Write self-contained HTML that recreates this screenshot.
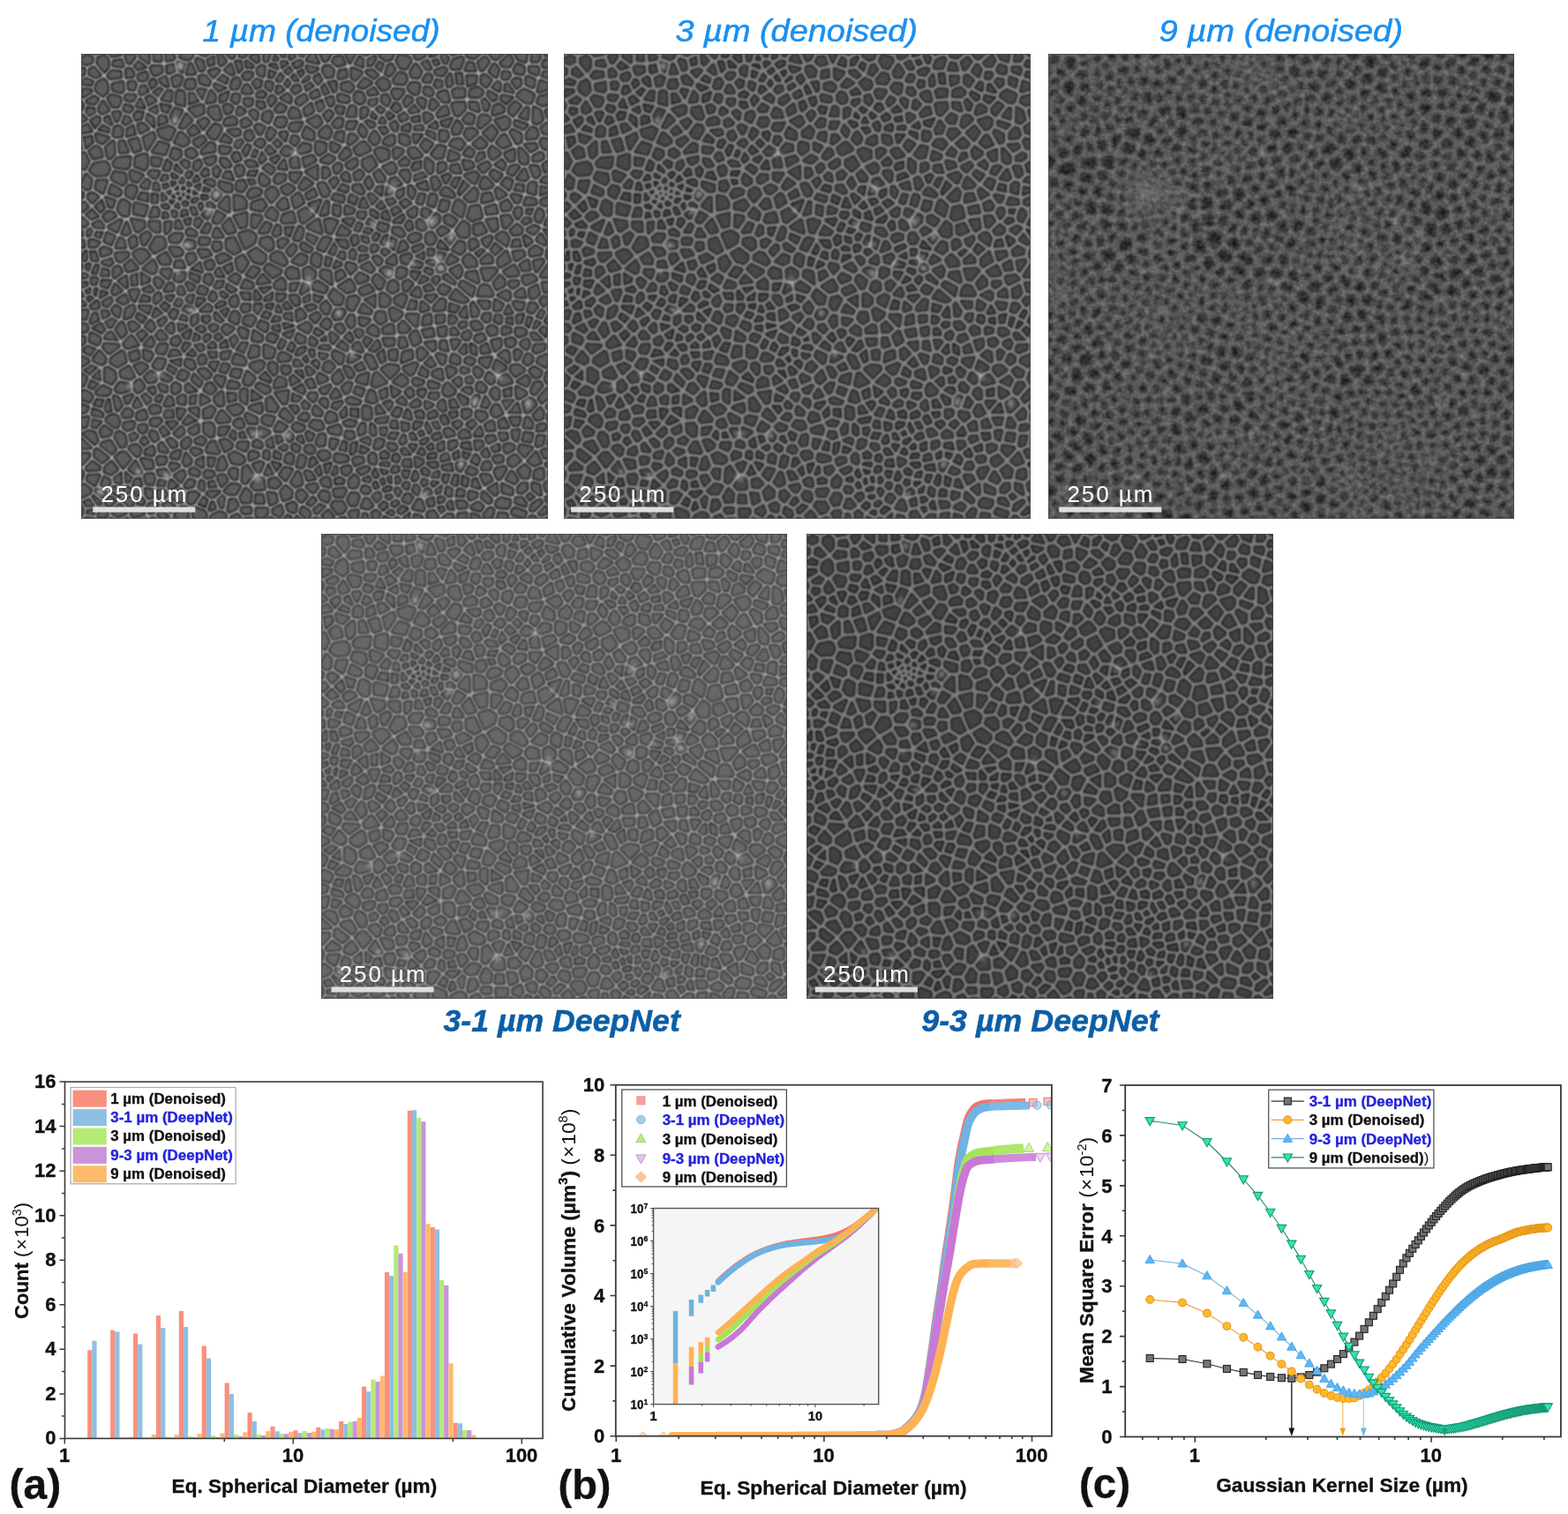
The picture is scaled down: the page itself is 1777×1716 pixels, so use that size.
<!DOCTYPE html>
<html lang="en"><head><meta charset="utf-8"><title>Figure</title>
<style>html,body{margin:0;padding:0;background:#fff}body{width:1777px;height:1716px;overflow:hidden}svg{display:block}text{white-space:pre}</style>
</head><body>
<svg width="1777" height="1716" viewBox="0 0 1777 1716" font-family="'Liberation Sans', Arial, sans-serif">
<rect width="1777" height="1716" fill="#fff"/>
<defs>
<path id="cL" d="M619 95l7-9 11 3 6 12-3 9-10 3-10-7zM1053 1006l22-10 25 17-38 5-6-3zM1023 0l9-6 1-1 7 15-6 9-13 0zM1002 791l15-10 8 4 6 10-17 17-7 0zM20 638l3-5 19 10 1 7-5 9-18-7zM576 760l2 0 10 16-19 5-3-5zM335 510l14-11 11 7-7 15zM851 929l11-4 8 3-10 18-7-3zM619 214l18-14 6 1 12 14-1 4-23 11-7-4zM215 497l20 0-1 11-6 7-10 1-7-5zM777 136l6-2 11 6 2 5-15 11-2-3zM294 84l9 10 0 13-17 4-2-2zM1035 866l15 0-4 19-12 5-3-5zM888 -14l19 10-16 14-14-3-3-5zM264 -8l12-8 23 5 2 3-1 1-20 11-14-6zM763 1011l4-1 4 2 6 19-3 5-21-5-1-1 0-2zM779 76l12 1 6 9-1 6-8 3-11-6zM114 1039l11-6 13 1 4 9-20 6-6-2-2-3zM56 1015l8-11 14 9-14 13-8-5zM582 95l3-3 21 6 1 9-5 3-18-3zM243 996l15-3 9 6-12 18-8 3-5-4zM1069 625l2-1 12 6-10 16-11 2zM349 681l19 7 5 9-3 8-24-3-3-5zM212 956l18-11 3 1 2 10-9 14zM394 166l3-4 6-2 12 6-7 15-5 1zM452 993l11-13 2 0 12 11-1 14-18 7zM29 250l24-5 7 4 4 12-6 13-25 2-13-11zM635 482l18-9 11 16-7 6-22-11zM1026 121l14 7 6 21-11 9-10-3zM757 24l3 1 11 16-7 13-14-1-4-11zM629 731l21-7 1 1-4 24-22-7-1-1zM659 1041l9-6 9 8-5 15-3 3-5 0zM203 611l5 1 2 17-7 4-10-11zM133 842l13-1 3 7-5 10-6 1-8-8zM228 1108l6-35 15-12 12 6-11 175zM307 460l16-7 16 10-24 11-2 0zM1014 297l8-6 8 2 1 3-2 22-16-5zM896 753l4-7 6-1 12 12-4 9-3 1-13-4zM296 1047l16-8 10 2 6 7-10 12-15 1-9-7zM993 215l3-1 16 18 0 13-4 4-5 0-9-6zM-7 346l1-3 13-6 8 9-11 11zM278 838l17-1 6 8-1 21-8 2-13-10zM-44 72l25-10 7 3 5 10-4 15zM721 2l22 6 4 8-11 18-13-3-8-15zM539 865l11-3 3 5-2 20-12 2-6-8zM990 944l15-12 12 11-4 18-13 0zM644 691l1-6 2-3 13 4 10 22-1 3-10 3-3-1zM605 154l19 0-7 16-13 0-2-2zM840 684l1-2 6 0 11 8-1 11-3 2-17-5zM209 214l16 6 1 11-11 9-2 0-11-8zM882 348l17-4 4 4 5 21-1 2-22 7-9-7zM924 1031l6-1 5 5-4 14-15 6-3-11zM177 659l16-1 2 6-7 16-14-2-3-7zM717 488l5-4 15 5-1 12-13 8-8-5zM313 343l15-18 6 0 1 33-21-11zM243 175l13-12 11 14-16 8zM344 59l10-4 7 10-7 14-12 0-2-2-1-3zM301 160l12 2 4 8 0 3-12 20-11-3-8-10zM570 732l15-15 9 20-13 11-5-2-5-6zM951 340l15-8 9 13-5 9-15 1zM1038 98l25-6 12 7-6 11-23 7-12-7zM381 803l4-4 23-7 2 18-6 4zM660 179l6-3 10 14-4 12-8 4-11-12zM938 559l1-1 17 10-7 13-12 0-1-1zM174 990l15 1 4 6-1 7-12 5-5-3zM285 749l9-3 11 14-11 11-15-9zM385 307l14-2 9 5-2 8-23 9-6-8zM400 961l6 0 7 4 2 21-2 1-19 1-8-9zM438 523l2-4 15-10 7 9 0 16-20-2-1-1zM371 102l16 0 1 2-2 11-8 4-9-8zM190 383l13-2-1 17-10 9-1-1zM144 733l14-13 11 7 0 12-3 4-13 2zM298 319l5-8 3-1 10 9-10 13-7-5zM335 910l13-7 19 10 3 10-10 7-18-3zM989 743l20-13 8 10-7 13zM144 959l3-5 15-2 4 10-4 14-14-2zM1016 534l17-9 5 18-9 10-11 0zM478 327l13-11 6 4 7 17-19 12-1-1zM682 97l1-2 10-2 7 13-7 11-11-8zM742 218l10-5 6 1 14 16-1 2-19 5-10-13zM158 1054l6-1 14 13-13 10-7-8zM504 490l11-6 15 10 0 11-12 8-12-4zM617 919l9-5 13 2 1 9-19 8-4-8zM3 765l5-1 14 7 3 7-6 11-20-8zM986 622l14 0 9 8-1 5-16 6-7-7zM337 560l6-8 8-4 5 13-5 11-8 0-4-4zM970 123l14-14 12 9-17 22-9-7zM280 948l4-3 14 2 3 4-2 6-14 4-6-4zM946 683l13-10 10 3 2 20-3 3zM351 468l1-3 15-8 11 18-13 19-10-6zM99 480l14-12 15 18-1 1-20 6-3-1zM-13 1031l8-11 8 13-1 10-2 3-10 2zM671 586l2-1 14 1 4 18-13 8-11-9-1-6zM777 596l14-5 1 1 1 19-19 3zM912 280l4 0 17 17-5 6-19 3-5-7zM324 -7l14-11 9 10-1 15-5 3zM590 390l19 13-6 8-23-1zM418 382l12 5-7 17-17 2-2-3zM781 240l3-3 13 10-1 21-6 3-9-11zM1057 444l4-2 11 2 10 15-12 11-10-4-5-8zM990 984l9-10 11 0 0 13-10 8-10-1zM572 990l3-3 22-2 3 5-7 14-18-1zM281 473l15-5 5 11-7 9-8 0zM174 173l26-8 11 6 1 2-11 22-22-8zM638 241l19-9 12 20-16 14-2 0-13-13zM959 887l13-3 9 4-1 9-16 8-4-4zM950 734l14-7 12 15 0 3-22 6-7-4zM910 994l2-1 18 18-2 6-6 1-14-11zM294 880l8-1 11 24-4 3-23-3-2-8zM507 948l3-2 10 2 10 15-17 3zM552 703l10-6 12 12-12 13-14-7zM405 847l21 9 1 2-14 11-9-4zM448 834l18 11-11 11-15-1-1-4zM628 851l8-13 7 2 0 19-12 5zM346 839l3-7 13-5 7 15-3 4-10 2-8-6zM479 845l8-8 18 7 1 3-6 7-12 2-9-9zM602 783l9-4 22 9-4 6-21-1-4-3zM851 1014l18 1 5 6-1 7-18 2zM1067 512l11-11 32 15-31 9zM224 1029l10-2 6 4 2 20-14 11-16-15zM90 609l5 2 7 21-11 11-12-18zM600 346l1-1 18 8-4 8-17 2zM676 383l20 6-3 11-9 2-12-6zM197 778l2-1 7 4 3 15-18 2-2-2zM989 95l2-5 13-9 19 9 3 4-5 15-3 2-11-1-18-13zM722 184l1-1 18 4 3 16-8 4-13-6zM595 836l12-6 16 4-6 10-17-1zM89 334l6-3 14 8-2 25-4 3-3 0-9-3-8-11zM364 151l10-5 11 11-3 4-14 5-4-4zM315 210l22 3 2 3-8 10-16-2zM413 259l10-8 13 8 1 5-7 8zM726 727l13 11 0 8-11 8-20-10zM1018 257l3-3 14 1 5 17-8 8-6-2zM1036 352l1-1 8 5 3 9-8 16-9-3-2-9zM937 948l4-8 18-4 4 5-12 21-4 2-3-1zM908 50l7-2 14 12-9 14-2 1-11-9zM238 220l11-6 11 9 2 6-11 7-12-6zM68 691l24-17 5 4 4 20-19 11-15-9zM549 31l1-2 11-2 11 10-2 14-14 2-8-15zM891 715l6-5 13 10-6 12-6 1-7-10zM-6 983l12-7 16 12-1 4-5 6-18 8-8-10zM11 274l12 11-3 19-8 3-12-9zM937 118l8-4 13 9-1 8-22 7-3-4zM101 7l2-4 17-2 1 7-10 13-4 0zM17 -17l13-20 11 31-9 5-13-8zM56 213l15-14 3 1 1 27-10 10-5-3zM896 811l3-1 18 4 3 9-13 10-12-12zM808 95l2-6 14-5 5 2 5 19-3 4-11-1zM13 107l16-10 9 6-7 10-16-2zM522 -1l5-1 11 23-26-6 0-2zM447 424l11-5 11 5-13 15-8-2zM964 448l8 22-22 13-5-6 0-12zM955 622l4-3 14 4 0 8-16 5-2-1zM57 830l4-7 13-5 7 3 6 11-4 13-6 2-20-15zM474 241l12-8 4 3 4 21-17 0zM884 569l4-5 13 20-4 10-11 1zM1010 681l5 0 8 7-1 10-11 7-9-8zM323 119l10-4 10 7-3 9-12 4zM-5 723l2 0 16 12-8 17-5 0-5-5zM121 707l16-6 13 7 0 2-17 16zM123 924l13 24-2 3-12 0-13-9zM280 238l24-5-1 11-11 7-8-3zM837 491l0-2 20-9 6 11-4 13-5 4zM810 533l9-10 17 9-10 13-9-2-6-6zM875 50l20 1-1 14-17 7zM479 471l17-17 15 6-2 13-12 6zM654 763l10 4 6 20-9 4-15-5zM387 339l23-9 9 13-10 13-23-5zM42 1033l7-2 9 6 1 8-5 5-14 0-1-2zM70 39l19 2 1 11-23 4-6-6zM584 527l24-15 2 0 10 17-2 7-16 5zM427 168l2 0 11 8-2 7-11 12-7-9zM711 554l15-9 10 4 1 3-8 22-17-9zM922 724l3-1 12 9-2 13-7 3-12-11zM155 803l9-6 14 4 2 4-3 8-17 2zM889 204l16-14 14 14-6 8-13 2zM387 662l15 2 0 20-19 5-3-6zM977 856l1-2 14-1 1 1-5 23-9-5zM607 1043l4-6 15-2 2 3-4 23-3 1zM73 247l11-11 27-2-2 20-6 6-27-4zM704 87l5-7 21 2 1 5-11 15-9-1zM450 819l8-13 5-1 17 21-8 8-21-14zM930 651l18-5 2 1 1 16-13 10zM1045 -12l23 7 1 7-4 3-13-2zM438 283l8-10 16 1 0 11-16 9-7-3zM562 549l9-14 1-1 22 17-4 16-14 1zM1010 180l12-13 9 3 4 14-5 7-20 2zM979 565l2-3 23 3-4 14-12 1zM19 221l14-11 10 5 4 18-19 4zM848 336l6-5 3 1 13 12-6 24-2 1-20-13zM239 462l3-8 13-1 5 12-15 12zM864 809l1-2 13-1 5 3-1 10-12 8-6-5zM552 377l13-3 16 6-14 27-10-3zM841 116l3-4 24-2 2 15-15 15-5-1-3-2zM922 621l8-5 12 6 0 12-15 4-7-11zM708 394l16 1 9 13-2 4-8 2-17-10zM919 377l22-3 3 21-10 7-3-1zM411 825l7-5 20 4-9 19-18-7zM266 719l2-3 13-2 13 13-3 6-9 4zM-39 365l23-9 10 9-10 14zM1059 816l10 2 6 13-4 5-7 1-6-8zM237 906l12 14-1 8-10 6-3-2-4-7zM922 -5l12-15 28 13-21 19-6-1zM612 996l12 0 6 8-7 19-12 1-7-14zM958 493l22-13 2 0 9 18-2 4-21 2zM333 174l22-3 5 5-1 7-11 3zM38 65l13-7 7 8 2 19-10 9-1 1-14-10-2-8zM240 59l15-1 4 13-5 7-13 1-6-5zM397 1031l23 0 2 2 0 9-8 9-15-1-2-4zM566 873l16 3-9 19-2 1-7-6zM762 672l10-6 13 14-15 14-6-4zM982 -5l5-2 23 7-3 18-17-6zM762 297l20-7 4 18-18-3zM423 640l7-6 15 6-8 14-15-6zM508 893l5-5 10 0 6 9-3 7-9 2-10-6zM609 593l9 1 1 21-8 6-2-1-8-14zM804 363l8 5-1 13-14 12-4-1-3-11zM514 777l4-7 13-1 3 6-5 12-3 1zM474 554l0-6 13 0 6 6 1 13-8 3zM741 76l7-10 16 1 3 4-3 18-7 3-13-9zM109 895l4-6 12-3 10 10-3 12-6 4-2-1zM579 179l14-2 2 2-2 20-18-8zM805 683l4-3 17 5-2 14-5 4-4-1zM518 841l8-10 17 2 6 11-1 5-13 4-17-9zM322 618l7-4 16 8-1 4-14 10-10-10zM864 381l3-1 11 8 1 23-7 5-15-3-7-12zM616 663l9-8 4 0 9 18-2 2-20-6zM121 340l2-1 27 7-7 21-23-5zM70 580l8-9 11 7-4 18-10-6zM5 861l1-1 12-5 13 4 6 17-5 7-1 1zM420 311l13-9 8 4 6 13-15 17-2 0-11-15zM839 649l15 0 4 4-12 16-2 0zM161 235l21 4-6 15-15-2zM843 442l13-17 12 4 1 16-10 9-17-9zM524 459l7-7 13 7-3 21-5 3-14-9zM423 995l17 2 4 17-15 8-1-1zM1023 973l15 4 4 22-4 0-15-12zM238 693l16 3 4 13-4 5-3 1-15-9zM590 68l16-4 10 8 1 5-7 9-20-6zM513 152l21-11 4 1 7 14-12 11zM682 713l14-8 20 2 2 2 1 7-19 19-19-20zM918 872l3-5 15-1 3 9-16 7zM72 -11l16 1 4 8-2 3-20 4-6-7zM503 203l16 4 0 12-22 6-5-3-1-4zM285 385l3 0 5 6-6 14-14-1zM770 208l10-14 16 10-14 18zM206 753l7-7 11 6 0 11-12 7-6-4zM421 63l11 3 2 2-4 15-2 0-10-8zM608 966l11-11 9 9 1 7-6 12-12 0-4-6zM613 33l22 8 0 4-14 15-8-6zM198 521l5-1 6 6-1 10-18 2-1-2zM947 833l12-6 9 19-1 1-18 1zM1036 690l18-8 6 7-4 19-4 2-18-11zM111 269l5-4 24 10-13 15-13-4zM740 359l15-11 6 3-2 14-6 5-9-3zM839 254l15-3 6 18-14 0-8-6zM59 406l16 8-7 18-14-6-1-2zM166 550l7-8 5 1 2 3 1 9-11 10-2 0-2-2zM590 278l9-9 7 4 3 16-15-4zM200 417l10-9 17 0 2 6-8 13-18-1zM494 392l7 3 2 6-4 17-8 5-9-3zM260 16l3-5 12 5 4 16-3 5-7 1zM172 918l4-5 16 2 1 6-4 8-14 2zM440 769l29-5-3 25-3 3-6 1zM411 501l16 16-26 4-1-5zM617 299l2-1 13-1 9 16-1 2-7 2-16-8zM245 125l28-9 4 4 0 14-17 8zM396 755l6-8 24 9 2 8-1 1-10 5zM96 1012l1-1 15-5 4 5 1 12-7 4zM347 368l28-7-1 29-14 4zM587 -45l11 30-7 9-14 0-5-10zM537 909l4-7 14-2 8 6-1 10-16 5zM1043 332l22-9 2 12-16 9-8-4zM866 634l11-6 6 7-4 11-4 2-6-1-5-6zM525 523l11-7 22 15-6 10-25-7zM45 887l3-5 18-5 12 20-8 9zM738 597l1-6 21 0 4 2-3 24-4 0zM305 396l5 0 11 18-2 1-18 0-2-4zM931 761l8-4 7 5 1 18-2 3-8 0-10-13zM784 1044l4-6 11-2 9 14-1 5-8 2-14-8zM-5 107l5 2 4 8-3 10-13 2-2-9zM664 273l11-9 13 17-2 8-14 0zM823 854l1-2 10-3 11 10 0 5-17 4zM435 1033l17-9 5 15-7 10-15-8zM109 197l19-5 7 25-15 5zM780 656l1-1 21-3 0 17-6 4zM-22 663l16 8 0 5-11 14-32-14zM49 753l17 8 0 5-3 5-8 3-19-2-2-5zM1021 1022l16-10 5 0 2 5-18 18-7 0-1-2zM341 975l14 2 5 4-10 17-16 0-9-7zM107 65l12-2 5 6-4 12-12-1zM885 1043l16 5 4 14-7 3-14-7zM670 66l13-11 13 7 3 10-6 8-11 2zM939 251l14-10 8 10-4 11zM36 288l21-1 1 2-9 26-16-10zM153 272l5-7 18 2 1 2-7 12-6 0zM55 937l14-12 13 17-14 11-15-6zM1056 722l5-2 11 7 2 18-9 4-8-2-6-10zM16 956l25-1-9 21-2 2-16-12zM477 123l3-1 12 6 5 16-22 1-4-8zM828 58l9-12 4 23-7 5-4-1zM287 568l7 5 1 6-2 4-21 0-1-1zM851 152l3 1 9 12-6 15-13 2-3-10zM451 679l8-1 16 9-4 8-20 2-5-5zM38 10l12-6 2 0 9 10 0 16-8 10-16-19zM414 0l2-3 7-2 4 5-4 15-4 2-4-2zM1043 900l8-4 16 5 1 7-17 8zM553 602l6-1 7 9-3 10-5 4-15-9zM639 803l3-5 14 5 2 19-3 5-5 2-11-3zM391 1075l8-12 12 1 3 10-15 26zM89 720l19-11 12 22-8 6-21-5zM121 747l9-8 3 0 10 14-2 6-12 9-2-1-5-4zM52 960l11 5 2 8-6 9-13-5zM570 679l4-6 21 10-3 16-6 4-16-16zM413 135l12-5 4 1 4 8-7 16-2 1-13-7zM601 1l7-8 12 3 1 2-12 22zM416 486l9-9 28 14-2 6-16 10-19-18zM745 412l12-5 12 4-1 9-19 7-7-9zM458 365l20-6 2 2 5 20-26 2-5-4zM-9 268l7 3-11 24-2 1-20-12zM245 965l12 4-3 11-15 4-4-5zM782 410l7-5 7 1 8 13-7 12-11 0-5-8zM729 678l18-6 2 1 2 16-25 10zM979 449l23-2 3 10-19 11-2 0zM119 451l15-8 11 2 10 13-20 17-15-18zM694 468l15-12 3 3 2 15-5 4-16-5zM985 1009l1-2 13 0 9 12-1 6-22-7zM954 185l7-1 12 22-17 7-14-11zM431 457l12-8 11 3 12 18 0 3-7 7-29-14zM158 34l0-2 4-4 20 1 1 12-13 7-7-2zM174 462l18-11 10 16-2 9-18 0zM342 233l7-9 7 1 6 14-13 5zM-15 -15l4-3 16 5 1 6-21 15zM723 272l3-7 14-1 5 9-2 15-5 2zM575 318l21 6-2 10-2 2-21-7-2-1zM510 267l25-13 0 29-3 1-21-15zM142 672l17 5 3 6-8 13-11-6zM537 297l1-1 5-3 9 1 11 18-5 10-7 1-5-3zM489 102l16-9 2 0 5 10-16 13-9-5zM976 1038l6-8 24 8 2 3-5 10-25-7zM-4 833l4-6 15-4 1 1-4 20-8 3zM889 305l4 0 6 9-4 18-16 3-10-9zM666 223l1-5 11-5 18 6 1 17-18 8zM358 410l2-3 20-6 12 7 4 6-4 15-21 12zM543 968l10-7 7 0 3 3 2 15-2 3-15-4zM532 204l5-5 17 5 0 15-15 10-7-8zM577 581l16-2 5 7-9 14-13 2-6-8zM988 387l11 9 0 7-6 6-14 1-6-9zM735 765l10-8 6 5 2 12-9 5-9-12zM102 38l3-4 6 0 8 10-2 7-14 2zM939 152l0-2 23-7 9 7-1 12-8 9-8 1zM281 504l3-3 9 0 5 9-6 13-13-7zM183 489l19 0 2 3-5 16-3 1-15-12zM865 244l2-2 18 4 4 7 0 3-18 6zM572 257l10-9 7 4 1 8-10 10-4-1zM341 1050l13-6 6 7 0 14-2 1zM661 515l2-9 7-5 17 14-6 16-7 2zM844 14l18-7 4 6-7 20-15 1-4-1-2-5zM1016 446l13-10 15 8-2 10-22 4-2-2zM685 256l19-9 5 3 5 9-3 9-13 4zM314 290l27 7 0 14-2 1-12 0-14-12zM591 938l16-4 5 8 0 2-11 11-9-5zM929 810l8-14 8 0 10 19-15 8-7-3zM824 751l5-4 2 0 17 17-4 7-14 5-7-3-3-10zM367 940l10-6 12 20-15 19-4 0-5-4zM321 390l15-16 13 27-2 3-15 3zM1041 198l4-6 21 5 1 5-15 14-6-4zM756 1045l15 4 1 3-9 10-9 0zM909 421l18-8 2 1 1 7-10 16-7-5zM491 635l16 8-1 11-12 1-8-8zM476 158l25-2-10 19-14-1-5-6zM269 528l3-1 14 7-5 11-17-4zM332 803l1-2 22-6 12 10-6 9-15 5zM1026 470l19-4 3 5-15 22-3-2zM177 200l21 7-8 21-28-6zM824 304l6 0 14 12 2 6-5 3-24-6-2-4zM445 145l15-1 5 8-5 12-12 2-9-7zM328 1067l6-6 15 14-9 23zM849 535l27 23-3 3-8 2-28-9-1-1zM217 86l9-3 7 5 1 29-19-5zM-80 877l70-7-8 27zM586 1055l11-4 13 18-4 7-18-10zM543 494l5-4 15 3 2 2 3 27-25-17zM941 695l21 14-1 6-16 7-11-9zM87 418l9 4 4 17-21 0zM539 1001l7-10 14 3 3 13-5 9-14-6zM981 36l7-12 15 6 0 12-3 4-16-3zM866 465l11-10 5 2 12 12 2 11-22 3-8-13zM390 931l16-6 7 3-9 20-4 0zM501 1028l2 0 13 8 3 10-6 7-2 0-14-13zM581 146l11 2 1 1-3 16-13 2-7-8zM731 711l26-10 5 3-9 20-7 4-14-12zM701 285l12-4 12 14-13 5-13-8zM124 234l19-6 6 1 0 27-5 7-22-9zM385 702l22-6 7 4-2 11-13 11-16-14zM43 445l7-6 17 6 1 1-2 6-19 6zM97 656l15-16 4 1 13 19-25 7-6-5zM789 743l2-1 20 8-3 7-18 0-3-6zM-14 240l6-11 15-4 10 19-9 17-13-6zM547 1047l13-12 12 15-17 7zM302 781l14-14 4 0 3 26-3 4-7 1-10-10zM155 381l22 0 1 22-10 0-12-10zM344 585l8 0 7 9-4 16-3 2-16-9zM102 805l6 0 8 7-2 10-17 2-4-8zM520 91l15-9 5 13-14 6-2-1zM742 302l6-2 9 12-6 15-9-8zM559 814l4-2 13 5 4 13-21 6-5-9zM167 510l6-3 13 10-8 13-4 0-8-12zM911 318l16-2 6 15-23 6-2-2zM28 691l13-17 14 16-1 9-8 5-17-8zM745 640l11-11 5 0 8 21-1 3-13 8-2 0zM599 214l8 3 4 11-17 12-7-4-1-4zM18 424l7-2 16 6-8 9-14 0zM-9 907l27-1 0 7-16 17-7-3zM490 993l11-4 11 12-11 14-3 0-9-8zM875 496l20-3 6 22-3 4-26-14zM61 101l7-7 20 5 1 9-5 11-12 1zM986 755l21 11 2 5-16 10-3 0-3-4zM1008 825l6 0 9 13-2 10-18-2zM642 56l16 10-17 11-12-3 0-3zM191 1068l13-11 17 15-4 23zM882 83l17-7 11 9-1 6-9 7-19-1zM906 957l2-3 17 1 6 11-16 10zM493 359l16-9 17 17-22 16-6-3zM904 530l7-6 12 2 10 18-1 3-2 2-31-1zM278 807l17-8 8 7-9 18-16 1zM892 878l15 0 4 9-13 10-3 0zM251 597l11-6 1 1 1 15-11 8-1-1-2-4zM461 938l17 4-14 25-14-13zM78 758l10-13 20 4 1 13-20 6-10-4zM971 516l18-1 2 7-13 9-7-5zM969 917l15-8 12 13-16 13-6-1-6-7zM809 208l15 3 1 1-6 23-14 2-11-9zM761 530l4 1 5 13-2 6-3 1-16-5-1-1zM34 182l28 8-14 13-11-5zM163 349l9 0 4 6-2 13-18 1zM406 606l16 6 1 2-1 10-5 5-17-11zM649 626l12-11 11 8 1 15-6 1-16-7zM745 -58l8 39-9 14-17-5zM606 553l16-4 8 8-13 24-8-1-7-9zM77 869l4-10 6-2 11 7 4 18-4 8-9 1zM675 -2l14-12 19 12-5 13-11 4-13-8zM484 73l10-1 1 2 2 8-13 8-7-8zM337 742l19 5 2 5-6 6-20-1zM1017 565l11 1 6 8-11 13-10-3-1-1zM394 204l8-9 8-1 6 8-8 10-13-7zM529 800l3-1 14 13-3 8-15-2-3-8zM763 -11l17 3-2 13-14 7-5-1-4-8zM371 513l17 7 2 6-5 5-22-1zM1010 326l20 5 1 9-2 1-23 1-2-2zM963 282l13 5 1 2-7 19-17-13zM131 47l16-5 4 9-6 9-11 1-5-6zM986 350l8-1 3 2 1 12-9 11-8-14zM685 646l24 0-1 13-16 3-2-1zM609 121l5-3 8 5 0 18-19 0zM994 888l1-1 26 5 1 2-17 19-13-14zM608 683l3-2 21 6-1 1-19 11-7-1zM347 322l1-1 18 4 8 12-1 12-25 5zM326 37l13-13 7 21-6 2zM141 190l22-11 4 12-17 26-2-1zM155 863l4-8 9 2 7 15-8 6-3 0zM399 37l3-6 7-4 6 2 1 2-3 20-12-5zM372 986l3 0 10 11-2 19-17 1-5-12zM423 1059l6-7 17 10 2 4-3 7-19-4zM560 853l1-4 23-7 5 9-3 12-22-4zM1025 233l15-9 7 4 1 7-10 7-13 0zM213 124l15 5-15 29-6-4-3-14zM871 692l8-4 12 5-1 6-6 6-14-6zM890 389l18-5 10 19-18 8-9-3zM547 419l6-3 13 4-15 27-15-6zM567 1024l6-9 20 1 7 14-5 8-13 5zM941 413l12-8 8 1 8 12-5 17-22-16zM492 619l20-10 10 9-6 12-2 2-21-11zM1004 262l2 0 7 19-7 6-18-4zM109 539l4-3 16-1 1 6-8 19-4-1zM904 142l6-3 11 2 6 7-1 3-21 17-6-6zM725 460l18-7 5 6 0 2-9 15-12-4zM954 975l23 11 0 12-2 1-20-5zM114 375l28 5 2 12-16 11-4-2zM-7 585l19-4 3 4-5 16-15-3-5-7zM318 678l20-3-6 16-13 0-1-2zM133 0l20-6 0 25-1 1-18-13zM-12 641l19 1 1 11-8 7-14-8zM391 880l7-4 10 5 2 9-3 3-17-4zM535 732l5-7 17 9 1 5-18 8zM1029 945l15-5 3 3 1 17-6 5-16-4zM63 391l25-14 3 1-10 25-18-9zM555 335l4 0 1 2-1 25-14 4-2-1zM545 782l10 1 4 6-2 11-2 2-14-12zM922 1067l13-6 7 8-3 20zM150 1028l5-8 13-3 5 3 0 5-10 15-8 1zM237 -8l12 0 3 1 1 9-5 8-8 3-16-6zM678 491l10-7 16 5-2 14-7 3zM136 299l12-14 7 5-4 15-13-2zM3 166l11-5 9 14-22 4-2-3zM228 880l12-10 7 4 0 10-10 10-3 0-5-4zM-8 29l15 6-1 11-14 7-4-2zM907 488l29-2 6 6-18 21-10-1zM102 578l13-7 4 1 2 8-8 15-13 5-2-1zM600 482l2-6 2-2 16 4 2 3 1 5-12 13zM146 618l10-13 5 3 6 12-8 9zM371 597l15-4 9 7-8 16-2 1-17-7zM697 883l14 2 4 7-1 4-10 3-9-8zM564 635l4-3 14 11-11 13-4-4zM453 222l11-12 2 0 13 9 0 3-13 9-7-2zM315 877l13-3 14 11-1 7-15 9zM373 245l1-1 6-2 13 3 6 9-19 1zM1056 759l4 2 1 17-17 13-7-10zM668 876l6-3 12 4-4 13-11 6-7-3zM895 639l15-4 6 11-16 8-8-6zM834 880l15-3 2 3-1 9-13 8-3-1zM813 178l3-4 13 3 3 11-7 10-12-2zM379 452l18-11 21 16-1 10-9 9-18-6zM943 1013l8-6 21 5 0 9-6 9-21-2-5-6zM885 608l14-1 10 11-1 5-16 3-7-9zM-31 951l21-12 9 4 5 8-3 13-11 7zM1016 30l18 0 3 6-3 11-18-7zM441 740l9-7 12 5 2 14-25 5-1-6zM715 802l11 4-7 16-12-3-2-2zM292 202l10 4 0 15-28 5-1-5zM507 282l17 12-22 14-7-4 0-4zM824 369l10-3 17 11-10 14-17-10zM349 261l2-5 12-3 6 9-3 12-11 3zM454 304l15-8 13 7 1 3-14 12-10-3zM-13 757l4 4-5 20-6 4-197 12zM169 416l14 0 4 3 4 13-2 6-23 13-10-12zM804 38l15-6 8 2 1 3-9 12-13-2-4-6zM975 322l1-2 1-1 20 4-5 13-7 1zM268 422l3-5 17 1 3 4-4 10-18 0zM1060 226l13-12 20 18-29 4-3-2zM420 785l1-2 9-5 16 23-6 10-18-3zM289 41l1-2 16-5 7 4-13 15zM206 646l12-6 7 10-7 11-11-2-3-7zM757 915l17 6 1 2-1 5-12 8-3-1zM924 220l7-10 18 13-1 6-15 10-6-5zM1012 397l14-7 11 4 0 2-12 13-13-8zM223 179l7 2 14 14-1 7-12 7-19-8zM652 913l8-8 6 3 3 14-3 8-4 0-9-5zM843 195l16-2 10 11-10 13-23-10 0-2zM947 1041l17 2 2 6-1 4-14 6-7-7zM181 728l7-3 17 11-7 6-16-5zM376 720l17 13 0 4-10 14-13-3-2-6zM639 980l12 2 4 8-5 6-9 0-6-7zM102 307l8-9 14 4 2 7-9 19-15-8zM195 876l8-4 12 9 1 8-10 3zM206 999l20-11 4 5-1 22-8 1-16-10zM901 255l19-10 6 6 1 3-12 13-4 1-10-10zM520 594l15-7 7 8-11 14-11-10zM78 915l11-11 10-1 13 15-16 19-1 1zM731 109l9-13 10 6 0 5-14 12zM874 170l15 0 9 9-19 16-10-11zM201 442l1-3 20 1 8 10-3 6-15 3zM815 556l9 2 1 2-2 20-23 2-1-1 1-8zM466 491l8-7 17 6 2 18-21 1-8-10zM315 811l6-1 16 18-2 5-24 3-5-7zM997 653l14-6 5 8-4 13-4 1-12-10zM1063 661l13-2 34 20-40 2-7-8zM372 820l4-5 22 11 0 11-1 1-17-1zM619 271l12-7 9 9-8 11-11 1zM576 908l3-1 22 5 4 5-1 5-19 4-8-3-3-4zM858 860l10-8 12 8 1 9-20 2-4-4zM128 814l15-6 6 14-3 6-16 1-4-4zM1058 355l16-9 5 2-4 17-15-5zM984 152l27 9-9 9-19-9zM71 1036l17-14 14 16-1 3-17 7-12-6zM635 125l9-3 6 5-4 13-11 6zM870 276l1-1 22-7 8 8-8 17-5-1zM391 628l19 12 0 9-4 3-18-3zM494 913l5-3 10 6-5 19-5 3-10-3zM465 910l7-4 9 6-3 17-15-4-1-1zM792 319l2-1 9 2 3 6-7 20-13-5zM74 778l1-2 9 4 8 17-9 11-3-1zM450 113l14 8-5 10-15 1-4-6zM1014 1057l5-9 7 0 7 8 2 13-8 6zM98 837l19-3 4 3-3 11-14 5-8-6zM809 622l17-3 1 2-1 17-14 1zM73 489l7-7 7 2 5 11-16 12-2-2zM166 -6l2-1 12 5 1 18-15-1zM314 848l21-2-9 16-13 2zM689 193l14-8 6 1 1 16-9 6-16-6zM538 -9l2-2 21 1 4 10-7 14-8 2zM240 422l16 3 1 12-2 3-14 2-8-9zM917 349l21-6 5 17-23 3zM404 283l5-11 16 12 1 8-11 7-9-5zM253 1032l6-2 21 8 3 6-1 8-13 5-14-7zM888 782l7-7 7 2-8 21-3 1-4-3zM1041 803l1 1 5 7-1 15-14 4-7-11zM366 50l8-8 13 1 1 6-9 9-8 0zM544 241l17-12 13 7 0 2-12 10-17-4-1-1zM308 358l17 9-14 16-8 0-4-5zM75 170l4-5 6-1 8 6-1 16-11 2-6-2-2-2zM372 71l6 0 9 15-1 3-17 0-4-4zM678 545l7-2 14 10 0 13-9 7-12-1zM503 815l10 1 3 7-7 9-16-6zM736 998l7 0 8 8-9 13-11-5-2-4zM1028 745l12-1 5 8-17 20-6-3-2-7zM373 178l11-4 7 14-7 8-7-1-6-9zM1000 508l2-4 20-3 7 5 3 6-23 11-5-3zM249 900l6-6 17 5 1 4-15 7zM290 123l18-4 2 1 7 22-4 7-12-1-12-13zM408 419l18-3 8 8 1 15-10 7-20-15zM797 721l14-6 5 1 4 21-2 2-21-9zM752 739l6-3 18 7-2 5-15 4-7-6zM720 615l10-8 15 16-9 8-14 0zM721 43l13 3 4 12-7 11-20-2-3-8zM355 885l3-4 20 0-1 11-6 8-17-8zM821 1052l10-8 11 1-1 15-11 4-10-7zM972 825l23 0-4 16-12 0zM957 41l12 1 3 6-6 9-8 0-4-3zM1040 560l7-9 16 3 1 1-15 16-3-2zM815 652l11-1 5 22-17-5zM173 691l15 2 2 2 0 3-7 15-8 3-12-8 0-2zM1041 61l15 7 1 12-21 6-1-2zM426 702l10-2 7 6 0 17-6 5-12-15zM361 767l6-7 9 2-1 29-2 2-11-8zM945 547l19-10 8 5 0 11-5 6zM900 19l15-12 9 11-12 17-6 2zM927 273l7-9 19 10-11 14zM54 714l6-3 16 10 2 15-9 12-15-7zM1050 975l6-5 12 4 1 11-15 6zM591 756l13-11 9 2-7 20-7 3zM311 0l1-2 16 18-10 10-5-3zM857 525l2-5 6-4 26 14-5 19zM239 403l1-3 9-3 11 8 1 4-2 4-18-3zM41 121l9-13 12 19-2 3-12 5-6-3zM1028 660l23-1-1 11-19 8-7-6zM353 293l2-3 13-3 6 14-8 11-13-3zM147 898l14-8 2 1 3 13-4 6-17-3zM329 424l3-4 15-3 13 29-13 7-17-11zM200 590l8-10 11 4-7 16-7-2zM14 3l11 6-1 10-11 5-18-8zM426 966l14-4 12 12-10 10-15-2zM195 85l8-1 2 1-2 22-20-4zM880 992l17 4-2 9-13 6-4-5zM904 692l1-1 25-3-8 22-3 1-16-12zM163 468l8 15-3 12-7 3-20-11zM77 523l14 14-16 9-4-4-1-4zM632 533l20-9 10 13-24 10-7-8zM316 245l1-8 13 2 9 13-2 3-12 2zM870 -67l10 43-15 17-11-18zM886 1024l14-7 11 9-7 10-19-6zM794 283l9-4 3 2 8 16-9 11-7-2zM1055 799l14-11 16 6-13 12-15-3zM157 835l3-7 18-2 4 6-1 2-11 10-10-2zM257 247l11-6 4 11-10 12-7-5zM820 121l9 0 4 15-23 7-3-7zM-8 699l10-12 14 7 1 4-20 12zM479 187l11 1 3 7-9 12-9-7zM100 96l4-3 17 1 2 2-7 11-15-3zM337 1011l12 0 6 12-5 8-14 7-3-4zM310 962l2-6 12-1 7 12-13 13zM25 925l17 12-1 5-27 2-2-5zM424 105l6-9 3-1 7 6 1 3-11 14zM502 182l8-16 17 12 1 12-4 5-19-5zM906 665l13-7 7 18-18 2zM69 281l6-13 24 4 3 17-8 8-24-12zM415 662l2-2 19 8 3 6-5 14-12 2-7-4zM328 148l16-5 8 7-1 9-24 3-3-6zM245 851l20-10 1 16-13 6-7-5zM631 598l22 4 1 2-13 12-9-3zM31 901l3-4 2-1 25 19-13 11-17-13zM1058 373l13 4 0 14-20-4zM749 792l11-8 8 5-1 8-15 4-5-4zM-441 825l99-6 327 20 9 17-105 12zM632 -8l10-10 16 14-13 6-12-7zM219 780l12-6 5 3-1 17-14-2zM1058 479l8 3 3 9-14 15-12 0-1-4zM855 1043l18-2-2 17-12 7-6-4zM50 369l11-11 11 2 6 8-20 11zM974 710l6-4 12 0 12 10 0 2-20 13-11-13zM913 590l14-1-2 16-7 3-9-9zM345 92l10 0 4 5-3 12-5 3-10-7zM357 629l1-6 3-2 17 7-3 16-10-1zM962 648l15-4 7 7-1 7-9 6-10-3zM315 917l7-4 8 20-6 9-13 1-3-3zM951 20l20-18 7 14-8 13-14-1zM227 718l2-1 14 8-5 11-7 4-13-6zM173 945l17-3 9 12-3 3-19-2zM136 920l3-2 21 4 3 15-2 2-14 2zM936 913l15-2 5 4-1 9-15 3-6-9zM544 571l11-10 10 14-6 14-6 0-9-11zM622 507l9-10 19 9-1 6-20 8zM635 161l12 14-5 13-4-1-9-12zM601 856l15 1 3 12-11 4-10-6zM912 179l19-16 12 15-13 19zM817 332l17 4-5 18-10 3-8-5zM69 298l20 11 0 10-6 3-20-7zM1050 280l16-1 3 1-7 13-20-4zM664 726l7-3 21 22-23 10-10-4zM78 457l1-5 27-1 1 6-17 14-7-2zM949 503l10 10 0 12-17 9-7-14zM17 319l8-3 13 8-13 13-9-10zM455 709l16-1 3 7 0 3-8 8-10-4zM266 692l4-7 8-2 5 11-3 7-11 2zM772 562l15 12 0 5-15 5-3-3zM489 948l6 2 6 22-2 4-13 5-10-9zM1060 947l17 0 6 7-10 8-12-4zM513 392l23-16 3 1 6 29-2 1-28-12zM466 1023l15-6 7 7-3 14-3 1-12-4zM108 611l9-4 14 11-13 10-4 0zM488 583l10-4 10 12-1 6-17 8zM907 468l15-13 10 10 0 8-24 2zM828 712l4-3 17 6 0 7-16 12zM696 27l8-3 7 12-12 14-9-5zM699 518l8-4 10 6 1 15-13 7-11-8zM642 1009l8 0 11 15-11 7-12-2-3-2zM43 855l9-11 17 12-4 8-17 4zM761 380l5-4 12 8 3 11-7 5-12-5zM109 421l10-8 4 2 3 18-12 7zM540 177l16-13 2 0 9 11-5 15-3 2-18-5zM419 364l11-15 2 0 13 13-4 15-2 0-18-8zM808 401l10-9 15 9-18 11zM1031 903l11 23-1 1-16 6-12-10zM953 368l17-1 7 12-14 15-6-1zM643 291l9-12 9 17-7 9-2 1zM662 463l0-2 10-2 9 8-1 7-7 5zM474 270l24 0 0 2-12 19-11-7zM71 69l23-5 1 19-4 4-19-5zM639 568l19 15-3 6-25-4zM397 1000l14 0 3 18-19 0zM842 84l8-5 18 1 1 2-1 15-22 2zM985 542l14-10 4 3 3 17-21-2zM973 178l5-6 19 10 0 16-3 3-7 2zM-5 611l16 3 4 6 0 3-5 7-22-1zM505 126l16-13 5 18-17 9zM53 658l31 2 1 3-22 16-13-14zM1005 859l18 2-4 18-18-3zM1043 167l12-9 10 1 7 23-2 2-23-5zM576 7l14-1 7 17-16 4-11-9zM1045 519l10 0 15 14-5 8-15-2zM510 318l17-11 6 14-19 8zM810 793l9-8 4 2 3 19-2 2-7 1-8-9zM266 447l1-3 20 1 7 10-20 7zM246 944l8-5 14 8-2 9-2 1-17-5zM226 846l6 5 1 8-12 10-10-8zM578 496l13-5 7 12-18 11zM550 138l10-9 6 1 4 8-11 14-1-1zM578 615l12-2 7 12-8 8-13-11zM457 328l8 2 5 18-16 5-10-10zM383 131l8-4 9 7-2 14-3 1-12-13zM901 561l24 1-1 14-12 1zM367 568l15 1-1 12-13 4-5-8zM708 218l9-5 12 5 0 5-16 14-3-1zM159 642l6 12-5 10-17-4zM207 905l15-5 3 2-5 16-15-2-1-5zM774 627l22-4 3 16-19 3zM82 557l17-10 7 14-10 6-14-8zM626 944l21-8 6 4-4 7-14 6zM698 674l14-3 4 4-2 19-14-2zM146 986l15 3 1 16-9 2-6-9zM939 310l5-6 19 15-18 10zM453 100l14-9 9 9-2 10-1 1-19-10zM1059 579l13-14 17 13-14 7-15-5zM763 108l0-5 7-3 10 5-3 17-2 1zM880 426l7-6 9 3 4 11-15 10-3-1zM647 39l13-2 12 11-8 7-16-11zM596 711l3-2 10 3 9 13-5 9-7-1zM977 63l6-7 13 2 0 12-9 7zM1009 55l2-3 17 7-4 17-15-7zM810 249l12-2 4 4 0 10-15 8-2-1zM256 196l19-9 7 8-17 16-9-8zM974 947l4 1 11 18-7 8-18-9zM880 936l16 8 1 3-2 4-11 3-11-5zM74 17l16-3 5 12-2 3-20-3zM877 20l11 2 5 16-22-1zM961 225l20-8 0 24-10 2-10-13zM995 478l17-10 1 1 4 20-16 2zM206 55l13-6 10 5-6 17-11 3-2-1zM443 389l3 0 5 4 0 15-10 5-6-5zM774 352l4-1 14 6-10 14-10-6zM303 737l3-6 2-1 18 5-7 20-3-1zM170 637l8-9 4 0 12 14-2 4-16 1zM1016 719l1-2 10-7 16 10-4 12-12 1zM302 427l14 1 1 14-13 5-6-9zM259 875l13-7 10 8-7 10-15-4zM730 519l11-6 10 9-12 15-8-3zM265 154l16-8 8 8-12 16zM542 760l21-9 2 2-10 17-9-1-5-8zM548 258l11 2 5 13-11 8-5 0zM388 483l15 5 1 2-13 17-16-6zM768 318l11 2-6 19-5 1-7-4zM726 426l6-1 8 12-1 4-20 8-1-1zM176 888l7-6 13 18-2 3-16-3zM87 200l9-2 10 24-18 1zM479 432l7 3 1 9-13 14-8-11zM245 24l4-1 9 21-1 1-17 1zM129 161l11-3 12 12-18 9zM366 1029l18 0 0 12-15 1-6-7zM793 106l6-2 10 11-11 12-8-4zM601 250l19-12 5 3 0 11-14 9-8-4zM973 256l13-3 6 4-14 18-11-5zM914 926l10-1 5 10-4 7-16 0-1-2zM573 343l14 4-2 20-13-4zM923 986l18-11 2 22-5 3zM722 644l11 0 6 17-14 5-4-4zM1053 129l16-5 5 17-6 6-10-2zM267 53l2-2 10-2 13 14-3 8-18-4zM624 755l17 6-6 14-16-7zM866 148l12-13 13 6-4 17-14-1zM837 456l16 10 0 2-20 9-4-6zM135 413l15-9 7 7-12 21-6-1zM-10 794l2-2 23 9-3 9-13 4zM881 110l16 1 5 18-4 1-16-7zM335 949l6-9 13 2-2 22-9-2zM608 183l10 0 8 9-16 13-5-2zM238 137l13 14-19 17-9-2zM783 47l8 0 4 6-5 11-12-1-3-3zM916 842l13-9 5 1 3 19-16 1zM110 679l19-6 2 17-17 6zM103 383l8 21-10 6-8-3zM214 471l14-2 6 15-20 0-2-3zM699 582l7-6 21 11-2 8-13 10-8-3zM251 739l5-12 17 18-5 9zM982 674l7-4 9 7-8 16-6 0zM585 39l15-3 1 16-16 4-2-2zM498 433l6-4 19 13-6 7-17-7zM186 1021l11-5 14 9-8 13-17-14zM1035 842l14-3 5 5-4 9-17 1zM1033 420l9-11 12 18-1 5-2 1-17-9zM193 -2l6-2 12 11 0 2-2 3-15 3zM503 237l21-6 7 9 0 2-24 13zM566 202l2-1 18 9-9 13-10-5zM805 594l17-1 0 14-16 3zM272 773l17 10 1 4-18 8-1-2zM1006 206l24-2 3 9-14 8zM388 365l19 3 2 5-14 21-8-3zM640 1043l7 1 4 20-5 3-9-4zM935 24l4 1 7 10-5 17-2 0-14-12zM684 623l15-9 8 2 2 17-24 0zM-11 308l2 0 13 9-1 8-12 5-7-10zM511 981l1-2 20-4 4 8-8 11-5 0zM380 909l6-8 15 4 0 8-19 8zM345 715l18 2-6 17-18-5zM836 220l20 9 0 4-2 5-19 4-3-4zM510 743l3-2 10-3 7 17-12 2zM1008 123l5 0-1 25-18-6zM879 212l11 10-5 11-16-4-1-3zM20 35l8-4 15 17-10 5-14-7z"/>
<path id="cR" d="M44 510l23 0 5 4-10 21-19-6-2-3zM502 571l21-7 13 6 0 8-21 9zM1045 399l0-5 29 6 1 3-15 19zM198 701l22 13-9 16-20-13zM211 377l10-4 4 2 9 19-3 6-21-1zM662 939l7-2 9 20-6 7-8 0-8-12zM701 411l18 10-9 27-2 0-12-11zM469 734l11-10 21 18-27 14zM244 349l5-5 10 1 8 17 0 3-12 4-5-3zM729 917l20-2 3 24-1 1-23-2-4-8zM27 346l21-19 9 24-13 13zM192 236l2 0 15 11-5 17-5 5-14-2-3-6zM286 989l26-2 5 3 1 4-15 14-10 1-14-12zM958 66l11-1 15 21-3 6-26-6zM739 888l5-7 18 2 2 5-10 18-1 1zM227 588l16 7-1 14-23-5zM714 1034l13-13 16 7 1 5-18 14-10-4zM201 272l5-5 18 10-7 9-13-3zM256 298l16-7 2 6-5 16-14-10zM756 457l23-12 2 18-4 6-20-8zM700 942l6-11 15 1 4 8-4 10-13 4-7-3zM226 337l8-7 10 5 2 7-5 5-11 0zM-5 559l12-2 7 12-1 4-24 4-1-7zM176 111l1-1 31 6-11 21-16-5zM271 362l11-9 19 2-11 22-8 0-12-11zM767 874l17-7 4 1 3 8-13 13-11-2-2-6zM24 586l14-2 6 21-22 11-6-8zM664 799l13-7 17 24-28 5zM738 128l18-16 15 19-2 2-23 5zM554 1067l23-11 4 13-17 31zM644 391l19 5 1 4-10 11-18-5zM783 813l19-9 10 12-5 10-19 5-5-2zM434 900l7-4 16 11-3 16-21-5zM243 492l30 10-3 16-6 4-21-12zM431 615l21-4 2 18-3 5-21-8zM686 328l22-4 8 11-1 4-18 9zM254 661l0-3 19-4 7 6 2 11-1 2-14 5zM788 765l24 0 3 12-12 11-20-7zM786 904l17-3 6 6-2 12-24 2-2-5zM243 811l-2-9 1-1 22-3 6 5-1 26zM59 1057l7-8 16 7 1 16-8 4-15-6zM24 800l23 8 7 10-4 9-26-5-4-6zM779 471l5-6 17-1 5 8-7 11-18-6zM67 135l3-6 18-2 6 8-9 21-8 1zM229 375l19-6 4 3-3 17-12 3zM753 162l19-4 7 7 0 3-3 8-24-1zM831 589l19 4 6 9-9 12-13 2-4-4zM857 763l12-10 18 0 4 14-10 9zM449 42l3-2 11 12-9 14-12-1-4-5zM255 623l16-11 12 6 2 10-11 8-18-11zM752 975l11-1 8 12-4 16-8 1-12-12zM753 809l19-5 8 9-1 16-1 1-21-3zM22 389l1-6 20-9 12 14-1 9-1 1-22-1zM275 289l1-4 19-5 11 7-1 14-6 4-22-10zM674 904l14-8 13 10-3 14-21 1zM345 17l8-5 12 3 4 20-12 12-2 0zM384 65l12-12 17 6-3 18-15 6zM954 760l24-7 0 25-22 2zM672 763l23-10 3 26-20 8zM753 943l1-1 8 2 7 14-7 12-11 2-6-7zM607 418l10-11 13 3 2 19-11 9-8-1zM1015 639l3-10 13 0 21 22-28 1zM115 139l9-12 21 3-5 20-18 5zM723 830l23 6 0 16-8 6-12-1-2-3zM86 1056l21-8 3 5-4 18-12 6-8-5zM422 25l7-5 16 1 4 16-2 1-23-9zM505 712l4-6 7-1 18 15-8 9-15 4zM71 961l21-16 1 1 2 29-5 4-16-6zM-13 391l19 9 1 15-21 1-7-8zM727 860l10 2 4 17-5 7-13 3-6-11zM831 784l16-5 13 22-4 4-22 1zM456 592l5-6 19-2 2 25-23-6zM961 597l19-3 1 21-1 2-20-6zM233 749l10-6 24 21-2 2-22 6-10-7zM716 140l17-11 11 12-1 9-19 8-8-13zM220 288l8-10 2-1 7 10-4 9-9 0-3-2zM6 1052l3-4 22 3 3 6-7 14-10-2zM860 879l23-2 5 25-27-6-3-3zM448 175l16-3 8 8-6 21-4 1-16-16zM987 788l6 2 7 27-36-1zM813 908l15-6 7 4 4 16-24 6-4-8zM511 403l29 12-11 21-22-15zM516 666l15 3 1 3 0 15-11 4-8-14zM857 711l7-5 19 7-1 10-16 6-9-5zM-5 524l2-8 18-2 3 11-15 8-2-1zM609 881l17-5 3 6-5 24-12 7-6-7zM816 -11l3-2 18 23-7 16-10-2-8-17zM18 153l1-5 17-10 10 5 0 12-15 18zM127 568l32 0 4 4-9 22-25-15zM674 845l20-2 3 10-7 17-14-5zM142 99l15-9 16 14 1 4-1 1-22 12zM-21 442l2-2 20 6-9 20-7 3-7-11zM203 667l18 2 10 15-34 6-3-4zM213 802l3-2 22 3 1 9-15 22-8-7zM768 1069l12-14 16 10-13 50zM-22 527l14-1 5 8-8 10-9-1zM638 556l32-14-1 35-3 2-27-21zM468 798l5-4 19 1 6 13-12 13zM133 775l13-9 15 14 0 9-14 10zM239 319l9 3 1 1-4 9-9-5zM212 248l5 0 16 18-4 7-2 1-19-10zM18 445l16 0 8 21-3 6-11 1-8-4zM771 704l19 14-2 15-5 4-22-9zM1057 588l17 6-4 22-7 3-14-8-2-5zM390 564l20-1 2 2 1 12-12 17-12-9zM819 950l20 2-8 23-7 1-6-4-3-6zM710 981l11 0 9 11-9 15-7-2-7-12zM805 1003l13-3 11 9-7 10-15 3zM247 621l5 3 1 3-6 22-14-1-9-13zM745 489l26 3 1 4-13 22-15-14zM681 329l12 20-15 7-14-10zM237 267l11-4 9 7-10 15-7 0-7-10zM485 -12l1-2 15-5 14 13-11 16-11-3zM653 436l6-7 13 1 6 8-6 12-15 4-2-3zM163 289l10 0 5 5 3 16-3 3-19-3zM295 259l14-9 11 14-8 18-4 2-11-7zM696 161l2-5 15-8 9 13-3 15-4 3-11-3zM281 337l12-4 12 9 1 8-3 2-20-3zM685 1044l19 9 0 13-24-6zM661 311l9-13 18-1-5 28-2 1zM442 567l9 1 7 16-4 6-17-3zM724 952l4-11 21 2-7 21-11 1zM457 237l8 2 5 24-3 3-22-2-2-8zM110 501l20-6 0 31-18 2zM425 204l2 0 17 16 1 3-20 10-11-15zM333 645l16-12 10 16-14 21-4-3zM605 448l8-8 8 1 6 11-5 18-17-5zM217 551l13 4 3 10-9 12-17-6 0-3zM902 904l17-14 2 1 9 17-4 9-15 0zM1048 10l18 3 3 20-24 1-5-10zM878 656l6-3 14 9 2 22-3 3-17-7zM269 322l2-5 19 2 1 10-12 5-8-3zM226 580l10-13 18 5 7 9-16 11-17-8zM890 905l8 1 10 13-8 18-21-11zM173 56l17-9 7 5 5 24-11 2-13-9zM144 150l5-18 19 11 1 24-3 3-2 0zM320 44l17 11-6 16-26-11zM664 993l13-3 6 9 0 9-14 13-14-18zM774 491l6-10 18 5 3 11-9 8-17-10zM46 483l19 5 1 18-22 1-3-4zM233 521l8-8 21 11-6 15-13 1zM512 338l29-11 7 3-13 34-24-23zM802 485l8-12 11 0 8 12-1 7-13 7-10-3zM624 440l10-8 16 5 1 13-21-1zM256 372l12-4 11 11-13 20-13-10zM861 954l3-1 18 9-5 21-3 2-15-6zM542 658l19-1 8 9-6 9-28-5-1-2zM457 631l28-9 1 4-9 21-6 1-17-10 0-2zM189 837l1-5 24-2 9 7-18 19zM639 153l12-6 17 8 2 7-3 5-12 5zM284 675l1-2 25 0 0 17-19 3zM459 863l13-11 12 12-1 12-11 8-8-6zM180 315l4-3 2 1 12 14-4 6-14 4zM766 943l13-9 15 12-6 14-16-4zM220 246l13-10 16 8-2 16-11 3zM775 987l13-6 8 7 2 11-21 7-6-4zM558 288l14-11 9 1 6 12-14 19-1 1zM17 570l17-14 2 0 6 4 3 15-6 6-16 1-6-8zM220 297l2 2 0 10-11 1-2-3zM3 367l16 15-1 6-10 9-20-9zM781 931l2-7 25-2 4 8-1 9-15 4zM750 836l6-6 21 3-4 13-16 9-8-3zM280 255l11 5 2 17-18 5-8-11zM244 775l20-5-2 25-19 2zM736 803l4-1 9 7 4 19-5 5-22-7zM157 314l20 2-1 23-1 1-16 1-2-1zM791 867l10-10 14-2 6 17-19 8-8-5zM306 512l21 0 0 2-6 17-12 5-12-6zM184 356l13 2 5 14-18 4-3-3zM166 573l5 0 17 16-22 12-9-5zM574 420l0-2 30 1 6 19-8 7-15-5zM252 325l14-1 2 7-9 10-10-1-2-6zM767 20l17-9 4 2 10 20-4 6-14 0zM241 306l8 0-2 12-7-2-2-4zM476 759l26-14 10 19-7 11-28-14zM475 23l1-3 16-9 11 3 3 7-3 8-18 8zM125 775l4 1 13 23-19 8-10-9zM101 168l19-10 7 26-26 7-1-1zM634 325l9-3 12 25-6 6-22-3-1-2zM652 355l6-6 2 0 16 10-1 16-4 2-18-10zM284 660l14-11 10 8 1 12-24 1zM45 560l20-12 8 6 1 8-12 15-14-3zM825 979l7-1 13 8-3 20-10 1-11-9zM487 40l16-8 6 12-12 13zM258 919l21-10 1 1 1 28-6 4-19-11zM301 569l14-12 14 3 2 10-24 10-3-1zM182 294l16-3 3 12-14 6-2 0zM449 20l4-6 13 0 6 6 0 3-19 14zM444 -51l11 38-10 11-10-2-8-9zM647 11l20-11 5 11-11 18-15 2zM550 99l19-6 4 1 4 18-8 10-10-1zM756 465l20 7 1 6-6 11-26-3-1-2zM-14 1058l17-5 11 17-14 11zM414 550l21-13 2 2-2 21-21 3-2-2zM382 2l7-5 16 3 2 19-10 5-18-15zM626 378l13 5 2 5-9 18-14-3-2-4zM576 465l18 8-2 9-20 8-4-4zM516 641l5-4 15 9 3 10-8 10-15-4-3-3zM845 278l17 0 1 2-14 29-15-12zM218 335l5 3 3 11-4 5-14-7zM501 517l16 5 2 15-20 12-7-7zM286 617l13-9 15 7-2 12-13 7-10-7zM837 741l19-13 8 5 2 17-11 10zM810 827l5-10 12-2 10 17-2 8-15 4zM651 102l23-4 0 14-14 11-13-8zM633 409l20 5 3 13-5 6-16-5zM396 104l20 2 6 16-15 7-13-10zM1 496l5-2 12 5 1 2-4 9-18 3-2-7zM606 628l6 1 9 19-11 10-18-15zM133 493l1-1 25 15-2 12-23 8zM262 343l8-9 7 3 2 13-9 9zM63 990l10-13 16 5 2 23-3 5-24-16zM6 536l14-8 4 2-2 14-11 2zM291 696l20-2 4 4-9 24-4 2-16-17zM227 319l1-4 7-1 1 3-3 9zM318 699l17 1 5 8-10 20-20-6zM224 357l5-6 12 0 5 15-19 6-4-2zM201 357l6-6 13 6 0 13-11 4-3-2zM678 142l7-2 9 15-2 5-19 0-1-6zM572 124l7-10 22 5-6 21-16-2zM134 311l20 3 0 24-30-7zM213 314l10-2 2 2-1 4-6 4zM483 689l11 2 12 14-4 5-20 2-5-11zM18 512l4-9 16 2 3 4-4 16-10 2-6-3zM815 931l26-6 1 1 4 21-5 2-22-3-5-7zM812 420l4 0 19 20-1 7-2 1-25-5-4-5zM8 476l10-4 7 4-7 19-10-5zM807 446l23 5-9 19-11 0-6-8zM178 342l1-1 15-4 10 10-6 8-14-3zM374 202l11 3 3 5-10 23-8 3-8-17zM190 25l21-5 5 21-17 8-8-5zM772 527l18-9 12 14 1 6-25 4zM699 351l18-9 13 15-24 14zM349 195l15-5 7 10-12 17-12-2-3-7zM210 315l5 10 0 4-13-3zM253 306l14 11-1 3-14 1-1-1zM628 874l21-9 11 8-4 18-24-11zM670 1025l15-14 11 6 2 11-14 11zM-14 420l22-1 1 1 2 20-7 3-21-6zM492 664l18-3 3 3-3 12-15 11-12-2-1-3zM547 929l20-6 4 6-10 24-9 0zM525 50l15-9 10 19-12 13-3 0-11-14zM171 750l6-6 21 7 0 17-6 3-15-5zM704 907l14-4 8 12-6 14-14-2-5-6zM357 540l1-2 28 1 1 22-22-2zM201 289l2-3 13 3 2 5-12 10-2-1zM218 525l12-2 10 19-9 9-13-4-3-5zM175 572l13-13 15 10 1 3-12 16zM442 69l12 1 11 12-19 13-9-7zM242 815l25 17-29 13-12-8zM668 647l8-1 7 19-18 14-17-6zM804 883l19-8 2 1 1 23-15 6-6-6zM586 444l15 4 0 18-5 4-19-9zM408 220l3 0 11 16-1 6-14 11-8-13zM219 325l6-3 6 6-7 6-5-2-1-2zM114 1055l6 2 12 19-8 12-14-16zM240 288l7 1 6 8-2 5-10 1-4-6zM-5 61l17-9 19 9-6 14-24-3zM691 959l9-5 6 3 0 19-11-2zM92 982l5-4 13 1 7 8-5 10-18 6zM260 272l4 1 8 11-1 4-16 7-5-8zM448 0l9-10 9 4-1 16-12 0zM5 446l8-3 2 2 1 24-9 4-11-6zM866 571l9-2 4 32-1 1-18-2-7-9zM226 300l8-1 4 6-3 5-8 1-1-1zM903 841l4 1 8 19-5 9-21 0-1-12zM713 309l21-9 0 22-16 10-7-11zM741 861l7-6 8 3 8 14-2 7-17-2zM664 125l12-10 16 11-7 10-8 2zM295 534l12 5 5 15-13 12-11-7-2-7zM936 589l16 0 5 7-1 15-8 5-16-8zM797 947l14-5 5 6-4 16-21-2zM1077 407l15 15-17 15-13-3 0-8zM389 538l7-7 15 18-2 11-19 1zM780 833l1-1 6 2 11 21-9 10-3-2-9-16zM627 354l21 2 1 11-9 12-14-5-5-7zM201 329l14 3-9 12-9-9zM24 348l18 19 0 4-20 8-15-14zM652 837l7-3 11 10 2 21-10 5-11-8zM1029 601l15 7 1 3-14 14-11 0zM708 108l14 2 8 16-15 11-17-13zM759 760l20-5 6 8-6 17-4 3-14-7zM185 271l13 2 2 11-2 3-17 4-5-4zM-13 472l7-2 11 6 0 14-6 2-12-9zM703 827l16 3 2 23-21-2-3-10zM133 70l14-2 9 19-17 9-7-1-5-7zM416 877l18-13 6 26 0 3-8 4-13-5zM789 -13l23 2-4 17-19 4-3-2zM-23 203l20-16 8 30-16 4zM233 651l14 2 4 4-1 4-17 19-9-12zM396 86l15-6 13 10-8 13-20-2-3-6zM362 651l18 2 1 2-10 26-23-9zM456 39l17-13 9 13-13 11-2 0zM256 629l16 10-1 11-18 4-3-4zM615 628l11-8 15 5 2 11-11 11-8-1zM51 607l19-10 13 7-12 19-10 1zM121 960l15-1 5 20-3 3-19 3-6-8zM983 593l3-4 18-3 3 4-6 23-16 1zM517 914l12-3 11 16-17 13-11-2zM767 890l10 2 6 11-5 11-20-7zM472 652l6-2 11 12-9 18-17-9zM772 960l16 4-1 14-13 6-8-12zM440 540l27 2-2 13-13 10-10-2-3-2zM79 514l21-14 6 1 3 28-8 6zM266 966l6-4 10 7 1 18-7 8-14-10zM372 852l5-7 20 1-1 22-11 6-2-1zM298 590l5-8 4 1 20 22-11 7-16-8zM840 833l17-6 10 9-1 7-14 12-14-14zM189 806l21-2 3 23-24 2-5-10zM794 682l14 25-16 8-18-13zM731 968l11 0 6 6-4 16-11 0-9-11zM473 887l11-8 16 11-2 12-10 5-14-9zM243 544l13-1 3 4-5 22-17-5-3-10zM277 299l19 8-5 8-18-1zM666 825l31-6 3 6-6 14-22 2-10-9zM571 962l15-6 14 8-2 13-25 2zM721 901l3-9 12-2 15 19-2 2-20 2zM839 905l17-9 2 2 2 19-16 6-1-1zM23 619l23-12 1 1 11 18-11 11-24-13zM352 120l9-4 15 11-2 9-16 8-10-8zM401 731l17-14 16 20-4 12-28-11zM966 567l4-1 12 21-2 4-20 3-5-7zM748 182l3-3 24 1 2 5-16 21-9-2zM505 860l8-9 19 10-7 19-13 0zM431 202l13-13 15 15-13 13zM673 938l24 5 1 8-9 5-8-1zM813 276l19-8 10 8-11 20-9 0zM1010 592l14 4 2 3-10 26-12-10zM484 1047l6-3 16 16-17 19-12-12zM415 580l19 7 0 2-9 15-21-7zM700 1031l11 3 1 10-6 6-19-9zM172 142l8-6 16 4 3 17-27 9zM501 552l19-11 1 20-19 6zM1052 1021l6 5 2 17-20 8-8-9zM150 66l9-13 11 3 5 14-17 14zM632 884l24 11 0 2-12 12-17-3zM169 1046l11-16 23 18-18 13zM1034 627l13-13 14 8-7 25zM748 436l25-9 7 10-1 4-25 13-7-9zM10 400l10-8 8 8-4 14-12 3-1-1zM312 657l16-12 2 0 7 22-24 3zM583 813l16-17 5 4 1 22-16 8zM871 836l17-11 12 14-15 16-15-12zM862 899l24 6-10 17-13-5zM833 562l29 9-12 19-20-4zM745 554l19 5-3 23-26 0zM791 834l17-4 9 17-2 5-14 1zM368 15l9-3 18 15-4 8-19-1zM57 782l9-3 6 32-15 5-7-10zM753 273l21-8 13 14-1 1-34 12zM899 222l16-2 4 16-23 13-5-9zM506 30l3-7 32 7-2 8-16 9-11-4zM521 1002l9 0 7 12-16 15-14-8zM592 873l14 7-3 24-22-5zM659 127l15 14-5 11-16-8zM711 786l17-14 13 16-2 11-4 1-21-7zM482 721l1-5 19-2 6 20-5 5zM356 -10l9-2 14 13-3 7-10 4-11-3zM268 469l4 1 7 24-5 5-30-10zM687 999l17-3 6 10-12 8-11-6zM28 530l10-1 2 2-5 22-9-8zM751 245l22-5 0 21-21 8-7-11zM835 620l13-3 11 13-3 11-22-1zM174 851l13-11 16 19-1 4-17 9zM817 502l12-7 23 22-4 9-2 1-27-14zM998 415l8-8 18 12 2 9-17 13-4-2zM590 292l19 6-1 14-6 6-25-8zM428 925l4-4 22 6 3 4-15 20zM444 892l18-10 8 5 0 11-11 6-16-11zM657 413l10-11 14 7-9 17-12 0zM324 265l16-2 9 21-3 6-30-8zM318 482l25-12 4 21-16 12zM800 988l17-13 4 3-4 19-14 3-1-1zM716 245l19-16 13 15-6 12-20 1zM657 976l7-9 8 1 6 16-1 2-13 3zM793 879l7 4 2 15-16 3-6-10zM681 440l12-1 11 10-16 13-12-11zM22 1004l5-7 21 17 0 9-11 3zM700 855l22 2 1 2-10 18-19-3-2-2zM730 389l10-15 12 4 3 21-14 6zM50 640l11-12 10-1 16 25-36-3zM311 92l23-10 4 4-6 21-16 7-5-3zM124 1009l16-6 8 12-6 11-17-2zM589 376l3-4 26-3 5 7-10 20-24-16zM1046 37l24 0 6 6-14 18-22-9zM454 567l13-9 15 19-2 3-19 3zM925 891l21-10 5 3 1 18-19 4zM845 42l18-2 3 4 3 28-20-1zM33 780l21 2-7 22-23-7zM374 282l21 1 3 13-16 4zM120 989l17-3 1 14-15 6-7-8zM137 867l10-2 10 17-15 10-12-13zM252 665l12 15-6 9-24-5zM793 508l11-8 10 3 2 11-12 14-12-12zM820 419l22-14 9 13-15 18zM32 401l20 1-7 19-17-7zM136 531l22-9 10 14-9 9-20-5zM912 775l6-2 13 17-10 17-19-5zM725 162l19-8 6 7-2 15-3 4-22-5zM1005 1002l12-10 15 13-16 11zM467 54l2 0 9 13-10 13-11-12zM540 1017l18 8-20 20-10 0-5-13zM779 178l3-8 23 8 0 21-25-15zM459 391l27-2-12 29-14-7zM1058 867l14 6 5 16-5 5-19-6zM675 966l6-7 7 1 4 15-11 6zM198 697l0-3 32-6-2 21-6 2zM124 1057l26-8-1 20-14 5zM710 957l11-3 7 13-7 10-11 0zM700 1016l13-7 7 2 5 8-13 12-11-4zM42 583l5-5 15 2 6 14-20 10zM48 158l19 10-2 14-30-8zM1063 845l10-1 11 15-11 10-15-6-2-4zM465 1042l15 5-6 19-18-1-3-7zM174 963l22 2-6 18-21-1zM985 291l21 4-1 21-27-5zM293 1013l9-1 7 20-18 8-5-7zM453 642l15 9-9 19-12 2-5-9zM498 690l13-10 7 14-3 7-6 2zM282 12l21-11 2 25-18 5zM540 646l16-10 3 17-17 1zM728 1050l18-14 2 1-3 27-15-3zM29 477l11-2 3 6-6 21-14-2-2-3zM138 543l20 6 0 15-29 1zM24 703l16 8-21 19-17-13zM629 1l14 10-1 22-2 1-24-9zM391 213l13 6-8 19-14-4zM324 532l6-15 24 15 1 4-2 3-14 6zM285 969l17-5 8 20-23 2zM684 410l14-3-6 29-11 0-6-8zM680 790l20-8 7 5 3 7-12 20zM356 857l13-4 9 20-21 0zM277 1000l13 11-7 20-21-9zM262 549l21 4 1 7-21 18-6-8zM-1 866l28 26-3 5-34 2zM977 419l18-2 6 22-30 2zM189 546l23-2 2 4-10 17-15-9zM275 639l12-8 10 6-1 9-14 11-7-6zM122 635l17-13 15 14-18 20zM97 111l21 5 3 9-9 12-15-4-6-8zM241 87l15-1 14 23-28 9zM904 105l11-8 15 17-7 19-12-2zM201 923l22 4 4 10-21 13-10-15zM636 961l17-7 8 11-6 9-18-3zM688 138l8-11 17 13-1 4-15 9zM646 320l4-5 8-2 19 15-17 17-2 0zM674 14l15 8-8 22-17-14zM477 766l27 12-11 13-19-1zM299 495l10-13 6 0 13 24-1 3-21-1zM679 359l16-8 8 22-2 9-23-7zM605 321l5-6 21 10-8 21-21-9zM259 84l7-9 21 4-12 29zM590 646l18 15-1 12-6 4-26-13zM97 137l14 4 7 14-18 10-11-8zM-9 546l9-10 2 1 6 11-1 5-12 2zM774 499l16 9-1 7-20 9-8-3zM512 47l9 3-1 9-18 10-4-4 1-4zM44 712l2 32-24-10-1-1zM311 539l11-4 15 12-8 10-13-4zM843 952l5-2 10 4-2 25-9 4-12-8zM190 312l13-5 2 1 2 4-7 11zM555 62l21-4 6 6 0 20-8 6-4 0zM300 637l13-7 12 13-15 11-10-8zM677 924l22-1 4 6-5 10-25-5zM850 777l6-10 24 13-1 17-16 2zM706 375l25-15 6 12-10 15-23-2zM943 859l1-3 24 0 3 19-18 6-5-4zM368 1050l21-1 4 7-10 16-15-4zM306 1011l14-14 9 8-5 28-11-2zM939 61l7-2 8 6-2 22-4 2-21-11zM455 610l3-3 25 6 1 2 0 4-26 8zM384 759l2-1 28 20-2 4-29 9zM541 75l11-11 14 26-17 6zM526 943l16-14 1 1 6 24-11 7zM972 1057l2-6 27 8-20 26zM437 591l16 3 2 10-3 4-22 3-2-4zM410 901l8-6 12 5 0 19-5 4-3 0-13-6zM343 849l10 7 0 18-5 6-16-13zM399 529l32-4 2 8-20 13zM760 857l14-7 8 14-15 6zM426 236l20-10 8 9-13 18-16-11zM518 702l3-7 12-5 11 9-5 18-2 1zM908 439l11 7-19 18-11-13zM324 177l21 17-5 12-30-6zM518 1060l9-11 11 0 13 16-22 10zM885 962l13-3 11 25-5 5-23-6zM1050 926l24-12 6 4-2 21-24 0-6-7zM177 73l11 7-14 20-15-13zM423 927l2-1 14 28-20 5-8-5zM823 -14l23-8 13 21-19 8zM867 655l8 1 2 24-12 5-13-10zM698 751l2-2 27 14-1 6-17 14-7-4zM51 324l4-3 26 9-7 22-14-2zM553 456l19 7-7 22-16-3zM951 789l4-6 25-1 4 4-21 25zM528 109l19-8 8 21-13 12-7-2zM470 -6l12-4 7 18-15 9-6-6zM776 786l5-2 20 8 0 8-19 10-7-9zM11 1033l23-4-3 18-21-3zM917 94l2-11 5-2 22 11-2 14-12 5zM1041 1054l20-7 8 10-16 14-9-1zM488 865l14-3 7 19-7 6-16-11zM608 801l23 1 0 26-23-6zM165 780l11-11 13 5-8 20-16-5zM437 863l19 1 4 15-17 9zM865 283l18 16-24 25-4-1-4-10zM792 966l20 2 2 4-16 13-8-7zM804 149l3 2 5 15-6 8-23-7 0-2zM1042 250l13-10 6 4 5 26-18 2zM574 931l9 3 1 19-14 6-6-5zM747 142l22-5 2 18-19 3-6-7zM2 668l12-9 22 8-15 21-19-11zM868 733l15-6 10 13-5 10-18-1zM496 793l10-11 16 13-5 13-16-1zM692 297l17 11-2 12-21 4zM644 85l20-13 13 17-2 5-24 4zM849 987l8-5 15 6-2 19-24-1zM12 118l21 3 1 14-16 9-10-12zM97 946l3-1 18 14-8 16-11-1zM1005 368l16 2 3 12-19 9-11-10zM169 604l22-12 7 11-14 17-8 0zM210 -37l21 23-14 16-15-14zM803 55l17 3 2 18-17 6-9-11zM416 566l20-3 3 3-5 17-18-6zM630 453l22 0 2 4-1 7-24 12-3-4zM950 92l4-2 27 6 1 4-18 18-17-12zM2 187l24-4 4 19-19 16-2-1zM368 -15l6-7 10 4 3 13-6 4zM635 650l10-12 19 9-18 23zM214 19l4-5 20 7-6 26-12-6zM116 28l13-15 22 16-1 4-23 7zM1006 350l22-1-7 18-15-3zM643 382l9-12 16 10-4 13-20-6zM779 1009l21-7 1 1 3 20-2 4-17 3zM859 604l18 1 0 14-16 8-10-12zM24 825l25 6 0 4-14 17-15-5zM471 518l27-2-10 24-18 0zM667 681l18-14 4 3 4 27-15 8zM524 542l29 8-15 17-13-6zM30 986l7-3 22 8 1 4-11 15-20-16zM1 76l24 2 3 10-23 14-9-4zM132 98l6 2 10 23-2 4-22-3-3-9zM811 151l30-9 4 4-12 24-18-5zM719 335l17-10 16 13 1 1-21 15-13-15zM128 583l24 14-13 17-19-15zM568 789l26-6 2 10-16 17-16-7zM681 985l13-8 13 3-3 12-18 4-6-8zM424 33l21 8-10 17-14-3zM937 425l22 17-21 18-14-15zM45 468l25-8 6 14-10 11-20-6-3-6zM503 72l18-10 10 12-20 13-4-3zM536 674l26 5-1 9-14 9-11-10zM531 618l2 0 22 14-17 11-15-9zM778 545l26-3 7 7-18 19-18-14zM671 168l2-4 19-1 8 14-16 10zM782 443l2-4 16 0 4 6-3 15-17 1zM311 582l21-9 6 6-10 22zM805 1029l2-4 15-2 5 13-12 9zM472 52l12-10 11 18 0 4-13 1zM378 263l26-1-8 18-23-2zM92 776l24-8 6 6-13 22-9 1zM284 911l24 3-8 25-15-2zM12 549l11-2 8 7-15 12-6-12zM328 765l25 2 1 20-23 6zM50 143l14-6 10 22-5 6-19-11zM271 592l23-1 2 14-12 10-12-7zM-22 495l8-9 11 9-5 9-12-3zM708 1053l6-6 10 4 3 11-12 11-6-2-2-3zM573 424l10 17-9 19-17-7zM436 0l8 1 6 11-4 6-15-1zM792 13l17-4 7 15-15 6zM199 964l6-3 20 19-24 13-7-9zM615 707l22-12 11 21-22 7zM216 608l26 5 3 6-23 13-3-1zM151 754l17-3 5 16-10 10-15-14zM43 533l18 5 2 7-20 12-4-3zM830 814l3-5 22-1 1 15-17 7zM21 737l22 10-16 17-15-7zM106 862l16-7 11 11-7 11-16 4zM1 1014l18-8 13 20-22 3zM-18 141l2-4 21-2 11 12-1 5-17 7zM151 125l22-12 4 20-7 6-20-11zM301 63l30 12 1 4-22 10-13-14zM825 1021l8-10 9-1 6 27-18-2zM1042 576l8 4 4 6-10 18-15-7-1-2zM1039 297l25 5 4 12-31 11z"/>
<path id="cC" d="M47 514l19-1 2 2-8 16-15-5-1-1zM507 573l16-5 10 4 0 4-17 7zM1048 398l23 5-10 14zM199 706l17 9-6 11-15-10zM214 380l7-4 2 1 8 17-2 3-16-1zM665 942l2-1 7 15-3 5-5 0-6-9zM704 416l12 7-8 20-9-8zM473 735l7-7 15 13-19 11zM248 350l2-3 7 1 7 14-9 3-3-1zM731 920l15-2 2 18-18-1-3-5zM32 346l14-13 7 17-9 9zM194 240l11 9-4 13-3 4-10-2-2-3zM288 992l24-2 2 2-13 13-7 1-10-9zM961 69l6-1 13 18-1 3-20-5zM743 888l3-4 13 2 1 2-7 13zM229 592l11 5-1 8-16-3zM718 1035l10-10 12 6-15 13-6-3zM205 273l2-2 12 7-3 4-9-2zM259 301l11-5 1 1-4 11-9-6zM759 459l17-9 2 12-2 3zM704 942l4-8 11 1 2 5-3 8-10 3-4-2zM230 338l4-4 7 4 1 3-2 3-8 0zM-3 562l9-2 4 10-18 3-1-2zM180 114l23 5-8 14-11-3zM274 364l9-8 13 2-8 16-4 0zM770 876l14-6 1 1 2 4-10 10-8-1-1-3zM26 589l10-1 4 15-17 9-3-4zM667 801l9-5 13 18-20 3zM742 128l14-11 11 13-19 5zM558 1068l17-7 2 8-12 23zM645 394l16 5-8 8-12-3zM786 815l15-7 7 9-3 6-17 4-2 0zM437 902l4-2 13 9-2 10-15-4zM246 497l23 7-2 12-3 2-18-10zM434 617l15-2 2 13-1 2-16-6zM691 330l16-3 5 8 0 2-14 7zM257 660l15-3 5 5 2 9-11 3zM791 768l18 0 3 8-10 9-15-6zM789 907l13-2 4 3-2 8-19 1zM246 809l-1-5 18-3 3 4 0 18zM62 1058l5-5 12 5 0 12-4 3-12-5zM26 805l19 6 5 8-2 5-23-5-2-4zM783 472l3-4 14-1 3 5-5 7-15-4zM70 135l2-3 14-2 4 6-7 17-4 0zM234 377l14-4-2 13-7 3zM756 164l15-3 5 5-3 7-18-1zM834 593l14 3 4 6-6 9-11 2-2-3zM862 763l8-7 15 1 2 9-6 7zM451 44l8 8-6 11-9-1-2-2zM260 624l11-9 9 5 1 6-8 6zM754 978l7-1 7 10-3 12-5 1-9-10zM757 812l14-4 5 6 0 12-17-2zM25 387l1-2 16-7 10 11-1 6-18-1zM278 289l16-6 9 6-1 10-3 2-19-8zM677 906l10-6 10 8-2 9-15 0zM349 19l4-3 9 2 4 16-9 8zM388 65l9-9 12 5-2 13-11 5zM958 762l17-4 0 17-16 1zM675 765l17-7 3 19-15 6zM755 946l5 1 6 11-6 9-8 1-3-3zM611 419l7-9 9 2 2 15-9 7-4 0zM1018 638l2-6 9 0 16 16-19 1zM119 140l6-9 16 2-4 14-14 4zM726 834l17 5 0 12-6 4-9-1-1-1zM89 1058l17-6 1 2-3 15-10 5-5-4zM426 26l4-2 13 0 2 10zM509 713l2-4 4-1 14 12-5 7-11 2zM74 962l16-11 2 23-2 1-14-4zM-12 395l15 7 1 10-17 1-4-6zM728 864l6 0 4 14-4 5-9 2-5-7zM835 786l11-3 10 18-1 1-18 0zM460 593l3-4 14-2 2 18-18-5zM964 600l13-2 1 15-15-5zM236 751l7-4 18 17-18 4-7-4zM719 142l14-9 8 9-1 6-14 6-7-10zM223 289l6-8 5 6-3 6-6 0-1-1zM10 1052l19 2 2 3-6 11-6-2zM863 882l17-1 4 16-21-4-1-1zM451 178l12-3 5 6-5 18-13-14zM988 792l2 0 6 22-26-1zM816 910l12-5 5 3 2 12-19 4-2-4zM513 407l23 9-8 16-18-13zM518 670l11 2 0 13-7 2-5-10zM860 713l4-4 16 6-1 6-13 5-6-3zM-2 523l2-4 12-1 2 5-11 7zM612 883l12-3 1 2-4 22-9 5-2-4zM819 -9l14 19-5 13-6-2-7-15zM22 152l0-2 14-8 7 3 0 9-11 13zM131 571l26 0 2 2-7 16-20-12zM677 848l14-2 3 7-6 13-9-3zM146 101l11-7 13 12 1 1-19 9zM-18 444l15 4-7 16-4 1-5-8zM205 670l14 2 7 10-28 5zM217 804l18 1 1 6-13 18-4-3zM772 1070l9-10 11 6-9 37zM-18 530l8-1 3 4-6 8-4-1zM643 557l24-10-1 28zM473 798l1-1 16 1 4 9-8 9zM137 776l9-6 12 11 0 6-10 8zM241 323l4 1-2 3-3-1zM215 251l14 15-2 5-15-9zM22 449l10 0 6 17-1 3-8 1-6-3zM772 709l14 10-1 12-3 3-17-8zM1058 592l12 4-3 18-3 1-13-7zM393 567l16 0 1 9-10 14-8-6zM822 953l13 2-6 17-4 0-5-2-1-4zM713 984l7 0 6 8-7 12-3-1-6-10zM808 1006l10-2 7 6-5 6-10 2zM247 625l2 1-5 20-9-1-6-9zM748 493l20 2-10 18-11-10zM681 334l7 13-10 5-9-6zM239 270l8-3 5 4-7 11-3 0-6-8zM488 -12l13-4 10 10-9 13-7-2zM656 437l4-5 11 1 3 5-4 9-12 3zM166 292l6 0 3 3 3 13-1 1-15-1zM298 261l10-7 8 10-7 15-1 1-8-5zM699 161l1-2 12-7 6 9-2 13-2 2-8-3zM284 339l8-3 10 8 0 4-17-2zM687 1049l14 6 0 7-17-4zM665 310l6-9 13-1-4 21zM444 571l5 0 5 13-2 3-12-3zM727 951l3-6 15 1-5 15-7 0zM458 241l5 1 3 20-18-1-1-5zM113 503l14-4 0 24-12 1zM426 207l15 14-15 8-8-11zM337 646l11-9 8 12-12 17-1-1zM608 449l6-5 5 0 5 8-4 14-12-3zM219 554l9 3 2 7-7 9-13-4zM906 905l13-11 7 14-2 6-12 0zM1050 14l13 2 2 14-18 0-4-6zM882 657l13 7 2 19-14-5zM273 322l14 0 1 5-9 3-5-2zM230 580l7-9 16 4 3 5-11 8-15-6zM892 908l4 1 8 11-5 12-16-8zM177 57l12-7 5 4 4 19-6 1-11-7zM147 149l4-12 14 8 0 21zM320 48l13 8-4 11-19-8zM665 995l11-1 4 6 0 7-11 9-10-13zM777 491l4-6 15 4 2 7-7 5-13-8zM48 487l14 4 0 12-17 1-1-2zM237 522l5-5 16 9-4 10-9 1zM516 341l25-11 3 2-11 26zM805 486l6-9 8 0 7 9-1 4-10 6-8-2zM629 441l6-6 12 4 1 8-16-1zM259 374l8-2 8 7-10 15-9-6zM864 957l14 7-4 17-11-4zM543 661l16-1 6 6-4 6-22-5zM459 634l24-8-8 18-3 1-14-9zM193 836l20-3 5 5-13 13zM644 154l7-3 15 7 1 3-2 3-9 4zM288 676l19 0 0 11-14 2zM463 864l9-8 9 9-1 9-8 6-6-4zM183 317l2-1 9 11-2 4-9 2zM770 944l9-6 11 9-4 9-11-3zM225 247l8-7 13 6-2 11-7 3zM777 989l11-4 5 4 2 8-18 6-3-2zM562 289l11-9 6 1 4 9-11 15zM20 572l15-12 4 2 2 12-3 4-13 1zM219 302l0 4-5 1zM4 371l12 12-1 4-8 6-15-7zM785 930l1-3 20-1 2 5 0 5-11 3zM753 837l4-3 16 2-2 8-14 7-4-1zM281 259l7 3 2 12-14 4-5-7zM247 778l14-4-2 18-13 1zM739 806l7 5 4 16-3 2-17-5zM161 318l12 1 0 18-13 1zM795 868l8-8 10-1 4 11-15 6-5-3zM308 515l15 0-5 14-9 4-8-4zM187 359l8 2 3 9-13 2zM168 577l2 0 13 12-17 9-5-3zM579 422l23 0 4 15-4 4-13-4zM254 328l10-1 0 4-6 7-6-1-1-2zM771 21l13-7 1 1 9 17-2 4-11 0zM243 310l2 0 0 4-3-1-1-1zM482 760l19-10 7 13-4 8zM479 22l13-8 9 3 1 4-2 5-14 7zM127 779l11 19-14 6-7-7zM104 170l14-7 5 19-20 5zM637 328l5-2 9 20-3 4-18-3zM655 357l4-5 13 9 0 12-16-8zM287 661l11-8 7 6 0 7-17 0zM49 561l15-9 6 4 1 5-10 12-10-1zM828 982l4-1 10 7-3 15-6 1-8-7zM492 42l10-5 3 7-7 8zM261 921l16-7 1 22-3 2-16-9zM305 570l11-10 10 3 1 5-20 8zM186 297l9-2 2 7-10 3zM452 21l3-4 9 0 5 4-14 10zM443 -42l8 28-7 8-7-1-6-6zM650 13l15-9 3 7-9 15-10 1zM554 101l15-4 2 0 2 14-5 7-7 0zM757 469l16 6 1 3-5 7-20-2zM-9 1059l10-2 9 13-9 6zM417 552l16-11-1 16-16 2zM385 4l5-3 12 1 1 15-5 3-15-12zM627 382l10 3 0 3-7 15-10-2-1-2zM578 469l12 6-1 5-16 6-1-1zM519 642l2-1 12 7 2 7-5 7-13-3-1-1zM847 281l12 0-11 23-10-8zM218 339l2 1 3 8-2 2-8-4zM503 521l11 3 1 12-15 9-4-4zM290 619l9-8 12 6-2 8-10 5-8-5zM842 742l14-11 5 4 2 14-8 6zM814 827l4-7 7-1 8 14-1 4-10 4zM654 104l17-3 0 10-12 9-8-6zM637 413l14 4 2 9-3 4-12-4zM399 108l14 1 5 11-10 5-11-8zM3 498l3-1 10 4-3 6-13 2-1-2zM607 632l2 0 8 15-7 6-14-11zM137 497l18 11-1 8-17 7zM266 344l5-6 3 1 2 10-5 4zM66 991l8-10 12 4 2 19-1 1-20-13zM10 537l10-6 1 1-2 9-6 1zM293 699l17-2 1 1-7 22-14-14zM231 318l2-1-1 3zM320 702l13 1 3 5-7 16-15-4zM227 358l4-4 7 0 4 10-15 4zM204 358l3-3 10 4 0 9-8 3-1-1zM680 145l4-2 7 13-1 1-14 0-1-2zM576 124l5-6 16 3-5 15-11-1zM136 315l15 2-1 17-21-5zM218 316l3 0-2 1zM485 692l8 2 9 11-2 2-16 2-3-8zM21 513l3-6 12 1 2 2-4 12-7 2-3-2zM818 934l21-5 3 16-1 1-20-3-4-4zM814 423l17 18 0 3-22-4-2-3zM12 478l6-2 3 1-5 14-5-3zM810 450l15 3-6 14-8 0-3-6zM183 343l10-2 7 7-3 3-11-2zM375 206l8 2 1 2-9 21-3 1-6-13zM194 27l14-3 5 16-14 5-4-3zM776 529l13-7 10 11 0 3-19 2zM703 352l13-6 9 10-17 10zM351 197l12-4 4 7-9 14-9-2-2-5zM210 321l2 4-4-1zM255 312l8 5-9 1zM633 875l15-6 9 5-3 13-20-9zM674 1026l12-11 7 4 1 7-10 8zM-11 423l17-1 1 16-3 1-17-4zM494 667l15-2-2 9-13 10-8-2zM551 932l15-5 1 2-8 21-4 0zM528 52l11-6 7 13-9 11-10-12zM175 751l3-4 17 6 0 13-3 2-13-5zM707 910l10-3 5 9-4 9-10-1-3-4zM361 541l22 1 0 15-16-1zM204 290l10 2-7 8zM220 527l8-1 8 15-6 7-10-4-2-2zM179 572l9-8 12 7-8 12zM445 72l8 1 7 8-14 10-5-4zM242 819l18 12-22 10-7-5zM669 650l5-1 5 15-15 11-11-3zM807 885l15-6 1 17-11 5-4-4zM588 447l10 4 0 13-2 2-15-6zM410 224l9 12-1 4-10 8-6-9zM222 327l2-1 2 2-3 3-2-1zM116 1059l2 1 10 16-4 7-11-12zM243 292l2 0 4 6 0 2-7 0-2-3zM-1 62l13-7 15 7-4 9-20-2zM695 960l5-3 3 2 0 13-5-1zM96 983l2-2 10 1 5 6-3 7-13 4zM261 276l8 9-13 6-2-4zM452 0l6-7 5 3-1 11-7 0zM8 449l4-2 1 20-6 2-7-3zM868 574l5-1 2 25-14-1-4-6zM229 303l3-1 2 3-1 2-4 1zM904 844l8 17-4 5-16 0-1-7zM716 311l15-6 0 15-12 7-5-6zM744 862l4-3 6 2 6 12-1 3-12-2zM669 125l7-6 12 7-5 7-5 2zM297 538l8 4 4 11-10 9-8-5-1-5zM939 592l11 0 4 5-1 12-5 3-12-6zM799 949l11-3 2 3-3 12-14-2zM1077 411l10 10-13 12-9-2 0-4zM392 540l4-4 11 14-1 7-13 0zM783 836l2 1 9 17-6 7-8-14zM629 357l16 2 1 7-7 9-11-3-3-6zM202 333l8 1-4 5-5-5zM24 353l15 15-17 8-10-11zM655 839l3-1 9 8 2 17-6 3-9-5zM1031 605l10 5-12 12-5 0zM710 112l10 1 6 12-11 8-12-9zM763 763l15-4 3 5-4 14-2 1-11-5zM187 274l8 2 2 7-1 2-14 3-2-2zM-10 474l3-1 9 5-1 10-1 1-10-8zM705 830l11 3 1 16-14-1-3-7zM135 73l10-2 6 15-12 7-5-1-4-5zM419 878l13-9 5 21-6 3-9-4zM791 -10l17 2-2 11-16 3zM-19 204l15-12 5 23-11 3zM235 655l10 1 2 2 0 2-14 15-5-8zM398 89l12-5 9 7-5 8-16-1-2-3zM364 654l13 2-7 21-17-6zM461 39l11-8 6 8-10 8zM258 634l10 7 0 7-14 3-1-1zM619 629l7-6 12 4 2 8-9 9-5-1zM55 608l15-8 9 5-10 15-6 1zM123 963l10 0 4 15-1 1-15 3-4-6zM986 594l2-2 15-2-5 20-10 1zM520 917l8-2 7 11-13 11-6-2zM769 894l6 1 4 8-3 7-13-5zM474 654l3 0 8 9-7 12-11-6zM774 964l11 2-1 9-9 5-6-8zM443 544l20 1-1 8-11 8-8-1-1-1zM84 515l17-12 2 1 2 23-3 4zM269 968l3-2 7 5 1 15-5 5-10-7zM376 852l2-4 16 1-1 17-8 5zM301 591l4-5 17 18-6 5-13-7zM843 836l13-6 8 7-1 5-11 8-10-10zM191 809l16-2 2 17-18 2-4-7zM794 687l10 19-12 5-13-10zM733 971l8 0 4 4-4 12-7 0-6-8zM477 888l7-5 13 9-2 8-7 3-11-7zM244 547l10-1 1 2-3 17-13-4-2-6zM279 304l12 5-2 3-12-1zM668 828l27-6 2 3-6 11-18 2-7-7zM575 964l11-4 10 5-1 9-19 1zM725 900l1-5 9-2 11 15-16 2zM843 907l12-7 1 15-10 4zM26 621l19-10 9 15-7 7zM355 122l6-2 11 9-1 5-12 7-8-6zM404 732l13-10 13 15-2 7-23-9zM968 570l11 17-1 1-17 2-3-3zM751 183l1-1 21 1-14 20-4-1zM509 861l5-6 14 8-5 14-8 0zM435 202l9-9 10 11-8 9zM679 942l15 3 0 4-6 4-4-1zM818 278l13-6 7 5-9 16-5 0zM1012 596l10 3-7 20-7-6zM486 1050l3-2 13 12-13 14-8-8zM417 584l13 5-6 11-15-5zM701 1034l7 3 1 6-4 3-12-6zM175 144l5-5 13 4 2 12-20 6zM504 554l13-8 1 13-13 4zM1052 1025l3 3 1 13-15 6-5-5zM154 66l7-9 6 2 4 10-12 10zM634 889l18 8-9 8-12-2zM173 1045l7-11 18 14-12 9zM1039 627l9-9 9 5-5 18zM751 439l21-8 5 7-1 1-21 11-5-6zM13 401l7-5 5 5-3 10-8 2zM315 659l13-9 4 14-16 3zM587 813l12-13 2 2 0 18-10 6zM874 838l14-9 8 10-11 11-12-8zM865 904l16 3-6 11-8-3zM836 566l21 6-8 14-15-3zM747 557l13 5-2 17-19 0zM795 836l11-3 8 14-1 2-10 1zM372 17l4-2 15 13-2 3-14 0zM60 784l3-1 5 25-10 4-5-6zM756 275l17-7 9 10-27 10zM901 225l12-1 2 11-18 10-3-5zM510 30l1-4 26 6-1 4-13 7-8-2zM522 1005l6 1 5 8-12 11-9-5zM593 878l9 4-2 18-15-3zM661 132l9 10-2 5-11-5zM715 787l12-11 11 13-2 7-1 1-19-7zM485 719l14-2 5 16-1 1zM359 -7l5-2 11 11-2 4-7 3-8-2zM269 472l7 21-3 2-22-8zM690 1002l13-3 3 6-8 5-8-4zM31 533l5-1-3 15-4-4zM754 248l15-4 1 15-17 6-4-7zM838 622l9-1 8 9-2 8-16-1zM178 852l9-8 12 16-13 8zM821 504l8-5 19 18-2 7-24-13zM1002 416l4-4 16 9 1 5-14 11zM591 296l15 4-1 11-3 3-20-6zM432 926l1-1 19 5-9 15zM448 893l14-8 5 3 0 8-7 4zM660 414l8-8 8 5-6 12-8 0zM326 268l12-1 7 17-1 2-24-6zM323 483l18-8 2 14-11 9zM803 989l14-10 1 1-3 14-10 2zM720 246l15-12 9 10-4 9-16 1zM661 977l4-6 4 0 5 13-8 1zM794 883l3 2 1 10-10 2-4-5zM683 443l9-1 7 7-11 9-8-8zM26 1004l2-2 17 13 0 6-7 2zM702 858l17 2-7 13-16-2zM734 389l7-11 8 2 2 17-9 4zM53 641l9-10 7-1 12 19-27-3zM315 94l18-8 1 1-4 18-14 5-2-1zM128 1011l11-4 5 8-4 7-12-1zM592 377l1-2 24-3 2 4-7 15zM1048 40l21 0 3 3-11 14-17-6zM458 568l8-6 12 15-15 2zM929 892l17-8 1 2 1 14-14 2zM849 45l12-1 2 1 2 24-13-1zM35 784l14 1-4 15-16-5zM379 285l14 1 1 8-10 2zM122 991l12-2 1 8-11 5-5-4zM139 870l7-1 7 12-10 7-9-10zM252 670l8 10-3 5-16-3zM796 510l8-7 7 2 1 8-8 11-8-9zM825 420l16-11 6 9-11 14zM34 404l13 1-4 12-11-5zM140 533l17-7 7 9-6 7-17-5zM914 778l3-1 11 13-9 13-13-3zM728 164l15-6 3 4-1 13-1 1-17-3zM1009 1002l8-6 10 9-11 6zM468 58l6 9-6 8-7-8zM540 1021l13 5-16 16-7 0-3-9zM782 179l2-5 18 6 0 14-19-12zM463 394l18-1-9 20-9-4zM1060 872l10 3 3 13-2 2-14-4zM679 967l3-5 3 1 3 10-6 4zM203 696l23-4-1 15-2 1zM129 1059l18-6-1 14-10 3zM713 960l7-2 4 8-4 8-7 0zM703 1018l10-6 5 2 3 4-10 9-7-2zM45 584l3-3 11 2 5 9-14 8zM49 162l15 8-1 8-22-6zM1065 848l7-1 8 11-8 7-12-4 0-2zM466 1046l10 3-4 13-14 0-1-3zM177 966l14 2-3 12-15-1zM987 294l15 4 0 15-20-5zM296 1016l4-1 5 15-13 6-2-3zM455 646l9 6-7 15-8 1-3-6zM503 690l7-5 4 9-2 4-2 1zM286 13l14-7 2 17-13 4zM544 647l10-6 1 9-10 1zM732 1051l12-10-1 19-10-2zM31 480l7-1 1 2-4 17-10-1zM140 547l14 4 0 10-20 0zM24 706l10 5-15 15-11-9zM630 6l10 6-1 18-19-6zM392 217l8 4-6 13-8-2zM328 531l4-10 19 13 0 2-11 5zM289 971l12-3 5 13-16 1zM686 413l8-2-4 21-7 1-4-5zM685 792l15-6 5 3 2 5-10 15zM360 859l7-2 6 13-13 0zM277 1005l9 7-5 14-14-6zM264 553l16 3 1 2-18 15-2-3zM1 872l22 20-1 2-28 2zM980 422l13-2 4 16-22 2zM192 549l18-1-7 13-11-7zM278 641l9-6 6 3 0 6-11 9-4-3zM126 636l13-10 10 10-13 14zM99 115l16 4 2 6-6 9-12-4-5-6zM244 90l11-1 10 18-20 6zM907 107l7-6 12 13-5 15-8-1zM203 927l18 3 2 6-16 10-8-11zM640 963l12-5 5 7-4 6-13-3zM692 138l4-7 13 10-11 7zM650 321l2-3 5-2 16 12-14 13zM676 18l9 6-5 15-12-10zM480 770l19 10-7 8-14-1zM303 495l7-10 3 0 11 20-16 0zM682 361l11-5 7 18-1 4-17-6zM608 322l3-3 16 7-6 15-15-6zM263 84l5-6 15 4-9 20zM590 651l15 11-1 9-3 3-21-11zM99 141l10 2 5 11-14 7-7-5zM-5 547l5-6 5 7-1 2-7 2zM775 503l11 7 0 3-17 8-3-2zM513 50l5 2-1 5-15 8 0-3zM42 718l1 21-17-7zM315 541l6-3 11 9-4 6-10-3zM846 954l2-1 6 3-2 21-5 3-8-6zM195 313l8-3 1 2-5 6zM560 64l14-2 4 3 1 18-6 4zM303 639l9-5 8 8-10 8-7-6zM679 927l18-1 2 4-3 6-19-5zM854 777l3-5 19 10-1 13-11 1zM709 377l21-12 3 7-8 11-17-1zM946 859l19 0 2 14-14 4-3-2zM371 1053l17 0 1 3-8 13-10-3zM309 1011l11-10 6 5-4 24-7-2zM941 63l4-1 6 4-2 19-17-8zM459 611l22 4-21 8zM387 763l23 16-24 7zM545 76l6-7 11 20-11 3zM530 943l11-9 4 18-6 5zM975 1057l1-2 20 6-14 18zM439 594l11 2 2 7-1 2-19 2zM413 903l5-4 9 3 0 15-4 3-11-5zM344 853l6 5 0 15-2 2-12-9zM405 532l23-3 1 3-15 10zM764 859l9-5 4 8-9 4zM429 239l16-9 5 5-10 13-12-7zM522 701l2-3 9-4 8 6-5 13zM908 442l6 4-14 13-6-7zM325 182l16 13-3 7-23-4zM522 1060l7-8 8 0 9 12-16 7zM888 965l8-2 9 20-2 2-19-4zM1053 928l21-10 2 1-1 17-19 0-4-5zM177 77l7 4-10 15-10-8zM424 932l11 20-15 4-5-3zM828 -13l17-5 9 15-13 6zM868 659l4 0 1 19-8 4-9-7zM702 753l21 12 0 2-15 12-3-2zM54 326l1-1 22 7-5 16-9-1zM556 460l12 5-5 16-10-1zM954 790l3-4 21-1 2 2-17 19zM532 111l13-5 7 15-11 10-4-1zM473 -4l7-2 5 13-10 6-3-3zM779 788l2-1 17 7 0 4-15 8-5-6zM14 1036l16-3-2 11-14-2zM920 93l1-7 3-1 19 9-2 9-8 4zM1045 1056l15-6 4 7-12 11-6-1zM491 867l9-1 5 14-3 3-12-8zM611 805l16 0 0 19-16-5zM168 781l9-8 8 3-6 14-11-4zM441 866l12 1 3 10-11 6zM867 288l12 11-21 21-3-7zM794 969l16 2-12 9-4-3zM804 153l4 13-3 5-17-6zM1046 251l10-7 2 2 4 21-11 1zM575 935l5 2 1 14-11 4-2-2zM750 145l16-4 1 11-14 3-3-5zM5 670l10-8 16 7-11 15-14-9zM871 735l11-5 8 10-4 7-14-1zM499 794l8-8 11 10-3 9-12-1zM694 303l12 7-1 8-14 2zM648 86l15-10 10 13 0 2-20 3zM852 989l6-3 11 4-2 13-17 0zM15 122l15 2 1 10-12 6-8-8zM100 949l14 10-6 13-6-1zM1006 371l12 2 2 7-14 7-8-6zM173 606l17-10 4 7-11 14-5 0zM211 -31l16 17-10 11-11-10zM805 59l12 1 2 14-13 5-6-9zM419 569l16-2-3 12-12-5zM633 456l18 1-1 5-20 10-1-1zM953 94l1-1 24 6-14 14-13-8zM6 190l17-3 3 14-15 12zM372 -15l3-3 6 2 2 9-2 2zM639 650l7-8 13 6-13 16zM218 19l1-2 15 6-4 19-7-3zM120 28l9-11 18 13-19 6zM1009 353l15 0-5 10-10-2zM646 382l7-8 12 7-3 8-15-5zM783 1011l15-5 3 17-1 1-12 2zM861 607l13 1 0 9-12 6-7-8zM26 829l20 4-12 15-11-3zM474 521l19-2-7 18-13 0zM671 682l14-11 1 1 3 24-9 5zM527 546l20 6-10 11-9-4zM33 989l4-2 20 7-8 12-17-14zM4 79l18 2 2 6-19 11-5-2zM133 102l3 1 8 20-18-2-2-6zM815 153l25-7 1 1-10 19-13-4zM722 337l13-8 13 10-15 10zM130 588l17 10-9 11-14-11zM570 792l22-5 1 5-13 14-12-5zM684 987l11-6 8 1-2 7-14 3zM427 37l13 6-6 11-9-2zM938 430l16 12-16 14-10-11zM47 470l21-6 4 9-7 8-17-5-2-3zM507 73l13-7 6 7-15 10-2-1zM539 678l20 3-1 5-11 7-8-7zM533 622l16 10-11 7-11-6zM781 548l22-3 3 4-13 15-14-11zM674 168l1-1 16 0 5 9-11 6zM785 443l1-1 12 1 2 2-2 12-11 1zM316 583l16-6 2 2-7 16zM809 1029l11-3 3 9-7 6zM477 53l7-6 8 14-9 1zM380 266l19 0-5 10-16-1zM96 778l19-6 3 2-11 19-5 0zM287 915l17 2-6 19-10-2zM14 552l8-1 4 3-9 7-3-7zM332 769l18 1 1 14-17 5zM53 146l9-4 8 16-2 3-15-8zM275 595l16-1 2 9-9 8-8-5zM-18 496l4-5 7 5-2 4-8-2zM711 1054l4-3 7 2 1 8-9 8-3-1-1-1zM573 430l7 12-8 14-10-5zM438 3l4 1 4 8-2 3-9-1zM797 15l10-2 5 9-10 4zM202 966l2-1 15 14-18 10-4-5zM620 708l15-9 9 15-17 5zM219 611l21 5 1 1-19 11zM154 757l12-2 4 11-7 6-11-10zM46 537l13 4 0 2-16 10-1-1zM834 814l1-2 17 0 0 9-11 5zM23 742l15 6-12 12-10-5zM109 863l13-4 7 7-5 9-12 2zM6 1015l12-5 9 14-15 2zM-14 140l18-2 8 10 0 2-13 5zM154 127l17-9 3 14-5 4zM303 67l25 10-17 8-11-11zM829 1021l5-7 5-1 5 20-11-1zM1043 580l5 2 2 4-7 14-11-5zM1042 301l19 4 3 7-24 8z"/>
<filter id="bla" x="-2%" y="-2%" width="104%" height="104%" color-interpolation-filters="sRGB"><feGaussianBlur in="SourceGraphic" stdDeviation="1.7" result="b"/><feTurbulence type="fractalNoise" baseFrequency="0.32" numOctaves="2" seed="3" result="n"/><feColorMatrix in="n" type="matrix" values="1 0 0 0 0 1 0 0 0 0 1 0 0 0 0 0 0 0 0 1" result="g"/><feComposite in="b" in2="g" operator="arithmetic" k1="0" k2="1" k3="0.1" k4="-0.05"/></filter>
<filter id="bld" x="-2%" y="-2%" width="104%" height="104%" color-interpolation-filters="sRGB"><feGaussianBlur in="SourceGraphic" stdDeviation="1.9" result="b"/><feTurbulence type="fractalNoise" baseFrequency="0.32" numOctaves="2" seed="5" result="n"/><feColorMatrix in="n" type="matrix" values="1 0 0 0 0 1 0 0 0 0 1 0 0 0 0 0 0 0 0 1" result="g"/><feComposite in="b" in2="g" operator="arithmetic" k1="0" k2="1" k3="0.08" k4="-0.04"/></filter>
<filter id="blb" x="-2%" y="-2%" width="104%" height="104%" color-interpolation-filters="sRGB"><feGaussianBlur in="SourceGraphic" stdDeviation="2.3" result="b"/><feTurbulence type="fractalNoise" baseFrequency="0.25" numOctaves="2" seed="7" result="n"/><feColorMatrix in="n" type="matrix" values="1 0 0 0 0 1 0 0 0 0 1 0 0 0 0 0 0 0 0 1" result="g"/><feComposite in="b" in2="g" operator="arithmetic" k1="0" k2="1" k3="0.08" k4="-0.04"/></filter>
<filter id="ble" x="-2%" y="-2%" width="104%" height="104%" color-interpolation-filters="sRGB"><feGaussianBlur in="SourceGraphic" stdDeviation="2.4" result="b"/><feTurbulence type="fractalNoise" baseFrequency="0.25" numOctaves="2" seed="9" result="n"/><feColorMatrix in="n" type="matrix" values="1 0 0 0 0 1 0 0 0 0 1 0 0 0 0 0 0 0 0 1" result="g"/><feComposite in="b" in2="g" operator="arithmetic" k1="0" k2="1" k3="0.07" k4="-0.035"/></filter>
<filter id="blc" x="-2%" y="-2%" width="104%" height="104%" color-interpolation-filters="sRGB"><feGaussianBlur in="SourceGraphic" stdDeviation="5.2" result="b"/><feTurbulence type="fractalNoise" baseFrequency="0.11" numOctaves="2" seed="11" result="n"/><feColorMatrix in="n" type="matrix" values="1 0 0 0 0 1 0 0 0 0 1 0 0 0 0 0 0 0 0 1" result="g"/><feComposite in="b" in2="g" operator="arithmetic" k1="0" k2="1" k3="0.24" k4="-0.12"/></filter>
<radialGradient id="gs"><stop offset="0" stop-color="#fff" stop-opacity="0.55"/><stop offset="0.5" stop-color="#fff" stop-opacity="0.25"/><stop offset="1" stop-color="#fff" stop-opacity="0"/></radialGradient>
<g id="spots" fill="url(#gs)"><ellipse cx="807.9" cy="465" rx="16.7" ry="15.3" transform="rotate(16 807.9 465)"/><ellipse cx="1013.2" cy="791.8" rx="16.1" ry="10.2" transform="rotate(81 1013.2 791.8)"/><ellipse cx="397.5" cy="959.7" rx="14.8" ry="16.4" transform="rotate(79 397.5 959.7)"/><ellipse cx="251.3" cy="582.3" rx="9.6" ry="16.4" transform="rotate(113 251.3 582.3)"/><ellipse cx="791.7" cy="379.5" rx="17.7" ry="17" transform="rotate(140 791.7 379.5)"/><ellipse cx="218.1" cy="493.3" rx="9.4" ry="10.4" transform="rotate(122 218.1 493.3)"/><ellipse cx="778.2" cy="1001.1" rx="11.9" ry="12.3" transform="rotate(84 778.2 1001.1)"/><ellipse cx="212.9" cy="151.7" rx="13.3" ry="11" transform="rotate(120 212.9 151.7)"/><ellipse cx="465" cy="864.3" rx="15.3" ry="11.8" transform="rotate(149 465 864.3)"/><ellipse cx="839.3" cy="412.9" rx="11.6" ry="15.1" transform="rotate(25 839.3 412.9)"/><ellipse cx="223.5" cy="27.5" rx="16.1" ry="15" transform="rotate(126 223.5 27.5)"/><ellipse cx="814.8" cy="485.3" rx="14.1" ry="10.3" transform="rotate(20 814.8 485.3)"/><ellipse cx="700.4" cy="497.7" rx="14.1" ry="15.9" transform="rotate(114 700.4 497.7)"/><ellipse cx="583.5" cy="587" rx="11.7" ry="9.3" transform="rotate(78 583.5 587)"/><ellipse cx="238.4" cy="434.2" rx="16.7" ry="11.1" transform="rotate(10 238.4 434.2)"/><ellipse cx="306.4" cy="317.7" rx="15" ry="14" transform="rotate(141 306.4 317.7)"/><ellipse cx="696.3" cy="432.1" rx="16.3" ry="10.5" transform="rotate(4 696.3 432.1)"/><ellipse cx="111.7" cy="752.5" rx="13.2" ry="10.5" transform="rotate(90 111.7 752.5)"/><ellipse cx="175.1" cy="726.1" rx="13" ry="12.4" transform="rotate(54 175.1 726.1)"/><ellipse cx="661.6" cy="386.9" rx="9.8" ry="10.1" transform="rotate(173 661.6 386.9)"/><ellipse cx="944.9" cy="729.5" rx="11.4" ry="17.7" transform="rotate(140 944.9 729.5)"/><ellipse cx="749.8" cy="475.7" rx="11.5" ry="9.9" transform="rotate(162 749.8 475.7)"/><ellipse cx="484" cy="225.2" rx="11.8" ry="14.2" transform="rotate(31 484 225.2)"/><ellipse cx="892" cy="789.1" rx="15.5" ry="12.9" transform="rotate(112 892 789.1)"/><ellipse cx="614.6" cy="678.9" rx="9.8" ry="12.7" transform="rotate(7 614.6 678.9)"/><ellipse cx="522.9" cy="354.5" rx="10.3" ry="9.9" transform="rotate(105 522.9 354.5)"/><ellipse cx="193.7" cy="958.1" rx="14.2" ry="12.1" transform="rotate(106 193.7 958.1)"/><ellipse cx="43.2" cy="992" rx="13.3" ry="16" transform="rotate(14 43.2 992)"/><ellipse cx="515.4" cy="517.6" rx="17.4" ry="14.1" transform="rotate(85 515.4 517.6)"/><ellipse cx="291.8" cy="356.2" rx="13.7" ry="13" transform="rotate(3 291.8 356.2)"/><ellipse cx="861.2" cy="928.7" rx="10.3" ry="14" transform="rotate(19 861.2 928.7)"/><ellipse cx="704.3" cy="305.2" rx="14.9" ry="15.5" transform="rotate(138 704.3 305.2)"/><ellipse cx="129.7" cy="948.8" rx="11.1" ry="9.3" transform="rotate(99 129.7 948.8)"/><ellipse cx="397.6" cy="861.4" rx="16.3" ry="11.9" transform="rotate(171 397.6 861.4)"/></g>
</defs>
<svg x="92" y="61" width="529" height="527" viewBox="0 0 529 527" overflow="hidden">
<rect x="-10" y="-10" width="549" height="547" fill="#b2b2b2"/>
<g filter="url(#bla)" stroke-linejoin="round" transform="scale(0.5)">
<rect x="-40" y="-40" width="1138" height="1134" fill="#b2b2b2" stroke="none"/>
<use href="#cL" fill="#141414" stroke="#141414" stroke-width="9.2"/>
<use href="#cR" fill="#141414"/>
<use href="#cL" fill="#5c5c5c" stroke="#5c5c5c" stroke-width="2.4"/>
<use href="#cC" fill="#5c5c5c" stroke="#141414" stroke-width="0.4"/>
<use href="#spots" opacity="0.9"/>
</g>
<rect x="0.5" y="0.5" width="528" height="526" fill="none" stroke="#54483c" stroke-width="1" opacity="0.85"/>
<rect x="13.2" y="513.6" width="116.1" height="6" fill="#e6e6e6" opacity="0.95"/>
<text x="22.4" y="508.3" font-size="26" fill="#fff" textLength="97" lengthAdjust="spacing">250 µm</text>
</svg>
<svg x="639" y="61" width="529" height="527" viewBox="0 0 529 527" overflow="hidden">
<rect x="-10" y="-10" width="549" height="547" fill="#848484"/>
<g filter="url(#blb)" stroke-linejoin="round" transform="scale(0.5)">
<rect x="-40" y="-40" width="1138" height="1134" fill="#848484" stroke="none"/>
<use href="#cL" fill="#1a1a1a" stroke="#1a1a1a" stroke-width="6"/>
<use href="#cR" fill="#1a1a1a" stroke="#848484" stroke-width="3.2"/>
<use href="#cL" fill="#484848" stroke="#484848" stroke-width="0.2"/>
<use href="#cC" fill="#484848" stroke="#1a1a1a" stroke-width="2.8"/>
<use href="#spots" opacity="0.7"/>
</g>
<rect x="0.5" y="0.5" width="528" height="526" fill="none" stroke="#54483c" stroke-width="1" opacity="0.85"/>
<rect x="8.1" y="513.6" width="116.1" height="6" fill="#e6e6e6" opacity="0.95"/>
<text x="17.3" y="508.3" font-size="26" fill="#fff" textLength="97" lengthAdjust="spacing">250 µm</text>
</svg>
<svg x="1188" y="61" width="528" height="527" viewBox="0 0 528 527" overflow="hidden">
<rect x="-10" y="-10" width="548" height="547" fill="#6f6f6f"/>
<g filter="url(#blc)" stroke-linejoin="round" transform="scale(0.5)">
<rect x="-40" y="-40" width="1136" height="1134" fill="#6f6f6f" stroke="none"/>
<use href="#cL" fill="#282828" stroke="#282828" stroke-width="2.4"/>
<use href="#cC" fill="#282828" stroke="#282828" stroke-width="1.2"/>
<use href="#spots" opacity="0.5"/>
</g>
<rect x="0.5" y="0.5" width="527" height="526" fill="none" stroke="#54483c" stroke-width="1" opacity="0.85"/>
<rect x="12.2" y="513.6" width="116.1" height="6" fill="#e6e6e6" opacity="0.95"/>
<text x="21.4" y="508.3" font-size="26" fill="#fff" textLength="97" lengthAdjust="spacing">250 µm</text>
</svg>
<svg x="364" y="605" width="528" height="527" viewBox="0 0 528 527" overflow="hidden">
<rect x="-10" y="-10" width="548" height="547" fill="#a8a8a8"/>
<g filter="url(#bld)" stroke-linejoin="round" transform="scale(0.5)">
<rect x="-40" y="-40" width="1136" height="1134" fill="#a8a8a8" stroke="none"/>
<use href="#cL" fill="#2a2a2a" stroke="#2a2a2a" stroke-width="9.2"/>
<use href="#cR" fill="#2a2a2a"/>
<use href="#cL" fill="#676767" stroke="#676767" stroke-width="2.8"/>
<use href="#cC" fill="#676767"/>
<use href="#spots" opacity="0.7"/>
</g>
<rect x="0.5" y="0.5" width="527" height="526" fill="none" stroke="#54483c" stroke-width="1" opacity="0.85"/>
<rect x="11.5" y="513.6" width="116.1" height="6" fill="#e6e6e6" opacity="0.95"/>
<text x="20.7" y="508.3" font-size="26" fill="#fff" textLength="97" lengthAdjust="spacing">250 µm</text>
</svg>
<svg x="914" y="605" width="529" height="527" viewBox="0 0 529 527" overflow="hidden">
<rect x="-10" y="-10" width="549" height="547" fill="#7e7e7e"/>
<g filter="url(#ble)" stroke-linejoin="round" transform="scale(0.5)">
<rect x="-40" y="-40" width="1138" height="1134" fill="#7e7e7e" stroke="none"/>
<use href="#cL" fill="#181818" stroke="#181818" stroke-width="6"/>
<use href="#cR" fill="#181818" stroke="#7e7e7e" stroke-width="3.2"/>
<use href="#cL" fill="#424242" stroke="#424242" stroke-width="0.2"/>
<use href="#cC" fill="#424242" stroke="#181818" stroke-width="2.8"/>
<use href="#spots" opacity="0.5"/>
</g>
<rect x="0.5" y="0.5" width="528" height="526" fill="none" stroke="#54483c" stroke-width="1" opacity="0.85"/>
<rect x="9.8" y="513.6" width="116.1" height="6" fill="#e6e6e6" opacity="0.95"/>
<text x="19" y="508.3" font-size="26" fill="#fff" textLength="97" lengthAdjust="spacing">250 µm</text>
</svg>
<text x="229.5" y="47.4" font-style="italic" font-size="35" fill="#1a90f0" stroke="#1a90f0" stroke-width="0.5" textLength="269.2" lengthAdjust="spacingAndGlyphs">1 µm (denoised)</text>
<text x="765.5" y="47.4" font-style="italic" font-size="35" fill="#1a90f0" stroke="#1a90f0" stroke-width="0.5" textLength="274.5" lengthAdjust="spacingAndGlyphs">3 µm (denoised)</text>
<text x="1313.5" y="47.4" font-style="italic" font-size="35" fill="#1a90f0" stroke="#1a90f0" stroke-width="0.5" textLength="276.5" lengthAdjust="spacingAndGlyphs">9 µm (denoised)</text>
<text x="502.5" y="1169.2" font-style="italic" font-weight="bold" font-size="35" fill="#0d5ea6" stroke="#0d5ea6" stroke-width="0.5" textLength="268.3" lengthAdjust="spacingAndGlyphs">3-1 µm DeepNet</text>
<text x="1044.3" y="1169.2" font-style="italic" font-weight="bold" font-size="35" fill="#0d5ea6" stroke="#0d5ea6" stroke-width="0.5" textLength="269.2" lengthAdjust="spacingAndGlyphs">9-3 µm DeepNet</text>
<path d="M99.2 1630.4v-100.1h5.18v100.1zM125.1 1630.4v-122.6h5.18v122.6zM151 1630.4v-119h5.18v119zM176.9 1630.4v-139.5h5.18v139.5zM202.8 1630.4v-144.5h5.18v144.5zM228.7 1630.4v-104.9h5.18v104.9zM254.6 1630.4v-62.9h5.18v62.9zM280.5 1630.4v-29.3h5.18v29.3zM306.4 1630.4v-13.6h5.18v13.6zM332.3 1630.4v-9.1h5.18v9.1zM358.2 1630.4v-12.6h5.18v12.6zM384.1 1630.4v-19.5h5.18v19.5zM410 1630.4v-58.9h5.18v58.9zM435.9 1630.4v-188.3h5.18v188.3zM461.8 1630.4v-371.7h5.18v371.7zM487.7 1630.4v-239.3h5.18v239.3zM513.6 1630.4v-17.7h5.18v17.7zM539.5 1630.4v-0.5h5.18v0.5z" fill="#f9907d"/>
<path d="M104.4 1630.4v-110.7h5.18v110.7zM130.3 1630.4v-121h5.18v121zM156.2 1630.4v-106.9h5.18v106.9zM182.1 1630.4v-125.3h5.18v125.3zM208 1630.4v-126.3h5.18v126.3zM233.9 1630.4v-91h5.18v91zM259.8 1630.4v-50.3h5.18v50.3zM285.7 1630.4v-19.5h5.18v19.5zM311.6 1630.4v-8.1h5.18v8.1zM337.5 1630.4v-6.3h5.18v6.3zM363.4 1630.4v-10.1h5.18v10.1zM389.3 1630.4v-16.4h5.18v16.4zM415.2 1630.4v-53.1h5.18v53.1zM441.1 1630.4v-184.5h5.18v184.5zM467 1630.4v-372.2h5.18v372.2zM492.9 1630.4v-236.8h5.18v236.8zM518.8 1630.4v-17.2h5.18v17.2zM544.7 1630.4v-0.5h5.18v0.5z" fill="#8ebfe2"/>
<path d="M109.6 1630.4v-0.8h5.18v0.8zM135.5 1630.4v-1.3h5.18v1.3zM161.4 1630.4v-1.5h5.18v1.5zM187.3 1630.4v-1.8h5.18v1.8zM213.2 1630.4v-2.3h5.18v2.3zM239.1 1630.4v-3.3h5.18v3.3zM265 1630.4v-4.3h5.18v4.3zM290.9 1630.4v-4.5h5.18v4.5zM316.8 1630.4v-5.6h5.18v5.6zM342.7 1630.4v-8.3h5.18v8.3zM368.6 1630.4v-11.4h5.18v11.4zM394.5 1630.4v-19h5.18v19zM420.4 1630.4v-67h5.18v67zM446.3 1630.4v-218.8h5.18v218.8zM472.2 1630.4v-363.4h5.18v363.4zM498.1 1630.4v-179.4h5.18v179.4zM524 1630.4v-9.3h5.18v9.3zM549.9 1630.4v-0.3h5.18v0.3z" fill="#b5ea75"/>
<path d="M114.7 1630.4v-0.5h5.18v0.5zM140.6 1630.4v-0.8h5.18v0.8zM166.5 1630.4v-1h5.18v1zM192.4 1630.4v-1h5.18v1zM218.3 1630.4v-1.3h5.18v1.3zM244.2 1630.4v-1.5h5.18v1.5zM270.1 1630.4v-2.5h5.18v2.5zM296 1630.4v-3.3h5.18v3.3zM321.9 1630.4v-5.1h5.18v5.1zM347.8 1630.4v-6.3h5.18v6.3zM373.7 1630.4v-10.6h5.18v10.6zM399.6 1630.4v-19.5h5.18v19.5zM425.5 1630.4v-64.4h5.18v64.4zM451.4 1630.4v-209.7h5.18v209.7zM477.3 1630.4v-359.1h5.18v359.1zM503.2 1630.4v-173.6h5.18v173.6zM529.1 1630.4v-9.3h5.18v9.3zM555 1630.4v-0.3h5.18v0.3z" fill="#c994d8"/>
<path d="M145.8 1630.4v-2h5.18v2zM171.7 1630.4v-4.3h5.18v4.3zM197.6 1630.4v-4.3h5.18v4.3zM223.5 1630.4v-5.1h5.18v5.1zM249.4 1630.4v-5.8h5.18v5.8zM275.3 1630.4v-7.1h5.18v7.1zM301.2 1630.4v-8.3h5.18v8.3zM327.1 1630.4v-7.6h5.18v7.6zM353 1630.4v-7.6h5.18v7.6zM378.9 1630.4v-10.1h5.18v10.1zM404.8 1630.4v-23.5h5.18v23.5zM430.7 1630.4v-70.8h5.18v70.8zM456.6 1630.4v-188.3h5.18v188.3zM482.5 1630.4v-243.1h5.18v243.1zM508.4 1630.4v-85.2h5.18v85.2zM534.3 1630.4v-3.8h5.18v3.8z" fill="#fdb96c"/>
<rect x="73.5" y="1226.1" width="541.6" height="404.3" fill="none" stroke="#3a3a3a" stroke-width="1.6"/>
<path d="M73.5 1630.4L67.5 1630.4M73.5 1605.1L70 1605.1M73.5 1579.9L67.5 1579.9M73.5 1554.6L70 1554.6M73.5 1529.3L67.5 1529.3M73.5 1504.1L70 1504.1M73.5 1478.8L67.5 1478.8M73.5 1453.5L70 1453.5M73.5 1428.2L67.5 1428.2M73.5 1403L70 1403M73.5 1377.7L67.5 1377.7M73.5 1352.4L70 1352.4M73.5 1327.2L67.5 1327.2M73.5 1301.9L70 1301.9M73.5 1276.6L67.5 1276.6M73.5 1251.4L70 1251.4M73.5 1226.1L67.5 1226.1M73.3 1630.4L73.3 1636.4M254.3 1630.4L254.3 1633.9M332.3 1630.4L332.3 1636.4M513.3 1630.4L513.3 1633.9M591.3 1630.4L591.3 1636.4" stroke="#3a3a3a" stroke-width="1.5" fill="none"/>
<text x="63.4" y="1637.4" font-size="22" font-weight="bold" text-anchor="end" fill="#111" stroke="#111" stroke-width="0.35">0</text>
<text x="63.4" y="1586.9" font-size="22" font-weight="bold" text-anchor="end" fill="#111" stroke="#111" stroke-width="0.35">2</text>
<text x="63.4" y="1536.3" font-size="22" font-weight="bold" text-anchor="end" fill="#111" stroke="#111" stroke-width="0.35">4</text>
<text x="63.4" y="1485.8" font-size="22" font-weight="bold" text-anchor="end" fill="#111" stroke="#111" stroke-width="0.35">6</text>
<text x="63.4" y="1435.2" font-size="22" font-weight="bold" text-anchor="end" fill="#111" stroke="#111" stroke-width="0.35">8</text>
<text x="63.4" y="1384.7" font-size="22" font-weight="bold" text-anchor="end" fill="#111" stroke="#111" stroke-width="0.35">10</text>
<text x="63.4" y="1334.2" font-size="22" font-weight="bold" text-anchor="end" fill="#111" stroke="#111" stroke-width="0.35">12</text>
<text x="63.4" y="1283.6" font-size="22" font-weight="bold" text-anchor="end" fill="#111" stroke="#111" stroke-width="0.35">14</text>
<text x="63.4" y="1233.1" font-size="22" font-weight="bold" text-anchor="end" fill="#111" stroke="#111" stroke-width="0.35">16</text>
<text x="73" y="1657.2" font-size="22" font-weight="bold" text-anchor="middle" fill="#111" stroke="#111" stroke-width="0.35">1</text>
<text x="332" y="1657.2" font-size="22" font-weight="bold" text-anchor="middle" fill="#111" stroke="#111" stroke-width="0.35">10</text>
<text x="591" y="1657.2" font-size="22" font-weight="bold" text-anchor="middle" fill="#111" stroke="#111" stroke-width="0.35">100</text>
<text x="194.6" y="1692" font-size="22.4" font-weight="bold" text-anchor="start" fill="#111" stroke="#111" stroke-width="0.35" textLength="300.6" lengthAdjust="spacingAndGlyphs">Eq. Spherical Diameter (µm)</text>
<text transform="translate(32.4 1429) rotate(-90)" text-anchor="middle" font-size="22.1" fill="#111"><tspan font-weight="bold" stroke="#111" stroke-width="0.35">Count</tspan><tspan font-weight="normal"> (</tspan><tspan font-weight="normal" dx="1">×</tspan><tspan font-weight="normal" dx="1">10</tspan><tspan font-weight="normal" dy="-8.6" font-size="14.2">3</tspan><tspan font-weight="normal" dy="8.6">)</tspan></text>
<text x="10.6" y="1698.6" font-size="48" font-weight="bold" text-anchor="start" fill="#111" stroke="#111" stroke-width="0.35">(a)</text>
<rect x="80.1" y="1232.5" width="187" height="109.3" fill="#fff" stroke="#a9a9a9" stroke-width="1.2"/>
<rect x="82.6" y="1235.7" width="38.2" height="19" fill="#f9907d"/>
<text x="125.3" y="1250.5" font-size="16.4" font-weight="bold" text-anchor="start" fill="#111" stroke="#111" stroke-width="0.35" textLength="130.7" lengthAdjust="spacingAndGlyphs">1 µm (Denoised)</text>
<rect x="82.6" y="1257.1" width="38.2" height="19" fill="#8ebfe2"/>
<text x="125.3" y="1271.9" font-size="16.4" font-weight="bold" text-anchor="start" fill="#2323dc" stroke="#2323dc" stroke-width="0.35" textLength="138.6" lengthAdjust="spacingAndGlyphs">3-1 µm (DeepNet)</text>
<rect x="82.6" y="1278.5" width="38.2" height="19" fill="#b5ea75"/>
<text x="125.3" y="1293.3" font-size="16.4" font-weight="bold" text-anchor="start" fill="#111" stroke="#111" stroke-width="0.35" textLength="130.7" lengthAdjust="spacingAndGlyphs">3 µm (Denoised)</text>
<rect x="82.6" y="1299.9" width="38.2" height="19" fill="#c994d8"/>
<text x="125.3" y="1314.7" font-size="16.4" font-weight="bold" text-anchor="start" fill="#2323dc" stroke="#2323dc" stroke-width="0.35" textLength="138.6" lengthAdjust="spacingAndGlyphs">9-3 µm (DeepNet)</text>
<rect x="82.6" y="1321.3" width="38.2" height="19" fill="#fdb96c"/>
<text x="125.3" y="1336.1" font-size="16.4" font-weight="bold" text-anchor="start" fill="#111" stroke="#111" stroke-width="0.35" textLength="130.7" lengthAdjust="spacingAndGlyphs">9 µm (Denoised)</text>
<clipPath id="cb"><rect x="697.8" y="1229.7" width="494.1" height="398"/></clipPath>
<clipPath id="cb2"><rect x="697.8" y="1229.7" width="494.1" height="406"/></clipPath>
<g clip-path="url(#cb)" fill="none" stroke-linecap="round" stroke-linejoin="round">
<path d="M992.8 1626.6L993.5 1626.6L994.1 1626.6L994.8 1626.6L995.4 1626.6L996.1 1626.6L996.7 1626.6L997.4 1626.6L998 1626.6L998.7 1626.6L999.3 1626.6L1000 1626.6L1000.6 1626.6L1001.3 1626.5L1001.9 1626.5L1002.6 1626.5L1003.2 1626.5L1003.9 1626.5L1004.5 1626.5L1005.2 1626.5L1005.8 1626.5L1006.5 1626.4L1007.1 1626.4L1007.8 1626.3L1008.4 1626.2L1009.1 1626.1L1009.7 1626L1010.4 1625.9L1011 1625.8L1011.7 1625.6L1012.3 1625.5L1013 1625.3L1013.6 1625.2L1014.3 1625L1014.9 1624.8L1015.6 1624.6L1016.2 1624.4L1016.9 1624.2L1017.5 1624L1018.2 1623.8L1018.8 1623.5L1019.5 1623.3L1020.1 1623.1L1020.8 1622.8L1021.5 1622.6L1022.1 1622.2L1022.8 1621.9L1023.4 1621.5L1024.1 1621L1024.7 1620.5L1025.4 1620L1026 1619.4L1026.7 1618.9L1027.3 1618.3L1028 1617.7L1028.6 1617.1L1029.3 1616.5L1029.9 1615.9L1030.6 1615.2L1031.2 1614.6L1031.9 1614L1032.5 1613.3L1033.2 1612.6L1033.8 1611.9L1034.5 1611.2L1035.1 1610.5L1035.8 1609.7L1036.4 1608.9L1037.1 1608.1L1037.7 1607.2L1038.4 1606.3L1039 1605.3L1039.7 1604.3L1040.3 1603.2L1041 1602.1L1041.6 1600.9L1042.3 1599.7L1042.9 1598.3L1043.6 1596.8L1044.2 1595.1L1044.9 1593.2L1045.5 1591.2L1046.2 1589.1L1046.8 1586.9L1047.5 1584.5L1048.1 1581.8L1048.8 1578.7L1049.5 1575.2L1050.1 1571.4L1050.8 1567.4L1051.4 1563.3L1052.1 1559.1L1052.7 1555L1053.4 1550.9L1054 1546.6L1054.7 1542.3L1055.3 1537.8L1056 1533.3L1056.6 1528.7L1057.3 1524.1L1057.9 1519.4L1058.6 1514.7L1059.2 1509.8L1059.9 1505L1060.5 1500.2L1061.2 1495.5L1061.8 1491L1062.5 1486.7L1063.1 1482.5L1063.8 1478.4L1064.4 1474.3L1065.1 1470.2L1065.7 1466L1066.4 1461.6L1067 1457.1L1067.7 1452.4L1068.3 1447.6L1069 1442.8L1069.6 1438L1070.3 1433.3L1070.9 1428.8L1071.6 1424.3L1072.2 1420L1072.9 1415.8L1073.5 1411.6L1074.2 1407.3L1074.8 1403.1L1075.5 1398.7L1076.1 1394.3L1076.8 1389.9L1077.5 1385.4L1078.1 1381L1078.8 1376.4L1079.4 1371.9L1080.1 1367.2L1080.7 1362.5L1081.4 1357.7L1082 1352.5L1082.7 1347.2L1083.3 1341.7L1084 1336.3L1084.6 1331L1085.3 1325.9L1085.9 1321.1L1086.6 1316.7L1087.2 1312.8L1087.9 1309.1L1088.5 1305.6L1089.2 1302.3L1089.8 1299.1L1090.5 1296.1L1091.1 1293.2L1091.8 1290.3L1092.4 1287.5L1093.1 1284.6L1093.7 1281.7L1094.4 1278.9L1095 1276.1L1095.7 1273.5L1096.3 1271.1L1097 1269L1097.6 1267.1L1098.3 1265.6L1098.9 1264.4L1099.6 1263.2L1100.2 1262.1L1100.9 1261L1101.5 1260L1102.2 1259L1102.8 1258.2L1103.5 1257.3L1104.1 1256.6L1104.8 1255.9L1105.4 1255.3L1106.1 1254.7L1106.8 1254.3L1107.4 1253.9L1108.1 1253.6L1108.7 1253.3L1109.4 1253.1L1110 1252.8L1110.7 1252.6L1111.3 1252.4L1112 1252.2L1112.6 1252.1L1113.3 1251.9L1113.9 1251.8L1114.6 1251.6L1115.2 1251.5L1115.9 1251.4L1116.5 1251.3L1117.2 1251.2L1117.8 1251.2L1118.5 1251.1L1119.1 1251L1119.8 1251L1120.4 1250.9L1121.1 1250.9L1121.7 1250.8L1122.4 1250.8" stroke="#f4736b" stroke-width="9.5"/>
<path d="M1121.2 1250.9L1122.3 1250.8L1123.3 1250.7L1124.4 1250.6L1125.4 1250.5L1126.5 1250.5L1127.5 1250.4L1128.6 1250.3L1129.7 1250.3L1130.7 1250.2L1131.8 1250.2L1132.8 1250.1L1133.9 1250.1L1134.9 1250L1136 1250L1137.1 1249.9L1138.1 1249.9L1139.2 1249.9L1140.2 1249.8L1141.3 1249.8L1142.3 1249.7L1143.4 1249.7L1144.5 1249.7L1145.5 1249.6L1146.6 1249.6L1147.6 1249.5L1148.7 1249.5L1149.7 1249.5L1150.8 1249.4L1151.9 1249.4L1152.9 1249.3L1154 1249.3L1155 1249.3L1156.1 1249.2L1157.1 1249.2L1158.2 1249.1L1159.3 1249.1L1160.3 1249.1L1161.4 1249L1162.4 1249" stroke="#f6807a" stroke-width="8.5" stroke-linecap="butt"/>
<path d="M992.8 1626.6L993.5 1626.6L994.1 1626.6L994.8 1626.6L995.4 1626.6L996.1 1626.6L996.7 1626.6L997.4 1626.6L998 1626.6L998.7 1626.6L999.3 1626.6L1000 1626.6L1000.6 1626.6L1001.3 1626.5L1001.9 1626.5L1002.6 1626.5L1003.2 1626.5L1003.9 1626.5L1004.5 1626.5L1005.2 1626.5L1005.8 1626.5L1006.5 1626.4L1007.1 1626.4L1007.8 1626.3L1008.4 1626.2L1009.1 1626.1L1009.7 1626L1010.4 1625.9L1011 1625.8L1011.7 1625.6L1012.3 1625.5L1013 1625.3L1013.6 1625.2L1014.3 1625L1014.9 1624.8L1015.6 1624.6L1016.2 1624.4L1016.9 1624.2L1017.5 1624L1018.2 1623.8L1018.8 1623.5L1019.5 1623.3L1020.1 1623.1L1020.8 1622.8L1021.5 1622.6L1022.1 1622.2L1022.8 1621.9L1023.4 1621.5L1024.1 1621L1024.7 1620.5L1025.4 1620L1026 1619.4L1026.7 1618.9L1027.3 1618.3L1028 1617.7L1028.6 1617.1L1029.3 1616.5L1029.9 1615.9L1030.6 1615.2L1031.2 1614.6L1031.9 1614L1032.5 1613.3L1033.2 1612.6L1033.8 1611.9L1034.5 1611.2L1035.1 1610.4L1035.8 1609.7L1036.4 1608.8L1037.1 1608L1037.7 1607.1L1038.4 1606.2L1039 1605.2L1039.7 1604.2L1040.3 1603.2L1041 1602.1L1041.6 1600.9L1042.3 1599.7L1042.9 1598.4L1043.6 1596.9L1044.2 1595.3L1044.9 1593.6L1045.5 1591.7L1046.2 1589.7L1046.8 1587.5L1047.5 1585.3L1048.1 1582.7L1048.8 1579.8L1049.5 1576.5L1050.1 1572.9L1050.8 1569.1L1051.4 1565.1L1052.1 1561.1L1052.7 1557.1L1053.4 1553.2L1054 1549.1L1054.7 1544.8L1055.3 1540.4L1056 1536L1056.6 1531.6L1057.3 1527.1L1057.9 1522.7L1058.6 1518.1L1059.2 1513.5L1059.9 1508.9L1060.5 1504.3L1061.2 1499.8L1061.8 1495.4L1062.5 1491.1L1063.1 1486.9L1063.8 1482.8L1064.4 1478.7L1065.1 1474.5L1065.7 1470.3L1066.4 1466L1067 1461.6L1067.7 1457.1L1068.3 1452.5L1069 1447.9L1069.6 1443.4L1070.3 1438.9L1070.9 1434.5L1071.6 1430.2L1072.2 1426L1072.9 1421.8L1073.5 1417.7L1074.2 1413.5L1074.8 1409.4L1075.5 1405.2L1076.1 1401L1076.8 1396.8L1077.5 1392.6L1078.1 1388.4L1078.8 1384.1L1079.4 1379.8L1080.1 1375.4L1080.7 1370.8L1081.4 1366.1L1082 1360.9L1082.7 1355.5L1083.3 1349.9L1084 1344.2L1084.6 1338.7L1085.3 1333.4L1085.9 1328.4L1086.6 1323.9L1087.2 1320L1087.9 1316.4L1088.5 1313L1089.2 1309.7L1089.8 1306.7L1090.5 1303.7L1091.1 1300.8L1091.8 1297.9L1092.4 1295L1093.1 1291.9L1093.7 1288.8L1094.4 1285.7L1095 1282.7L1095.7 1279.9L1096.3 1277.2L1097 1274.9L1097.6 1272.8L1098.3 1271.2L1098.9 1269.9L1099.6 1268.7L1100.2 1267.5L1100.9 1266.3L1101.5 1265.3L1102.2 1264.3L1102.8 1263.4L1103.5 1262.5L1104.1 1261.7L1104.8 1261L1105.4 1260.3L1106.1 1259.7L1106.8 1259.2L1107.4 1258.7L1108.1 1258.3L1108.7 1258L1109.4 1257.6L1110 1257.3L1110.7 1256.9L1111.3 1256.6L1112 1256.3L1112.6 1256.1L1113.3 1255.8L1113.9 1255.6L1114.6 1255.4L1115.2 1255.2L1115.9 1255L1116.5 1254.9L1117.2 1254.8L1117.8 1254.8L1118.5 1254.7L1119.1 1254.7L1119.8 1254.6L1120.4 1254.6L1121.1 1254.5L1121.7 1254.5L1122.4 1254.4" stroke="#6fb3e3" stroke-width="9.5"/>
<path d="M1121.2 1254.5L1122.4 1254.4L1123.6 1254.3L1124.7 1254.3L1125.9 1254.2L1127.1 1254.2L1128.3 1254.1L1129.4 1254.1L1130.6 1254L1131.8 1254L1133 1253.9L1134.2 1253.9L1135.3 1253.9L1136.5 1253.8L1137.7 1253.8L1138.9 1253.8L1140 1253.7L1141.2 1253.7L1142.4 1253.7L1143.6 1253.6L1144.8 1253.6L1145.9 1253.6L1147.1 1253.5L1148.3 1253.5L1149.5 1253.5L1150.7 1253.5L1151.8 1253.4L1153 1253.4L1154.2 1253.4L1155.4 1253.3L1156.5 1253.3L1157.7 1253.3L1158.9 1253.2L1160.1 1253.2L1161.3 1253.2L1162.4 1253.2L1163.6 1253.1L1164.8 1253.1L1166 1253.1L1167.1 1253.1" stroke="#7bbbe8" stroke-width="9" stroke-linecap="butt"/>
<path d="M992.8 1627L993.5 1627L994.1 1627L994.8 1627L995.5 1627L996.2 1627L996.8 1627L997.5 1627L998.2 1627L998.9 1626.9L999.5 1626.9L1000.2 1626.9L1000.9 1626.9L1001.6 1626.9L1002.2 1626.9L1002.9 1626.9L1003.6 1626.9L1004.3 1626.9L1004.9 1626.9L1005.6 1626.9L1006.3 1626.8L1007 1626.8L1007.6 1626.7L1008.3 1626.7L1009 1626.6L1009.7 1626.5L1010.3 1626.4L1011 1626.3L1011.7 1626.1L1012.4 1626L1013 1625.9L1013.7 1625.7L1014.4 1625.5L1015.1 1625.4L1015.7 1625.2L1016.4 1625L1017.1 1624.8L1017.8 1624.6L1018.4 1624.4L1019.1 1624.2L1019.8 1624L1020.5 1623.8L1021.1 1623.5L1021.8 1623.2L1022.5 1622.9L1023.2 1622.5L1023.8 1622.1L1024.5 1621.6L1025.2 1621.1L1025.9 1620.6L1026.5 1620L1027.2 1619.4L1027.9 1618.8L1028.6 1618.3L1029.2 1617.7L1029.9 1617.1L1030.6 1616.5L1031.3 1615.8L1031.9 1615.2L1032.6 1614.6L1033.3 1613.9L1034 1613.3L1034.6 1612.6L1035.3 1611.8L1036 1611.1L1036.7 1610.3L1037.3 1609.5L1038 1608.6L1038.7 1607.7L1039.4 1606.8L1040 1605.8L1040.7 1604.8L1041.4 1603.7L1042.1 1602.6L1042.7 1601.3L1043.4 1599.9L1044.1 1598.4L1044.8 1596.7L1045.4 1594.9L1046.1 1593L1046.8 1590.9L1047.5 1588.7L1048.1 1586.3L1048.8 1583.4L1049.5 1580.2L1050.2 1576.7L1050.8 1573L1051.5 1569.1L1052.2 1565.2L1052.9 1561.4L1053.5 1557.5L1054.2 1553.4L1054.9 1549.2L1055.6 1545L1056.2 1540.6L1056.9 1536.3L1057.6 1532L1058.3 1527.6L1058.9 1523.3L1059.6 1518.8L1060.3 1514.4L1061 1510L1061.6 1505.7L1062.3 1501.5L1063 1497.4L1063.7 1493.3L1064.3 1489.2L1065 1485.2L1065.7 1481.1L1066.4 1477L1067 1472.9L1067.7 1468.7L1068.4 1464.5L1069.1 1460.3L1069.7 1456.1L1070.4 1452L1071.1 1447.9L1071.8 1443.9L1072.4 1440L1073.1 1436.2L1073.8 1432.3L1074.5 1428.5L1075.1 1424.5L1075.8 1420.5L1076.5 1416.3L1077.2 1412L1077.8 1407.6L1078.5 1403.1L1079.2 1398.6L1079.9 1394.1L1080.5 1389.6L1081.2 1385.3L1081.9 1380.9L1082.6 1376.5L1083.2 1372L1083.9 1367.6L1084.6 1363.3L1085.3 1359.1L1085.9 1355.1L1086.6 1351.4L1087.3 1347.8L1088 1344.2L1088.6 1340.7L1089.3 1337.4L1090 1334.2L1090.7 1331.2L1091.3 1328.4L1092 1326L1092.7 1323.8L1093.4 1321.6L1094 1319.5L1094.7 1317.6L1095.4 1316L1096 1314.6L1096.7 1313.5L1097.4 1312.8L1098.1 1312.1L1098.7 1311.5L1099.4 1310.9L1100.1 1310.4L1100.8 1309.9L1101.4 1309.4L1102.1 1309L1102.8 1308.6L1103.5 1308.3L1104.1 1307.9L1104.8 1307.6L1105.5 1307.4L1106.2 1307.1L1106.8 1306.9L1107.5 1306.7L1108.2 1306.5L1108.9 1306.4L1109.5 1306.2L1110.2 1306.1L1110.9 1306L1111.6 1305.8L1112.2 1305.7L1112.9 1305.6L1113.6 1305.5L1114.3 1305.4L1114.9 1305.3L1115.6 1305.2L1116.3 1305.2L1117 1305.1L1117.6 1305L1118.3 1304.9L1119 1304.9L1119.7 1304.8L1120.3 1304.7L1121 1304.7L1121.7 1304.6L1122.4 1304.5L1123 1304.5L1123.7 1304.4L1124.4 1304.3L1125.1 1304.3L1125.7 1304.2L1126.4 1304.1L1127.1 1304.1" stroke="#a6e35a" stroke-width="9.5"/>
<path d="M1125.9 1304.2L1126.8 1304.1L1127.7 1304L1128.5 1303.9L1129.4 1303.9L1130.3 1303.8L1131.2 1303.7L1132 1303.6L1132.9 1303.5L1133.8 1303.5L1134.7 1303.4L1135.5 1303.3L1136.4 1303.2L1137.3 1303.1L1138.2 1303.1L1139.1 1303L1139.9 1302.9L1140.8 1302.8L1141.7 1302.8L1142.6 1302.7L1143.4 1302.6L1144.3 1302.5L1145.2 1302.5L1146.1 1302.4L1146.9 1302.3L1147.8 1302.3L1148.7 1302.2L1149.6 1302.1L1150.4 1302.1L1151.3 1302L1152.2 1301.9L1153.1 1301.9L1153.9 1301.8L1154.8 1301.7L1155.7 1301.7L1156.6 1301.6L1157.4 1301.6L1158.3 1301.5L1159.2 1301.5L1160.1 1301.4" stroke="#afe76a" stroke-width="10.5" stroke-linecap="butt"/>
<path d="M992.8 1627L993.5 1627L994.1 1627L994.8 1627L995.5 1627L996.2 1627L996.8 1627L997.5 1627L998.2 1627L998.9 1626.9L999.5 1626.9L1000.2 1626.9L1000.9 1626.9L1001.6 1626.9L1002.2 1626.9L1002.9 1626.9L1003.6 1626.9L1004.3 1626.9L1004.9 1626.9L1005.6 1626.9L1006.3 1626.8L1007 1626.8L1007.6 1626.7L1008.3 1626.7L1009 1626.6L1009.7 1626.5L1010.3 1626.4L1011 1626.3L1011.7 1626.1L1012.4 1626L1013 1625.9L1013.7 1625.7L1014.4 1625.5L1015.1 1625.4L1015.7 1625.2L1016.4 1625L1017.1 1624.8L1017.8 1624.6L1018.4 1624.4L1019.1 1624.2L1019.8 1624L1020.5 1623.8L1021.1 1623.5L1021.8 1623.2L1022.5 1622.9L1023.2 1622.5L1023.8 1622.1L1024.5 1621.6L1025.2 1621.1L1025.9 1620.6L1026.5 1620L1027.2 1619.4L1027.9 1618.8L1028.6 1618.3L1029.2 1617.7L1029.9 1617.1L1030.6 1616.5L1031.3 1615.8L1031.9 1615.2L1032.6 1614.6L1033.3 1613.9L1034 1613.3L1034.6 1612.6L1035.3 1611.8L1036 1611.1L1036.7 1610.3L1037.3 1609.5L1038 1608.6L1038.7 1607.7L1039.4 1606.8L1040 1605.8L1040.7 1604.8L1041.4 1603.7L1042.1 1602.6L1042.7 1601.3L1043.4 1599.9L1044.1 1598.4L1044.8 1596.7L1045.4 1594.9L1046.1 1593L1046.8 1590.9L1047.5 1588.7L1048.1 1586.3L1048.8 1583.4L1049.5 1580.2L1050.2 1576.7L1050.8 1573L1051.5 1569.1L1052.2 1565.2L1052.9 1561.4L1053.5 1557.5L1054.2 1553.4L1054.9 1549.2L1055.6 1545L1056.2 1540.6L1056.9 1536.3L1057.6 1532L1058.3 1527.6L1058.9 1523.3L1059.6 1518.8L1060.3 1514.4L1061 1510L1061.6 1505.7L1062.3 1501.5L1063 1497.4L1063.7 1493.3L1064.3 1489.2L1065 1485.1L1065.7 1481.1L1066.4 1477L1067 1472.9L1067.7 1468.9L1068.4 1464.8L1069.1 1460.7L1069.7 1456.7L1070.4 1452.7L1071.1 1448.8L1071.8 1444.9L1072.4 1441.2L1073.1 1437.5L1073.8 1433.8L1074.5 1430.1L1075.1 1426.4L1075.8 1422.6L1076.5 1418.6L1077.2 1414.6L1077.8 1410.5L1078.5 1406.3L1079.2 1402L1079.9 1397.8L1080.5 1393.7L1081.2 1389.6L1081.9 1385.5L1082.6 1381.3L1083.2 1377.2L1083.9 1373L1084.6 1369L1085.3 1365L1085.9 1361.3L1086.6 1357.7L1087.3 1354.4L1088 1351.1L1088.6 1347.9L1089.3 1344.7L1090 1341.8L1090.7 1339L1091.3 1336.4L1092 1334.1L1092.7 1332L1093.4 1329.9L1094 1328L1094.7 1326.2L1095.4 1324.6L1096 1323.3L1096.7 1322.3L1097.4 1321.6L1098.1 1321L1098.7 1320.4L1099.4 1319.8L1100.1 1319.3L1100.8 1318.8L1101.4 1318.4L1102.1 1318L1102.8 1317.6L1103.5 1317.3L1104.1 1316.9L1104.8 1316.7L1105.5 1316.4L1106.2 1316.2L1106.8 1316L1107.5 1315.8L1108.2 1315.7L1108.9 1315.6L1109.5 1315.4L1110.2 1315.3L1110.9 1315.2L1111.6 1315.1L1112.2 1315L1112.9 1314.9L1113.6 1314.8L1114.3 1314.8L1114.9 1314.7L1115.6 1314.6L1116.3 1314.6L1117 1314.5L1117.6 1314.4L1118.3 1314.4L1119 1314.3L1119.7 1314.3L1120.3 1314.2L1121 1314.2L1121.7 1314.1L1122.4 1314.1L1123 1314L1123.7 1314L1124.4 1313.9L1125.1 1313.9L1125.7 1313.8L1126.4 1313.8L1127.1 1313.8" stroke="#c878d6" stroke-width="9.5"/>
<path d="M1125.9 1313.8L1127.2 1313.7L1128.4 1313.7L1129.6 1313.6L1130.9 1313.5L1132.1 1313.4L1133.3 1313.3L1134.6 1313.3L1135.8 1313.2L1137.1 1313.1L1138.3 1313L1139.5 1312.9L1140.8 1312.9L1142 1312.8L1143.3 1312.7L1144.5 1312.6L1145.7 1312.6L1147 1312.5L1148.2 1312.4L1149.4 1312.4L1150.7 1312.3L1151.9 1312.2L1153.2 1312.2L1154.4 1312.1L1155.6 1312.1L1156.9 1312L1158.1 1311.9L1159.4 1311.9L1160.6 1311.8L1161.8 1311.8L1163.1 1311.7L1164.3 1311.7L1165.5 1311.7L1166.8 1311.6L1168 1311.6L1169.3 1311.5L1170.5 1311.5L1171.7 1311.5L1173 1311.4L1174.2 1311.4" stroke="#d08bdc" stroke-width="9" stroke-linecap="butt"/>
<path d="M761.9 1627.7L763.7 1627.7L765.5 1627.7L767.3 1627.7L769.2 1627.7L771 1627.7L772.8 1627.7L774.6 1627.7L776.4 1627.7L778.2 1627.7L780 1627.7L781.8 1627.7L783.6 1627.7L785.5 1627.7L787.3 1627.7L789.1 1627.7L790.9 1627.7L792.7 1627.7L794.5 1627.7L796.3 1627.7L798.1 1627.7L800 1627.7L801.8 1627.7L803.6 1627.7L805.4 1627.7L807.2 1627.7L809 1627.7L810.8 1627.7L812.6 1627.6L814.4 1627.6L816.3 1627.6L818.1 1627.6L819.9 1627.6L821.7 1627.6L823.5 1627.6L825.3 1627.6L827.1 1627.6L828.9 1627.6L830.7 1627.6L832.6 1627.6L834.4 1627.6L836.2 1627.6L838 1627.6L839.8 1627.6L841.6 1627.6L843.4 1627.6L845.2 1627.6L847 1627.6L848.9 1627.6L850.7 1627.6L852.5 1627.6L854.3 1627.6L856.1 1627.5L857.9 1627.5L859.7 1627.5L861.5 1627.5L863.4 1627.5L865.2 1627.5L867 1627.5L868.8 1627.5L870.6 1627.5L872.4 1627.5L874.2 1627.5L876 1627.5L877.8 1627.5L879.7 1627.5L881.5 1627.5L883.3 1627.4L885.1 1627.4L886.9 1627.4L888.7 1627.4L890.5 1627.4L892.3 1627.4L894.1 1627.4L896 1627.4L897.8 1627.4L899.6 1627.4L901.4 1627.4L903.2 1627.4L905 1627.3L906.8 1627.3L908.6 1627.3L910.4 1627.3L912.3 1627.3L914.1 1627.3L915.9 1627.3L917.7 1627.3L919.5 1627.3L921.3 1627.2L923.1 1627.2L924.9 1627.2L926.7 1627.2L928.6 1627.2L930.4 1627.2L932.2 1627.2L934 1627.2L935.8 1627.2L937.6 1627.1L939.4 1627.1L941.2 1627.1L943.1 1627.1L944.9 1627.1L946.7 1627.1L948.5 1627.1L950.3 1627L952.1 1627L953.9 1627L955.7 1627L957.5 1627L959.4 1627L961.2 1627L963 1626.9L964.8 1626.9L966.6 1626.9L968.4 1626.9L970.2 1626.9L972 1626.9L973.8 1626.8L975.7 1626.8L977.5 1626.8L979.3 1626.8L981.1 1626.8L982.9 1626.7L984.7 1626.7L986.5 1626.7L988.3 1626.7L990.1 1626.7L992 1626.7L993.8 1626.6L995.6 1626.6L997.4 1626.6L999.2 1626.6L1001 1626.5L1002.8 1626.5L1004.6 1626.5L1006.5 1626.4L1008.3 1626.2L1010.1 1625.9L1011.9 1625.6L1013.7 1625.1L1015.5 1624.6L1017.3 1624.1L1019.1 1623.6L1020.9 1622.9L1022.8 1622.1L1024.6 1621.1L1026.4 1620L1028.2 1618.7L1030 1617.4L1031.8 1615.9L1033.6 1614.2L1035.4 1612.3L1037.2 1610.1L1039.1 1607.7L1040.9 1605.2L1042.7 1602.4L1044.5 1599.3L1046.3 1595.8L1048.1 1591.8L1049.9 1587.5L1051.7 1582.7L1053.5 1577.3L1055.4 1571.5L1057.2 1565.4L1059 1559L1060.8 1552.2L1062.6 1545L1064.4 1537.4L1066.2 1529.6L1068 1521.3L1069.8 1512.6L1071.7 1504L1073.5 1495.2L1075.3 1486.4L1077.1 1478L1078.9 1470.3L1080.7 1463.3L1082.5 1457.3L1084.3 1451.9L1086.2 1447.9L1088 1444.9L1089.8 1442.4L1091.6 1440.4L1093.4 1438.7L1095.2 1437.2L1097 1435.8L1098.8 1434.5L1100.6 1433.5L1102.5 1432.9L1104.3 1432.6L1106.1 1432.5L1107.9 1432.3L1109.7 1432.2L1111.5 1432.1L1113.3 1432.1L1115.1 1432L1116.9 1431.9L1118.8 1431.9L1120.6 1431.9L1122.4 1431.9" stroke="#fdb353" stroke-width="9.5"/>
<path d="M1121.2 1431.9L1121.8 1431.9L1122.5 1431.9L1123.1 1431.9L1123.7 1431.9L1124.4 1431.9L1125 1431.9L1125.6 1431.9L1126.3 1431.9L1126.9 1431.9L1127.5 1431.9L1128.2 1431.9L1128.8 1431.9L1129.4 1431.9L1130.1 1431.9L1130.7 1431.9L1131.4 1431.9L1132 1431.9L1132.6 1431.9L1133.3 1431.9L1133.9 1431.9L1134.5 1431.9L1135.2 1431.9L1135.8 1431.9L1136.4 1431.9L1137.1 1431.9L1137.7 1431.9L1138.3 1431.9L1139 1431.9L1139.6 1431.9L1140.2 1431.9L1140.9 1431.9L1141.5 1431.9L1142.1 1431.9L1142.8 1431.9L1143.4 1431.9L1144 1431.9L1144.7 1431.9L1145.3 1431.9L1145.9 1431.9" stroke="#fdbb68" stroke-width="9.5" stroke-linecap="butt"/>
</g>
<g stroke-width="1" fill-opacity="0.6" clip-path="url(#cb2)">
<rect x="1166.4" y="1245.3" width="8.6" height="8.6" fill="#f58f8a" stroke="#f07a74"/>
<rect x="1182.9" y="1244.1" width="8.6" height="8.6" fill="#f58f8a" stroke="#f07a74"/>
<circle cx="1175.4" cy="1252.8" r="4.6" fill="#8cc4ea" stroke="#6fb3e3"/>
<circle cx="1190.7" cy="1252.4" r="4.6" fill="#8cc4ea" stroke="#6fb3e3"/>
<path d="M1166 1295.3l5.5 10h-11z" fill="#b5ea75" stroke="#a0dc5c"/>
<path d="M1187.2 1294.5l5.5 10h-11z" fill="#b5ea75" stroke="#a0dc5c"/>
<path d="M1178.9 1317.3l5.5 -10h-11z" fill="#e0b5ea" stroke="#c98bd8"/>
<path d="M1190.7 1316.9l5.5 -10h-11z" fill="#e0b5ea" stroke="#c98bd8"/>
<path d="M1148.3 1426.4l5.5 5.5l-5.5 5.5l-5.5 -5.5z" fill="#fdc892" stroke="#fbb06a"/>
<path d="M1150.7 1426.4l5.5 5.5l-5.5 5.5l-5.5 -5.5z" fill="#fdc892" stroke="#fbb06a"/>
<path d="M1153 1426.4l5.5 5.5l-5.5 5.5l-5.5 -5.5z" fill="#fdc892" stroke="#fbb06a"/>
</g>
<g stroke-width="1" fill-opacity="0.6" clip-path="url(#cb)">
<path d="M728.6 1622.7l5 5l-5 5l-5 -5z" fill="#fdc892" stroke="#f3b47a"/>
<path d="M751.9 1622.7l5 5l-5 5l-5 -5z" fill="#fdc892" stroke="#f3b47a"/>
</g>
<rect x="697.8" y="1229.7" width="494.1" height="398" fill="none" stroke="#3a3a3a" stroke-width="1.8"/>
<path d="M697.8 1627.7L691.5 1627.7M697.8 1587.9L694.4 1587.9M697.8 1548.1L691.5 1548.1M697.8 1508.3L694.4 1508.3M697.8 1468.5L691.5 1468.5M697.8 1428.7L694.4 1428.7M697.8 1388.9L691.5 1388.9M697.8 1349.1L694.4 1349.1M697.8 1309.3L691.5 1309.3M697.8 1269.5L694.4 1269.5M697.8 1229.7L691.5 1229.7M698.3 1627.7L698.3 1634M769.2 1627.7L769.2 1631.1M810.7 1627.7L810.7 1631.1M840.1 1627.7L840.1 1631.1M863 1627.7L863 1631.1M881.6 1627.7L881.6 1631.1M897.4 1627.7L897.4 1631.1M911.1 1627.7L911.1 1631.1M923.1 1627.7L923.1 1631.1M933.9 1627.7L933.9 1634M1004.8 1627.7L1004.8 1631.1M1046.3 1627.7L1046.3 1631.1M1075.7 1627.7L1075.7 1631.1M1098.6 1627.7L1098.6 1631.1M1117.2 1627.7L1117.2 1631.1M1133 1627.7L1133 1631.1M1146.7 1627.7L1146.7 1631.1M1158.7 1627.7L1158.7 1631.1M1169.5 1627.7L1169.5 1634" stroke="#3a3a3a" stroke-width="1.6" fill="none"/>
<text x="685.2" y="1635.4" font-size="22" font-weight="bold" text-anchor="end" fill="#111" stroke="#111" stroke-width="0.35">0</text>
<text x="685.2" y="1555.8" font-size="22" font-weight="bold" text-anchor="end" fill="#111" stroke="#111" stroke-width="0.35">2</text>
<text x="685.2" y="1476.2" font-size="22" font-weight="bold" text-anchor="end" fill="#111" stroke="#111" stroke-width="0.35">4</text>
<text x="685.2" y="1396.6" font-size="22" font-weight="bold" text-anchor="end" fill="#111" stroke="#111" stroke-width="0.35">6</text>
<text x="685.2" y="1317" font-size="22" font-weight="bold" text-anchor="end" fill="#111" stroke="#111" stroke-width="0.35">8</text>
<text x="685.2" y="1237.4" font-size="22" font-weight="bold" text-anchor="end" fill="#111" stroke="#111" stroke-width="0.35">10</text>
<text x="698" y="1657.2" font-size="22" font-weight="bold" text-anchor="middle" fill="#111" stroke="#111" stroke-width="0.35">1</text>
<text x="933.6" y="1657.2" font-size="22" font-weight="bold" text-anchor="middle" fill="#111" stroke="#111" stroke-width="0.35">10</text>
<text x="1169.2" y="1657.2" font-size="22" font-weight="bold" text-anchor="middle" fill="#111" stroke="#111" stroke-width="0.35">100</text>
<text x="793.6" y="1694.3" font-size="22.4" font-weight="bold" text-anchor="start" fill="#111" stroke="#111" stroke-width="0.35" textLength="302" lengthAdjust="spacingAndGlyphs">Eq. Spherical Diameter (µm)</text>
<text transform="translate(652 1428.3) rotate(-90)" text-anchor="middle" font-size="22.8" fill="#111"><tspan font-weight="bold" stroke="#111" stroke-width="0.35">Cumulative Volume (µm</tspan><tspan font-weight="bold" dy="-8.9" font-size="14.6" stroke="#111" stroke-width="0.35">3</tspan><tspan font-weight="bold" dy="8.9" stroke="#111" stroke-width="0.35">)</tspan><tspan font-weight="normal"> (</tspan><tspan font-weight="normal" dx="1">×</tspan><tspan font-weight="normal" dx="1">10</tspan><tspan font-weight="normal" dy="-8.9" font-size="14.6">8</tspan><tspan font-weight="normal" dy="8.9">)</tspan></text>
<text x="632.5" y="1699.3" font-size="47" font-weight="bold" text-anchor="start" fill="#111" stroke="#111" stroke-width="0.35">(b)</text>
<rect x="704.8" y="1235" width="186.6" height="110" fill="#fff" stroke="#444" stroke-width="1.2"/>
<text x="750.7" y="1253.5" font-size="16.4" font-weight="bold" text-anchor="start" fill="#111" stroke="#111" stroke-width="0.35" textLength="130.8" lengthAdjust="spacingAndGlyphs">1 µm (Denoised)</text>
<text x="750.7" y="1275.2" font-size="16.4" font-weight="bold" text-anchor="start" fill="#2323dc" stroke="#2323dc" stroke-width="0.35" textLength="138.4" lengthAdjust="spacingAndGlyphs">3-1 µm (DeepNet)</text>
<text x="750.7" y="1296.9" font-size="16.4" font-weight="bold" text-anchor="start" fill="#111" stroke="#111" stroke-width="0.35" textLength="130.8" lengthAdjust="spacingAndGlyphs">3 µm (Denoised)</text>
<text x="750.7" y="1318.6" font-size="16.4" font-weight="bold" text-anchor="start" fill="#2323dc" stroke="#2323dc" stroke-width="0.35" textLength="138.4" lengthAdjust="spacingAndGlyphs">9-3 µm (DeepNet)</text>
<text x="750.7" y="1340.3" font-size="16.4" font-weight="bold" text-anchor="start" fill="#111" stroke="#111" stroke-width="0.35" textLength="130.8" lengthAdjust="spacingAndGlyphs">9 µm (Denoised)</text>
<rect x="721.9" y="1242.8" width="9" height="9" fill="#f5a3a0" stroke="#f08c88" stroke-width="1"/>
<circle cx="726.4" cy="1269" r="4.8" fill="#a4cdec" stroke="#82b8e0" stroke-width="1"/>
<path d="M726.4 1284.7l5.6 10h-11.2z" fill="#bce48f" stroke="#a6d877" stroke-width="1"/>
<path d="M726.4 1318.9l5.6 -10h-11.2z" fill="#e3c3ea" stroke="#c394d2" stroke-width="1"/>
<path d="M726.4 1328l6 6l-6 6l-6 -6z" fill="#fcc794" stroke="#f9b374" stroke-width="1"/>
<rect x="740.6" y="1369.5" width="255.1" height="222.1" fill="#f5f5f5"/>
<clipPath id="ci"><rect x="740.6" y="1369.5" width="255.1" height="222.1"/></clipPath>
<g clip-path="url(#ci)" fill="none" stroke-linecap="round" stroke-linejoin="round">
<path d="M813.9 1452.3L815.5 1450.8L817 1449.3L818.6 1447.9L820.1 1446.4L821.7 1445.1L823.3 1443.7L824.8 1442.4L826.4 1441L827.9 1439.8L829.5 1438.5L831 1437.2L832.6 1436L834.1 1434.8L835.7 1433.7L837.3 1432.6L838.8 1431.5L840.4 1430.4L841.9 1429.4L843.5 1428.4L845 1427.4L846.6 1426.4L848.1 1425.4L849.7 1424.5L851.3 1423.6L852.8 1422.8L854.4 1422L855.9 1421.2L857.5 1420.4L859 1419.7L860.6 1419.1L862.1 1418.4L863.7 1417.8L865.3 1417.1L866.8 1416.6L868.4 1416L869.9 1415.4L871.5 1414.9L873 1414.4L874.6 1413.9L876.1 1413.4L877.7 1413L879.3 1412.5L880.8 1412.1L882.4 1411.7L883.9 1411.3L885.5 1410.9L887 1410.5L888.6 1410.2L890.2 1409.8L891.7 1409.5L893.3 1409.2L894.8 1409L896.4 1408.7L897.9 1408.5L899.5 1408.2L901 1408L902.6 1407.8L904.2 1407.6L905.7 1407.4L907.3 1407.2L908.8 1407L910.4 1406.8L911.9 1406.6L913.5 1406.4L915 1406.2L916.6 1406L918.2 1405.8L919.7 1405.6L921.3 1405.4L922.8 1405.2L924.4 1405L925.9 1404.8L927.5 1404.6L929 1404.3L930.6 1404L932.2 1403.8L933.7 1403.5L935.3 1403.2L936.8 1402.8L938.4 1402.5L939.9 1402.1L941.5 1401.7L943 1401.3L944.6 1400.9L946.2 1400.4L947.7 1399.9L949.3 1399.4L950.8 1398.8L952.4 1398.1L953.9 1397.4L955.5 1396.7L957 1396L958.6 1395.2L960.2 1394.4L961.7 1393.6L963.3 1392.8L964.8 1391.9L966.4 1390.9L967.9 1389.9L969.5 1388.8L971 1387.7L972.6 1386.5L974.2 1385.3L975.7 1384.1L977.3 1382.9L978.8 1381.7L980.4 1380.4L981.9 1379.2L983.5 1377.8L985.1 1376.5L986.6 1375.1L988.2 1373.7L989.7 1372.2L991.3 1370.7L992.8 1369.1L994.4 1367.5L995.9 1365.8L997.5 1364L999.1 1362.1" stroke="#f4736b" stroke-width="6.5"/>
<path d="M813.9 1453.4L815.5 1451.9L817 1450.4L818.6 1449L820.1 1447.6L821.7 1446.2L823.3 1444.8L824.8 1443.5L826.4 1442.2L827.9 1440.9L829.5 1439.6L831 1438.4L832.6 1437.2L834.1 1436L835.7 1434.8L837.3 1433.7L838.8 1432.6L840.4 1431.5L841.9 1430.5L843.5 1429.4L845 1428.4L846.6 1427.4L848.1 1426.4L849.7 1425.4L851.3 1424.5L852.8 1423.6L854.4 1422.7L855.9 1421.9L857.5 1421.2L859 1420.5L860.6 1419.8L862.1 1419.1L863.7 1418.5L865.3 1417.8L866.8 1417.2L868.4 1416.7L869.9 1416.1L871.5 1415.6L873 1415.1L874.6 1414.7L876.1 1414.2L877.7 1413.8L879.3 1413.3L880.8 1412.9L882.4 1412.5L883.9 1412.2L885.5 1411.8L887 1411.5L888.6 1411.2L890.2 1410.9L891.7 1410.6L893.3 1410.4L894.8 1410.2L896.4 1410L897.9 1409.9L899.5 1409.7L901 1409.5L902.6 1409.4L904.2 1409.3L905.7 1409.1L907.3 1409L908.8 1408.8L910.4 1408.6L911.9 1408.5L913.5 1408.3L915 1408.2L916.6 1408L918.2 1407.9L919.7 1407.7L921.3 1407.5L922.8 1407.4L924.4 1407.2L925.9 1407L927.5 1406.8L929 1406.6L930.6 1406.4L932.2 1406.2L933.7 1405.9L935.3 1405.7L936.8 1405.4L938.4 1405.2L939.9 1404.9L941.5 1404.6L943 1404.2L944.6 1403.9L946.2 1403.5L947.7 1403L949.3 1402.5L950.8 1402L952.4 1401.4L953.9 1400.7L955.5 1400L957 1399.3L958.6 1398.6L960.2 1397.8L961.7 1397L963.3 1396.1L964.8 1395.1L966.4 1394L967.9 1392.9L969.5 1391.7L971 1390.4L972.6 1389.1L974.2 1387.7L975.7 1386.3L977.3 1384.9L978.8 1383.6L980.4 1382.2L981.9 1380.8L983.5 1379.4L985.1 1377.9L986.6 1376.4L988.2 1374.9L989.7 1373.3L991.3 1371.6L992.8 1369.9L994.4 1368.1L995.9 1366.2L997.5 1364.2L999.1 1362.1" stroke="#6fb3e3" stroke-width="6.5"/>
<path d="M813.9 1526.5L815.5 1525.5L817 1524.6L818.6 1523.6L820.1 1522.6L821.7 1521.6L823.3 1520.5L824.8 1519.4L826.4 1518.3L827.9 1517.1L829.5 1515.9L831 1514.7L832.6 1513.4L834.1 1512.1L835.7 1510.7L837.3 1509.3L838.8 1507.9L840.4 1506.5L841.9 1504.9L843.5 1503.3L845 1501.6L846.6 1499.9L848.1 1498.1L849.7 1496.3L851.3 1494.5L852.8 1492.7L854.4 1491L855.9 1489.3L857.5 1487.6L859 1486L860.6 1484.4L862.1 1482.8L863.7 1481.3L865.3 1479.7L866.8 1478.1L868.4 1476.6L869.9 1475.1L871.5 1473.5L873 1472L874.6 1470.6L876.1 1469.1L877.7 1467.6L879.3 1466.2L880.8 1464.7L882.4 1463.3L883.9 1461.9L885.5 1460.5L887 1459.1L888.6 1457.7L890.2 1456.3L891.7 1454.9L893.3 1453.5L894.8 1452.1L896.4 1450.7L897.9 1449.3L899.5 1447.9L901 1446.4L902.6 1445.1L904.2 1443.7L905.7 1442.3L907.3 1440.9L908.8 1439.6L910.4 1438.3L911.9 1437L913.5 1435.7L915 1434.4L916.6 1433.1L918.2 1431.9L919.7 1430.6L921.3 1429.4L922.8 1428.1L924.4 1426.9L925.9 1425.7L927.5 1424.5L929 1423.3L930.6 1422.2L932.2 1421L933.7 1419.9L935.3 1418.7L936.8 1417.6L938.4 1416.5L939.9 1415.4L941.5 1414.2L943 1413.1L944.6 1411.9L946.2 1410.8L947.7 1409.7L949.3 1408.5L950.8 1407.4L952.4 1406.3L953.9 1405.2L955.5 1404L957 1402.9L958.6 1401.7L960.2 1400.5L961.7 1399.2L963.3 1397.9L964.8 1396.6L966.4 1395.3L967.9 1394L969.5 1392.6L971 1391.2L972.6 1389.8L974.2 1388.3L975.7 1386.9L977.3 1385.4L978.8 1384L980.4 1382.5L981.9 1381L983.5 1379.5L985.1 1378L986.6 1376.5L988.2 1374.9L989.7 1373.3L991.3 1371.6L992.8 1369.9L994.4 1368.1L995.9 1366.2L997.5 1364.2L999.1 1362.1" stroke="#c878d6" stroke-width="6.5"/>
<path d="M813.9 1518.2L815.5 1517.1L817 1516L818.6 1514.8L820.1 1513.6L821.7 1512.4L823.3 1511.1L824.8 1509.8L826.4 1508.5L827.9 1507.1L829.5 1505.7L831 1504.2L832.6 1502.8L834.1 1501.3L835.7 1499.8L837.3 1498.3L838.8 1496.8L840.4 1495.3L841.9 1493.8L843.5 1492.3L845 1490.8L846.6 1489.2L848.1 1487.7L849.7 1486.1L851.3 1484.6L852.8 1483L854.4 1481.5L855.9 1479.9L857.5 1478.4L859 1476.9L860.6 1475.4L862.1 1473.8L863.7 1472.3L865.3 1470.8L866.8 1469.3L868.4 1467.8L869.9 1466.3L871.5 1464.9L873 1463.5L874.6 1462L876.1 1460.6L877.7 1459.3L879.3 1457.9L880.8 1456.6L882.4 1455.2L883.9 1453.9L885.5 1452.6L887 1451.3L888.6 1450L890.2 1448.8L891.7 1447.5L893.3 1446.2L894.8 1445L896.4 1443.7L897.9 1442.5L899.5 1441.2L901 1440L902.6 1438.8L904.2 1437.6L905.7 1436.4L907.3 1435.2L908.8 1434L910.4 1432.8L911.9 1431.6L913.5 1430.4L915 1429.2L916.6 1428L918.2 1426.9L919.7 1425.7L921.3 1424.5L922.8 1423.4L924.4 1422.3L925.9 1421.2L927.5 1420.1L929 1419.1L930.6 1418.1L932.2 1417.1L933.7 1416.2L935.3 1415.3L936.8 1414.3L938.4 1413.4L939.9 1412.4L941.5 1411.4L943 1410.4L944.6 1409.4L946.2 1408.3L947.7 1407.2L949.3 1406.1L950.8 1404.9L952.4 1403.8L953.9 1402.6L955.5 1401.4L957 1400.2L958.6 1399L960.2 1397.8L961.7 1396.6L963.3 1395.4L964.8 1394.2L966.4 1392.9L967.9 1391.6L969.5 1390.4L971 1389.1L972.6 1387.8L974.2 1386.5L975.7 1385.1L977.3 1383.8L978.8 1382.5L980.4 1381.1L981.9 1379.8L983.5 1378.5L985.1 1377.2L986.6 1375.8L988.2 1374.4L989.7 1373L991.3 1371.5L992.8 1369.9L994.4 1368.1L995.9 1366.2L997.5 1364.2L999.1 1362.1" stroke="#a6e35a" stroke-width="6.5"/>
<path d="M813.9 1510.3L815.5 1509.1L817 1507.8L818.6 1506.5L820.1 1505.2L821.7 1503.9L823.3 1502.6L824.8 1501.2L826.4 1499.9L827.9 1498.5L829.5 1497.1L831 1495.7L832.6 1494.3L834.1 1492.9L835.7 1491.5L837.3 1490.1L838.8 1488.6L840.4 1487.2L841.9 1485.8L843.5 1484.4L845 1483L846.6 1481.6L848.1 1480.2L849.7 1478.8L851.3 1477.4L852.8 1476L854.4 1474.6L855.9 1473.2L857.5 1471.8L859 1470.4L860.6 1469L862.1 1467.5L863.7 1466.1L865.3 1464.7L866.8 1463.3L868.4 1461.9L869.9 1460.5L871.5 1459.2L873 1457.8L874.6 1456.5L876.1 1455.2L877.7 1453.9L879.3 1452.6L880.8 1451.3L882.4 1450L883.9 1448.7L885.5 1447.5L887 1446.2L888.6 1445L890.2 1443.8L891.7 1442.6L893.3 1441.5L894.8 1440.4L896.4 1439.2L897.9 1438.1L899.5 1437.1L901 1436L902.6 1434.9L904.2 1433.8L905.7 1432.8L907.3 1431.7L908.8 1430.6L910.4 1429.5L911.9 1428.4L913.5 1427.3L915 1426.2L916.6 1425.1L918.2 1423.9L919.7 1422.8L921.3 1421.7L922.8 1420.7L924.4 1419.6L925.9 1418.6L927.5 1417.6L929 1416.6L930.6 1415.7L932.2 1414.8L933.7 1413.9L935.3 1413L936.8 1412.1L938.4 1411.3L939.9 1410.4L941.5 1409.4L943 1408.5L944.6 1407.5L946.2 1406.5L947.7 1405.5L949.3 1404.4L950.8 1403.4L952.4 1402.3L953.9 1401.2L955.5 1400.1L957 1399L958.6 1397.8L960.2 1396.7L961.7 1395.5L963.3 1394.3L964.8 1393.1L966.4 1391.9L967.9 1390.7L969.5 1389.4L971 1388.1L972.6 1386.9L974.2 1385.6L975.7 1384.3L977.3 1383L978.8 1381.7L980.4 1380.4L981.9 1379.2L983.5 1378L985.1 1376.7L986.6 1375.5L988.2 1374.2L989.7 1372.8L991.3 1371.4L992.8 1369.9L994.4 1368.2L995.9 1366.3L997.5 1364.2L999.1 1362.1" stroke="#fdb353" stroke-width="6.5"/>
<path d="M765.5 1545.3V1486.1" stroke="#6fb3d8" stroke-width="5.5" stroke-linecap="butt"/>
<path d="M765.5 1595.3V1545.3" stroke="#fdb353" stroke-width="5.5" stroke-linecap="butt"/>
<path d="M783.5 1491.7V1473.1" stroke="#6fb3d8" stroke-width="5.5" stroke-linecap="butt"/>
<path d="M783.5 1549V1526.8" stroke="#fdb353" stroke-width="5.5" stroke-linecap="butt"/>
<path d="M783.5 1569.4V1549" stroke="#c878d6" stroke-width="5.5" stroke-linecap="butt"/>
<path d="M794.3 1476.8V1467.6" stroke="#6fb3d8" stroke-width="5.5" stroke-linecap="butt"/>
<path d="M794.3 1534.2V1521.3" stroke="#fdb353" stroke-width="5.5" stroke-linecap="butt"/>
<path d="M794.3 1543.5V1534.2" stroke="#a6e35a" stroke-width="5.5" stroke-linecap="butt"/>
<path d="M794.3 1556.4V1543.5" stroke="#c878d6" stroke-width="5.5" stroke-linecap="butt"/>
<path d="M801.6 1469.4V1462" stroke="#6fb3d8" stroke-width="5.5" stroke-linecap="butt"/>
<path d="M801.6 1525V1515.7" stroke="#fdb353" stroke-width="5.5" stroke-linecap="butt"/>
<path d="M801.6 1532.4V1525" stroke="#a6e35a" stroke-width="5.5" stroke-linecap="butt"/>
<path d="M801.6 1543.5V1532.4" stroke="#c878d6" stroke-width="5.5" stroke-linecap="butt"/>
<path d="M808.4 1463.9V1456.5" stroke="#6fb3d8" stroke-width="5.5" stroke-linecap="butt"/>
</g>
<rect x="740.6" y="1369.5" width="255.1" height="222.1" fill="none" stroke="#555" stroke-width="1.4"/>
<path d="M740.6 1591.6L737.1 1591.6M740.6 1580.5L738.6 1580.5M740.6 1573.9L738.6 1573.9M740.6 1569.3L738.6 1569.3M740.6 1565.7L738.6 1565.7M740.6 1562.8L738.6 1562.8M740.6 1560.3L738.6 1560.3M740.6 1558.2L738.6 1558.2M740.6 1556.3L738.6 1556.3M740.6 1554.6L737.1 1554.6M740.6 1543.4L738.6 1543.4M740.6 1536.9L738.6 1536.9M740.6 1532.3L738.6 1532.3M740.6 1528.7L738.6 1528.7M740.6 1525.8L738.6 1525.8M740.6 1523.3L738.6 1523.3M740.6 1521.2L738.6 1521.2M740.6 1519.3L738.6 1519.3M740.6 1517.6L737.1 1517.6M740.6 1506.4L738.6 1506.4M740.6 1499.9L738.6 1499.9M740.6 1495.3L738.6 1495.3M740.6 1491.7L738.6 1491.7M740.6 1488.8L738.6 1488.8M740.6 1486.3L738.6 1486.3M740.6 1484.1L738.6 1484.1M740.6 1482.2L738.6 1482.2M740.6 1480.5L737.1 1480.5M740.6 1469.4L738.6 1469.4M740.6 1462.9L738.6 1462.9M740.6 1458.3L738.6 1458.3M740.6 1454.7L738.6 1454.7M740.6 1451.7L738.6 1451.7M740.6 1449.3L738.6 1449.3M740.6 1447.1L738.6 1447.1M740.6 1445.2L738.6 1445.2M740.6 1443.5L737.1 1443.5M740.6 1432.4L738.6 1432.4M740.6 1425.9L738.6 1425.9M740.6 1421.2L738.6 1421.2M740.6 1417.7L738.6 1417.7M740.6 1414.7L738.6 1414.7M740.6 1412.3L738.6 1412.3M740.6 1410.1L738.6 1410.1M740.6 1408.2L738.6 1408.2M740.6 1406.5L737.1 1406.5M740.6 1395.4L738.6 1395.4M740.6 1388.9L738.6 1388.9M740.6 1384.2L738.6 1384.2M740.6 1380.6L738.6 1380.6M740.6 1377.7L738.6 1377.7M740.6 1375.2L738.6 1375.2M740.6 1373.1L738.6 1373.1M740.6 1371.2L738.6 1371.2M740.6 1369.5L737.1 1369.5M740.6 1591.6L740.6 1595.1M795.8 1591.6L795.8 1593.6M828.1 1591.6L828.1 1593.6M851 1591.6L851 1593.6M868.7 1591.6L868.7 1593.6M883.2 1591.6L883.2 1593.6M895.5 1591.6L895.5 1593.6M906.1 1591.6L906.1 1593.6M915.5 1591.6L915.5 1593.6M923.9 1591.6L923.9 1595.1M979.1 1591.6L979.1 1593.6" stroke="#444" stroke-width="1" fill="none"/>
<text x="734.2" y="1597" font-size="13.8" font-weight="bold" text-anchor="end" fill="#111" stroke="#111" stroke-width="0.3" textLength="19.6" lengthAdjust="spacingAndGlyphs">10<tspan font-size="9" dy="-5.2">1</tspan></text>
<text x="734.2" y="1560" font-size="13.8" font-weight="bold" text-anchor="end" fill="#111" stroke="#111" stroke-width="0.3" textLength="19.6" lengthAdjust="spacingAndGlyphs">10<tspan font-size="9" dy="-5.2">2</tspan></text>
<text x="734.2" y="1523" font-size="13.8" font-weight="bold" text-anchor="end" fill="#111" stroke="#111" stroke-width="0.3" textLength="19.6" lengthAdjust="spacingAndGlyphs">10<tspan font-size="9" dy="-5.2">3</tspan></text>
<text x="734.2" y="1486" font-size="13.8" font-weight="bold" text-anchor="end" fill="#111" stroke="#111" stroke-width="0.3" textLength="19.6" lengthAdjust="spacingAndGlyphs">10<tspan font-size="9" dy="-5.2">4</tspan></text>
<text x="734.2" y="1448.9" font-size="13.8" font-weight="bold" text-anchor="end" fill="#111" stroke="#111" stroke-width="0.3" textLength="19.6" lengthAdjust="spacingAndGlyphs">10<tspan font-size="9" dy="-5.2">5</tspan></text>
<text x="734.2" y="1411.9" font-size="13.8" font-weight="bold" text-anchor="end" fill="#111" stroke="#111" stroke-width="0.3" textLength="19.6" lengthAdjust="spacingAndGlyphs">10<tspan font-size="9" dy="-5.2">6</tspan></text>
<text x="734.2" y="1374.9" font-size="13.8" font-weight="bold" text-anchor="end" fill="#111" stroke="#111" stroke-width="0.3" textLength="19.6" lengthAdjust="spacingAndGlyphs">10<tspan font-size="9" dy="-5.2">7</tspan></text>
<text x="740.6" y="1609.5" font-size="14.5" font-weight="bold" text-anchor="middle" fill="#111" stroke="#111" stroke-width="0.35">1</text>
<text x="923.9" y="1609.5" font-size="14.5" font-weight="bold" text-anchor="middle" fill="#111" stroke="#111" stroke-width="0.35">10</text>
<defs>
<rect id="mS" x="-4" y="-4" width="8" height="8" fill="#757575" stroke="#222" stroke-width="1.1"/>
<circle id="mC" r="4.4" fill="#fdb92c" stroke="#e8981c" stroke-width="1.1"/>
<path id="mU" d="M0 -5.4L5.2 3.8H-5.2z" fill="#5cb8f6" stroke="#4fa6e4" stroke-width="1"/>
<path id="mD" d="M0 5.4L5.2 -3.8H-5.2z" fill="#2ee6b4" stroke="#169672" stroke-width="1.1"/>
</defs>
<path d="M1463.8 1562.2V1622.5" stroke="#222" stroke-width="1.4" fill="none"/>
<path d="M1463.8 1628.1l-3.3 -9.5h6.6z" fill="#111"/>
<path d="M1521.7 1585.2V1622.5" stroke="#f3c879" stroke-width="1.4" fill="none"/>
<path d="M1521.7 1628.1l-3.3 -9.5h6.6z" fill="#eda320"/>
<path d="M1545.3 1580.1V1622.5" stroke="#a9d6f7" stroke-width="1.4" fill="none"/>
<path d="M1545.3 1628.1l-3.3 -9.5h6.6z" fill="#6cb6e6"/>
<path d="M1303.2 1539.5L1340 1540.5L1367.9 1545.8L1390.4 1551.5L1409.2 1555.4L1425.5 1558.4L1439.7 1560.5L1452.4 1561.7L1463.8 1562.2L1474.2 1560.9L1483.8 1558.5L1492.6 1555.1L1500.8 1550.8L1508.4 1546.1L1515.6 1540.5L1522.4 1534.6L1528.8 1528L1534.9 1521.1L1540.6 1514.1L1546.1 1506.4L1551.4 1498.8L1556.4 1491.3L1561.2 1483.7L1565.8 1476.4L1570.3 1469.3L1574.5 1462.2L1578.7 1454.9L1582.7 1447.2L1586.5 1439.3L1590.2 1432L1593.9 1425.8L1597.4 1420.3L1600.8 1415.2L1604.1 1410.4L1607.3 1405.8L1610.4 1401.3L1613.5 1397L1616.4 1392.9L1619.3 1388.9L1622.2 1385.3L1624.9 1381.8L1627.6 1378.5L1630.2 1375.3L1632.8 1372.3L1635.3 1369.5L1637.8 1366.8L1640.2 1364.1L1642.6 1361.6L1644.9 1359.3L1647.2 1357.1L1649.4 1355.1L1651.6 1353.3L1653.7 1351.6L1655.8 1350L1657.9 1348.5L1660 1347.1L1662 1345.9L1663.9 1344.7L1665.9 1343.7L1667.8 1342.8L1669.6 1341.9L1671.5 1341.1L1673.3 1340.3L1675.1 1339.5L1676.8 1338.8L1678.6 1338.1L1680.3 1337.5L1681.9 1336.8L1683.6 1336.2L1685.2 1335.7L1686.8 1335.1L1688.4 1334.6L1690 1334.1L1691.5 1333.7L1693.1 1333.2L1694.6 1332.8L1696.1 1332.4L1697.5 1331.9L1699 1331.6L1700.4 1331.2L1701.8 1330.8L1703.2 1330.4L1704.6 1330.1L1706 1329.7L1707.3 1329.4L1708.7 1329.1L1710 1328.8L1711.3 1328.5L1712.6 1328.2L1713.9 1328L1715.1 1327.7L1716.4 1327.5L1717.6 1327.3L1718.8 1327L1720 1326.8L1721.2 1326.6L1722.4 1326.4L1723.6 1326.3L1724.8 1326.1L1725.9 1325.9L1727 1325.8L1728.2 1325.6L1729.3 1325.4L1730.4 1325.3L1731.5 1325.1L1732.6 1325L1733.7 1324.8L1734.7 1324.7L1735.8 1324.6L1736.8 1324.4L1737.9 1324.3L1738.9 1324.2L1739.9 1324.1L1740.9 1323.9L1741.9 1323.8L1742.9 1323.7L1743.9 1323.6L1744.9 1323.5L1745.8 1323.4L1746.8 1323.3L1747.7 1323.3L1748.7 1323.2L1749.6 1323.1L1750.6 1323L1751.5 1323L1752.4 1322.9L1753.3 1322.9L1754.2 1322.8" stroke="#333" stroke-width="1.1" fill="none"/>
<g><use href="#mS" x="1303.2" y="1539.5"/><use href="#mS" x="1340" y="1540.5"/><use href="#mS" x="1367.9" y="1545.8"/><use href="#mS" x="1390.4" y="1551.5"/><use href="#mS" x="1409.2" y="1555.4"/><use href="#mS" x="1425.5" y="1558.4"/><use href="#mS" x="1439.7" y="1560.5"/><use href="#mS" x="1452.4" y="1561.7"/><use href="#mS" x="1463.8" y="1562.2"/><use href="#mS" x="1474.2" y="1560.9"/><use href="#mS" x="1483.8" y="1558.5"/><use href="#mS" x="1492.6" y="1555.1"/><use href="#mS" x="1500.8" y="1550.8"/><use href="#mS" x="1508.4" y="1546.1"/><use href="#mS" x="1515.6" y="1540.5"/><use href="#mS" x="1522.4" y="1534.6"/><use href="#mS" x="1528.8" y="1528"/><use href="#mS" x="1534.9" y="1521.1"/><use href="#mS" x="1540.6" y="1514.1"/><use href="#mS" x="1546.1" y="1506.4"/><use href="#mS" x="1551.4" y="1498.8"/><use href="#mS" x="1556.4" y="1491.3"/><use href="#mS" x="1561.2" y="1483.7"/><use href="#mS" x="1565.8" y="1476.4"/><use href="#mS" x="1570.3" y="1469.3"/><use href="#mS" x="1574.5" y="1462.2"/><use href="#mS" x="1578.7" y="1454.9"/><use href="#mS" x="1582.7" y="1447.2"/><use href="#mS" x="1586.5" y="1439.3"/><use href="#mS" x="1590.2" y="1432"/><use href="#mS" x="1593.9" y="1425.8"/><use href="#mS" x="1597.4" y="1420.3"/><use href="#mS" x="1600.8" y="1415.2"/><use href="#mS" x="1604.1" y="1410.4"/><use href="#mS" x="1607.3" y="1405.8"/><use href="#mS" x="1610.4" y="1401.3"/><use href="#mS" x="1613.5" y="1397"/><use href="#mS" x="1616.4" y="1392.9"/><use href="#mS" x="1619.3" y="1388.9"/><use href="#mS" x="1622.2" y="1385.3"/><use href="#mS" x="1624.9" y="1381.8"/><use href="#mS" x="1627.6" y="1378.5"/><use href="#mS" x="1630.2" y="1375.3"/><use href="#mS" x="1632.8" y="1372.3"/><use href="#mS" x="1635.3" y="1369.5"/><use href="#mS" x="1637.8" y="1366.8"/><use href="#mS" x="1640.2" y="1364.1"/><use href="#mS" x="1642.6" y="1361.6"/><use href="#mS" x="1644.9" y="1359.3"/><use href="#mS" x="1647.2" y="1357.1"/><use href="#mS" x="1649.4" y="1355.1"/><use href="#mS" x="1651.6" y="1353.3"/><use href="#mS" x="1653.7" y="1351.6"/><use href="#mS" x="1655.8" y="1350"/><use href="#mS" x="1657.9" y="1348.5"/><use href="#mS" x="1660" y="1347.1"/><use href="#mS" x="1662" y="1345.9"/><use href="#mS" x="1663.9" y="1344.7"/><use href="#mS" x="1665.9" y="1343.7"/><use href="#mS" x="1667.8" y="1342.8"/><use href="#mS" x="1669.6" y="1341.9"/><use href="#mS" x="1671.5" y="1341.1"/><use href="#mS" x="1673.3" y="1340.3"/><use href="#mS" x="1675.1" y="1339.5"/><use href="#mS" x="1676.8" y="1338.8"/><use href="#mS" x="1678.6" y="1338.1"/><use href="#mS" x="1680.3" y="1337.5"/><use href="#mS" x="1681.9" y="1336.8"/><use href="#mS" x="1683.6" y="1336.2"/><use href="#mS" x="1685.2" y="1335.7"/><use href="#mS" x="1686.8" y="1335.1"/><use href="#mS" x="1688.4" y="1334.6"/><use href="#mS" x="1690" y="1334.1"/><use href="#mS" x="1691.5" y="1333.7"/><use href="#mS" x="1693.1" y="1333.2"/><use href="#mS" x="1694.6" y="1332.8"/><use href="#mS" x="1696.1" y="1332.4"/><use href="#mS" x="1697.5" y="1331.9"/><use href="#mS" x="1699" y="1331.6"/><use href="#mS" x="1700.4" y="1331.2"/><use href="#mS" x="1701.8" y="1330.8"/><use href="#mS" x="1703.2" y="1330.4"/><use href="#mS" x="1704.6" y="1330.1"/><use href="#mS" x="1706" y="1329.7"/><use href="#mS" x="1707.3" y="1329.4"/><use href="#mS" x="1708.7" y="1329.1"/><use href="#mS" x="1710" y="1328.8"/><use href="#mS" x="1711.3" y="1328.5"/><use href="#mS" x="1712.6" y="1328.2"/><use href="#mS" x="1713.9" y="1328"/><use href="#mS" x="1715.1" y="1327.7"/><use href="#mS" x="1716.4" y="1327.5"/><use href="#mS" x="1717.6" y="1327.3"/><use href="#mS" x="1718.8" y="1327"/><use href="#mS" x="1720" y="1326.8"/><use href="#mS" x="1721.2" y="1326.6"/><use href="#mS" x="1722.4" y="1326.4"/><use href="#mS" x="1723.6" y="1326.3"/><use href="#mS" x="1724.8" y="1326.1"/><use href="#mS" x="1725.9" y="1325.9"/><use href="#mS" x="1727" y="1325.8"/><use href="#mS" x="1728.2" y="1325.6"/><use href="#mS" x="1729.3" y="1325.4"/><use href="#mS" x="1730.4" y="1325.3"/><use href="#mS" x="1731.5" y="1325.1"/><use href="#mS" x="1732.6" y="1325"/><use href="#mS" x="1733.7" y="1324.8"/><use href="#mS" x="1734.7" y="1324.7"/><use href="#mS" x="1735.8" y="1324.6"/><use href="#mS" x="1736.8" y="1324.4"/><use href="#mS" x="1737.9" y="1324.3"/><use href="#mS" x="1738.9" y="1324.2"/><use href="#mS" x="1739.9" y="1324.1"/><use href="#mS" x="1740.9" y="1323.9"/><use href="#mS" x="1741.9" y="1323.8"/><use href="#mS" x="1742.9" y="1323.7"/><use href="#mS" x="1743.9" y="1323.6"/><use href="#mS" x="1744.9" y="1323.5"/><use href="#mS" x="1745.8" y="1323.4"/><use href="#mS" x="1746.8" y="1323.3"/><use href="#mS" x="1747.7" y="1323.3"/><use href="#mS" x="1748.7" y="1323.2"/><use href="#mS" x="1749.6" y="1323.1"/><use href="#mS" x="1750.6" y="1323"/><use href="#mS" x="1751.5" y="1323"/><use href="#mS" x="1752.4" y="1322.9"/><use href="#mS" x="1753.3" y="1322.9"/><use href="#mS" x="1754.2" y="1322.8"/></g>
<path d="M1303.2 1473L1340 1476.4L1367.9 1488.5L1390.4 1503.1L1409.2 1515.7L1425.5 1526.7L1439.7 1536.8L1452.4 1546.1L1463.8 1554.5L1474.2 1562.5L1483.8 1569.4L1492.6 1574.8L1500.8 1579L1508.4 1582L1515.6 1584.1L1522.4 1585.3L1528.8 1585.1L1534.9 1584.4L1540.6 1582L1546.1 1578.8L1551.4 1575.4L1556.4 1570.9L1561.2 1566.2L1565.8 1561.4L1570.3 1556.4L1574.5 1551.3L1578.7 1546L1582.7 1540.6L1586.5 1535L1590.2 1529.5L1593.9 1524L1597.4 1518.5L1600.8 1513L1604.1 1507.5L1607.3 1502.3L1610.4 1497.2L1613.5 1492.3L1616.4 1487.4L1619.3 1482.8L1622.2 1478.3L1624.9 1474L1627.6 1469.9L1630.2 1465.9L1632.8 1462L1635.3 1458.4L1637.8 1454.9L1640.2 1451.6L1642.6 1448.6L1644.9 1445.6L1647.2 1442.8L1649.4 1440.1L1651.6 1437.5L1653.7 1435.2L1655.8 1433L1657.9 1430.9L1660 1429L1662 1427.1L1663.9 1425.4L1665.9 1423.7L1667.8 1422.2L1669.6 1420.7L1671.5 1419.4L1673.3 1418.1L1675.1 1416.9L1676.8 1415.7L1678.6 1414.7L1680.3 1413.6L1681.9 1412.7L1683.6 1411.7L1685.2 1410.9L1686.8 1410.1L1688.4 1409.3L1690 1408.6L1691.5 1408L1693.1 1407.3L1694.6 1406.8L1696.1 1406.2L1697.5 1405.6L1699 1405.1L1700.4 1404.5L1701.8 1404L1703.2 1403.4L1704.6 1402.9L1706 1402.3L1707.3 1401.7L1708.7 1401L1710 1400.4L1711.3 1399.9L1712.6 1399.3L1713.9 1398.7L1715.1 1398.2L1716.4 1397.7L1717.6 1397.2L1718.8 1396.8L1720 1396.5L1721.2 1396.1L1722.4 1395.8L1723.6 1395.6L1724.8 1395.4L1725.9 1395.1L1727 1394.9L1728.2 1394.7L1729.3 1394.4L1730.4 1394.2L1731.5 1394L1732.6 1393.8L1733.7 1393.6L1734.7 1393.4L1735.8 1393.3L1736.8 1393.1L1737.9 1392.9L1738.9 1392.8L1739.9 1392.6L1740.9 1392.5L1741.9 1392.4L1742.9 1392.2L1743.9 1392.1L1744.9 1392L1745.8 1391.9L1746.8 1391.8L1747.7 1391.8L1748.7 1391.7L1749.6 1391.6L1750.6 1391.6L1751.5 1391.6L1752.4 1391.5L1753.3 1391.5L1754.2 1391.5" stroke="#eba03a" stroke-width="1.1" fill="none"/>
<g><use href="#mC" x="1303.2" y="1473"/><use href="#mC" x="1340" y="1476.4"/><use href="#mC" x="1367.9" y="1488.5"/><use href="#mC" x="1390.4" y="1503.1"/><use href="#mC" x="1409.2" y="1515.7"/><use href="#mC" x="1425.5" y="1526.7"/><use href="#mC" x="1439.7" y="1536.8"/><use href="#mC" x="1452.4" y="1546.1"/><use href="#mC" x="1463.8" y="1554.5"/><use href="#mC" x="1474.2" y="1562.5"/><use href="#mC" x="1483.8" y="1569.4"/><use href="#mC" x="1492.6" y="1574.8"/><use href="#mC" x="1500.8" y="1579"/><use href="#mC" x="1508.4" y="1582"/><use href="#mC" x="1515.6" y="1584.1"/><use href="#mC" x="1522.4" y="1585.3"/><use href="#mC" x="1528.8" y="1585.1"/><use href="#mC" x="1534.9" y="1584.4"/><use href="#mC" x="1540.6" y="1582"/><use href="#mC" x="1546.1" y="1578.8"/><use href="#mC" x="1551.4" y="1575.4"/><use href="#mC" x="1556.4" y="1570.9"/><use href="#mC" x="1561.2" y="1566.2"/><use href="#mC" x="1565.8" y="1561.4"/><use href="#mC" x="1570.3" y="1556.4"/><use href="#mC" x="1574.5" y="1551.3"/><use href="#mC" x="1578.7" y="1546"/><use href="#mC" x="1582.7" y="1540.6"/><use href="#mC" x="1586.5" y="1535"/><use href="#mC" x="1590.2" y="1529.5"/><use href="#mC" x="1593.9" y="1524"/><use href="#mC" x="1597.4" y="1518.5"/><use href="#mC" x="1600.8" y="1513"/><use href="#mC" x="1604.1" y="1507.5"/><use href="#mC" x="1607.3" y="1502.3"/><use href="#mC" x="1610.4" y="1497.2"/><use href="#mC" x="1613.5" y="1492.3"/><use href="#mC" x="1616.4" y="1487.4"/><use href="#mC" x="1619.3" y="1482.8"/><use href="#mC" x="1622.2" y="1478.3"/><use href="#mC" x="1624.9" y="1474"/><use href="#mC" x="1627.6" y="1469.9"/><use href="#mC" x="1630.2" y="1465.9"/><use href="#mC" x="1632.8" y="1462"/><use href="#mC" x="1635.3" y="1458.4"/><use href="#mC" x="1637.8" y="1454.9"/><use href="#mC" x="1640.2" y="1451.6"/><use href="#mC" x="1642.6" y="1448.6"/><use href="#mC" x="1644.9" y="1445.6"/><use href="#mC" x="1647.2" y="1442.8"/><use href="#mC" x="1649.4" y="1440.1"/><use href="#mC" x="1651.6" y="1437.5"/><use href="#mC" x="1653.7" y="1435.2"/><use href="#mC" x="1655.8" y="1433"/><use href="#mC" x="1657.9" y="1430.9"/><use href="#mC" x="1660" y="1429"/><use href="#mC" x="1662" y="1427.1"/><use href="#mC" x="1663.9" y="1425.4"/><use href="#mC" x="1665.9" y="1423.7"/><use href="#mC" x="1667.8" y="1422.2"/><use href="#mC" x="1669.6" y="1420.7"/><use href="#mC" x="1671.5" y="1419.4"/><use href="#mC" x="1673.3" y="1418.1"/><use href="#mC" x="1675.1" y="1416.9"/><use href="#mC" x="1676.8" y="1415.7"/><use href="#mC" x="1678.6" y="1414.7"/><use href="#mC" x="1680.3" y="1413.6"/><use href="#mC" x="1681.9" y="1412.7"/><use href="#mC" x="1683.6" y="1411.7"/><use href="#mC" x="1685.2" y="1410.9"/><use href="#mC" x="1686.8" y="1410.1"/><use href="#mC" x="1688.4" y="1409.3"/><use href="#mC" x="1690" y="1408.6"/><use href="#mC" x="1691.5" y="1408"/><use href="#mC" x="1693.1" y="1407.3"/><use href="#mC" x="1694.6" y="1406.8"/><use href="#mC" x="1696.1" y="1406.2"/><use href="#mC" x="1697.5" y="1405.6"/><use href="#mC" x="1699" y="1405.1"/><use href="#mC" x="1700.4" y="1404.5"/><use href="#mC" x="1701.8" y="1404"/><use href="#mC" x="1703.2" y="1403.4"/><use href="#mC" x="1704.6" y="1402.9"/><use href="#mC" x="1706" y="1402.3"/><use href="#mC" x="1707.3" y="1401.7"/><use href="#mC" x="1708.7" y="1401"/><use href="#mC" x="1710" y="1400.4"/><use href="#mC" x="1711.3" y="1399.9"/><use href="#mC" x="1712.6" y="1399.3"/><use href="#mC" x="1713.9" y="1398.7"/><use href="#mC" x="1715.1" y="1398.2"/><use href="#mC" x="1716.4" y="1397.7"/><use href="#mC" x="1717.6" y="1397.2"/><use href="#mC" x="1718.8" y="1396.8"/><use href="#mC" x="1720" y="1396.5"/><use href="#mC" x="1721.2" y="1396.1"/><use href="#mC" x="1722.4" y="1395.8"/><use href="#mC" x="1723.6" y="1395.6"/><use href="#mC" x="1724.8" y="1395.4"/><use href="#mC" x="1725.9" y="1395.1"/><use href="#mC" x="1727" y="1394.9"/><use href="#mC" x="1728.2" y="1394.7"/><use href="#mC" x="1729.3" y="1394.4"/><use href="#mC" x="1730.4" y="1394.2"/><use href="#mC" x="1731.5" y="1394"/><use href="#mC" x="1732.6" y="1393.8"/><use href="#mC" x="1733.7" y="1393.6"/><use href="#mC" x="1734.7" y="1393.4"/><use href="#mC" x="1735.8" y="1393.3"/><use href="#mC" x="1736.8" y="1393.1"/><use href="#mC" x="1737.9" y="1392.9"/><use href="#mC" x="1738.9" y="1392.8"/><use href="#mC" x="1739.9" y="1392.6"/><use href="#mC" x="1740.9" y="1392.5"/><use href="#mC" x="1741.9" y="1392.4"/><use href="#mC" x="1742.9" y="1392.2"/><use href="#mC" x="1743.9" y="1392.1"/><use href="#mC" x="1744.9" y="1392"/><use href="#mC" x="1745.8" y="1391.9"/><use href="#mC" x="1746.8" y="1391.8"/><use href="#mC" x="1747.7" y="1391.8"/><use href="#mC" x="1748.7" y="1391.7"/><use href="#mC" x="1749.6" y="1391.6"/><use href="#mC" x="1750.6" y="1391.6"/><use href="#mC" x="1751.5" y="1391.6"/><use href="#mC" x="1752.4" y="1391.5"/><use href="#mC" x="1753.3" y="1391.5"/><use href="#mC" x="1754.2" y="1391.5"/></g>
<path d="M1303.2 1427.9L1340 1432.2L1367.9 1446L1390.4 1462.9L1409.2 1476.9L1425.5 1490.4L1439.7 1503.1L1452.4 1515.2L1463.8 1526.4L1474.2 1536L1483.8 1545.3L1492.6 1553.7L1500.8 1562.6L1508.4 1568.5L1515.6 1572.8L1522.4 1576.2L1528.8 1578.6L1534.9 1579.6L1540.6 1580.2L1546.1 1580.3L1551.4 1579.3L1556.4 1577.3L1561.2 1574.9L1565.8 1572.4L1570.3 1569.3L1574.5 1565.8L1578.7 1562.4L1582.7 1558.8L1586.5 1555.1L1590.2 1551.3L1593.9 1547.5L1597.4 1543.5L1600.8 1539.3L1604.1 1535.1L1607.3 1531.2L1610.4 1527.5L1613.5 1524.1L1616.4 1520.8L1619.3 1517.6L1622.2 1514.5L1624.9 1511.5L1627.6 1508.6L1630.2 1505.7L1632.8 1502.9L1635.3 1500.2L1637.8 1497.6L1640.2 1495L1642.6 1492.6L1644.9 1490.3L1647.2 1488L1649.4 1485.8L1651.6 1483.6L1653.7 1481.6L1655.8 1479.6L1657.9 1477.7L1660 1475.9L1662 1474.1L1663.9 1472.4L1665.9 1470.7L1667.8 1469.1L1669.6 1467.6L1671.5 1466.2L1673.3 1464.8L1675.1 1463.4L1676.8 1462.2L1678.6 1460.9L1680.3 1459.7L1681.9 1458.6L1683.6 1457.5L1685.2 1456.4L1686.8 1455.4L1688.4 1454.4L1690 1453.5L1691.5 1452.5L1693.1 1451.7L1694.6 1450.8L1696.1 1450L1697.5 1449.2L1699 1448.4L1700.4 1447.7L1701.8 1447L1703.2 1446.4L1704.6 1445.8L1706 1445.2L1707.3 1444.6L1708.7 1444L1710 1443.5L1711.3 1443L1712.6 1442.5L1713.9 1442L1715.1 1441.6L1716.4 1441.2L1717.6 1440.8L1718.8 1440.4L1720 1440L1721.2 1439.6L1722.4 1439.3L1723.6 1438.9L1724.8 1438.6L1725.9 1438.3L1727 1438L1728.2 1437.7L1729.3 1437.4L1730.4 1437.2L1731.5 1436.9L1732.6 1436.7L1733.7 1436.5L1734.7 1436.3L1735.8 1436.1L1736.8 1435.9L1737.9 1435.7L1738.9 1435.5L1739.9 1435.3L1740.9 1435.2L1741.9 1435L1742.9 1434.8L1743.9 1434.7L1744.9 1434.5L1745.8 1434.4L1746.8 1434.2L1747.7 1434.1L1748.7 1434L1749.6 1433.9L1750.6 1433.7L1751.5 1433.6L1752.4 1433.5L1753.3 1433.5L1754.2 1433.4" stroke="#6fb0de" stroke-width="1.1" fill="none"/>
<g><use href="#mU" x="1303.2" y="1427.9"/><use href="#mU" x="1340" y="1432.2"/><use href="#mU" x="1367.9" y="1446"/><use href="#mU" x="1390.4" y="1462.9"/><use href="#mU" x="1409.2" y="1476.9"/><use href="#mU" x="1425.5" y="1490.4"/><use href="#mU" x="1439.7" y="1503.1"/><use href="#mU" x="1452.4" y="1515.2"/><use href="#mU" x="1463.8" y="1526.4"/><use href="#mU" x="1474.2" y="1536"/><use href="#mU" x="1483.8" y="1545.3"/><use href="#mU" x="1492.6" y="1553.7"/><use href="#mU" x="1500.8" y="1562.6"/><use href="#mU" x="1508.4" y="1568.5"/><use href="#mU" x="1515.6" y="1572.8"/><use href="#mU" x="1522.4" y="1576.2"/><use href="#mU" x="1528.8" y="1578.6"/><use href="#mU" x="1534.9" y="1579.6"/><use href="#mU" x="1540.6" y="1580.2"/><use href="#mU" x="1546.1" y="1580.3"/><use href="#mU" x="1551.4" y="1579.3"/><use href="#mU" x="1556.4" y="1577.3"/><use href="#mU" x="1561.2" y="1574.9"/><use href="#mU" x="1565.8" y="1572.4"/><use href="#mU" x="1570.3" y="1569.3"/><use href="#mU" x="1574.5" y="1565.8"/><use href="#mU" x="1578.7" y="1562.4"/><use href="#mU" x="1582.7" y="1558.8"/><use href="#mU" x="1586.5" y="1555.1"/><use href="#mU" x="1590.2" y="1551.3"/><use href="#mU" x="1593.9" y="1547.5"/><use href="#mU" x="1597.4" y="1543.5"/><use href="#mU" x="1600.8" y="1539.3"/><use href="#mU" x="1604.1" y="1535.1"/><use href="#mU" x="1607.3" y="1531.2"/><use href="#mU" x="1610.4" y="1527.5"/><use href="#mU" x="1613.5" y="1524.1"/><use href="#mU" x="1616.4" y="1520.8"/><use href="#mU" x="1619.3" y="1517.6"/><use href="#mU" x="1622.2" y="1514.5"/><use href="#mU" x="1624.9" y="1511.5"/><use href="#mU" x="1627.6" y="1508.6"/><use href="#mU" x="1630.2" y="1505.7"/><use href="#mU" x="1632.8" y="1502.9"/><use href="#mU" x="1635.3" y="1500.2"/><use href="#mU" x="1637.8" y="1497.6"/><use href="#mU" x="1640.2" y="1495"/><use href="#mU" x="1642.6" y="1492.6"/><use href="#mU" x="1644.9" y="1490.3"/><use href="#mU" x="1647.2" y="1488"/><use href="#mU" x="1649.4" y="1485.8"/><use href="#mU" x="1651.6" y="1483.6"/><use href="#mU" x="1653.7" y="1481.6"/><use href="#mU" x="1655.8" y="1479.6"/><use href="#mU" x="1657.9" y="1477.7"/><use href="#mU" x="1660" y="1475.9"/><use href="#mU" x="1662" y="1474.1"/><use href="#mU" x="1663.9" y="1472.4"/><use href="#mU" x="1665.9" y="1470.7"/><use href="#mU" x="1667.8" y="1469.1"/><use href="#mU" x="1669.6" y="1467.6"/><use href="#mU" x="1671.5" y="1466.2"/><use href="#mU" x="1673.3" y="1464.8"/><use href="#mU" x="1675.1" y="1463.4"/><use href="#mU" x="1676.8" y="1462.2"/><use href="#mU" x="1678.6" y="1460.9"/><use href="#mU" x="1680.3" y="1459.7"/><use href="#mU" x="1681.9" y="1458.6"/><use href="#mU" x="1683.6" y="1457.5"/><use href="#mU" x="1685.2" y="1456.4"/><use href="#mU" x="1686.8" y="1455.4"/><use href="#mU" x="1688.4" y="1454.4"/><use href="#mU" x="1690" y="1453.5"/><use href="#mU" x="1691.5" y="1452.5"/><use href="#mU" x="1693.1" y="1451.7"/><use href="#mU" x="1694.6" y="1450.8"/><use href="#mU" x="1696.1" y="1450"/><use href="#mU" x="1697.5" y="1449.2"/><use href="#mU" x="1699" y="1448.4"/><use href="#mU" x="1700.4" y="1447.7"/><use href="#mU" x="1701.8" y="1447"/><use href="#mU" x="1703.2" y="1446.4"/><use href="#mU" x="1704.6" y="1445.8"/><use href="#mU" x="1706" y="1445.2"/><use href="#mU" x="1707.3" y="1444.6"/><use href="#mU" x="1708.7" y="1444"/><use href="#mU" x="1710" y="1443.5"/><use href="#mU" x="1711.3" y="1443"/><use href="#mU" x="1712.6" y="1442.5"/><use href="#mU" x="1713.9" y="1442"/><use href="#mU" x="1715.1" y="1441.6"/><use href="#mU" x="1716.4" y="1441.2"/><use href="#mU" x="1717.6" y="1440.8"/><use href="#mU" x="1718.8" y="1440.4"/><use href="#mU" x="1720" y="1440"/><use href="#mU" x="1721.2" y="1439.6"/><use href="#mU" x="1722.4" y="1439.3"/><use href="#mU" x="1723.6" y="1438.9"/><use href="#mU" x="1724.8" y="1438.6"/><use href="#mU" x="1725.9" y="1438.3"/><use href="#mU" x="1727" y="1438"/><use href="#mU" x="1728.2" y="1437.7"/><use href="#mU" x="1729.3" y="1437.4"/><use href="#mU" x="1730.4" y="1437.2"/><use href="#mU" x="1731.5" y="1436.9"/><use href="#mU" x="1732.6" y="1436.7"/><use href="#mU" x="1733.7" y="1436.5"/><use href="#mU" x="1734.7" y="1436.3"/><use href="#mU" x="1735.8" y="1436.1"/><use href="#mU" x="1736.8" y="1435.9"/><use href="#mU" x="1737.9" y="1435.7"/><use href="#mU" x="1738.9" y="1435.5"/><use href="#mU" x="1739.9" y="1435.3"/><use href="#mU" x="1740.9" y="1435.2"/><use href="#mU" x="1741.9" y="1435"/><use href="#mU" x="1742.9" y="1434.8"/><use href="#mU" x="1743.9" y="1434.7"/><use href="#mU" x="1744.9" y="1434.5"/><use href="#mU" x="1745.8" y="1434.4"/><use href="#mU" x="1746.8" y="1434.2"/><use href="#mU" x="1747.7" y="1434.1"/><use href="#mU" x="1748.7" y="1434"/><use href="#mU" x="1749.6" y="1433.9"/><use href="#mU" x="1750.6" y="1433.7"/><use href="#mU" x="1751.5" y="1433.6"/><use href="#mU" x="1752.4" y="1433.5"/><use href="#mU" x="1753.3" y="1433.5"/><use href="#mU" x="1754.2" y="1433.4"/></g>
<path d="M1303.2 1270.4L1340 1275.5L1367.9 1294.3L1390.4 1316.5L1409.2 1336.5L1425.5 1355.2L1439.7 1374L1452.4 1392.2L1463.8 1409.9L1474.2 1427.1L1483.8 1444.3L1492.6 1460.3L1500.8 1475.2L1508.4 1488.7L1515.6 1502.2L1522.4 1514.9L1528.8 1525.9L1534.9 1535.6L1540.6 1544.9L1546.1 1552.8L1551.4 1561L1556.4 1567.7L1561.2 1573.1L1565.8 1578.2L1570.3 1583.2L1574.5 1587.5L1578.7 1591.7L1582.7 1595.7L1586.5 1599.6L1590.2 1603L1593.9 1605.8L1597.4 1608.2L1600.8 1610.3L1604.1 1612.1L1607.3 1613.5L1610.4 1614.7L1613.5 1615.6L1616.4 1616.4L1619.3 1617.1L1622.2 1617.7L1624.9 1618.1L1627.6 1618.6L1630.2 1619L1632.8 1619.3L1635.3 1619.6L1637.8 1619.6L1640.2 1619.5L1642.6 1619.4L1644.9 1619.1L1647.2 1618.8L1649.4 1618.4L1651.6 1618.1L1653.7 1617.7L1655.8 1617.3L1657.9 1617L1660 1616.5L1662 1616L1663.9 1615.5L1665.9 1615L1667.8 1614.5L1669.6 1613.9L1671.5 1613.4L1673.3 1612.9L1675.1 1612.4L1676.8 1611.9L1678.6 1611.3L1680.3 1610.8L1681.9 1610.3L1683.6 1609.8L1685.2 1609.3L1686.8 1608.8L1688.4 1608.3L1690 1607.8L1691.5 1607.4L1693.1 1606.9L1694.6 1606.4L1696.1 1606L1697.5 1605.5L1699 1605.1L1700.4 1604.7L1701.8 1604.3L1703.2 1603.9L1704.6 1603.5L1706 1603.1L1707.3 1602.8L1708.7 1602.4L1710 1602.1L1711.3 1601.8L1712.6 1601.4L1713.9 1601.1L1715.1 1600.8L1716.4 1600.5L1717.6 1600.2L1718.8 1600L1720 1599.7L1721.2 1599.4L1722.4 1599.2L1723.6 1598.9L1724.8 1598.7L1725.9 1598.4L1727 1598.2L1728.2 1598L1729.3 1597.8L1730.4 1597.6L1731.5 1597.4L1732.6 1597.2L1733.7 1597L1734.7 1596.9L1735.8 1596.7L1736.8 1596.6L1737.9 1596.4L1738.9 1596.3L1739.9 1596.2L1740.9 1596L1741.9 1595.9L1742.9 1595.8L1743.9 1595.7L1744.9 1595.5L1745.8 1595.4L1746.8 1595.3L1747.7 1595.2L1748.7 1595.1L1749.6 1595.1L1750.6 1595L1751.5 1594.9L1752.4 1594.8L1753.3 1594.8L1754.2 1594.7" stroke="#1c8c6c" stroke-width="1.1" fill="none"/>
<g><use href="#mD" x="1303.2" y="1270.4"/><use href="#mD" x="1340" y="1275.5"/><use href="#mD" x="1367.9" y="1294.3"/><use href="#mD" x="1390.4" y="1316.5"/><use href="#mD" x="1409.2" y="1336.5"/><use href="#mD" x="1425.5" y="1355.2"/><use href="#mD" x="1439.7" y="1374"/><use href="#mD" x="1452.4" y="1392.2"/><use href="#mD" x="1463.8" y="1409.9"/><use href="#mD" x="1474.2" y="1427.1"/><use href="#mD" x="1483.8" y="1444.3"/><use href="#mD" x="1492.6" y="1460.3"/><use href="#mD" x="1500.8" y="1475.2"/><use href="#mD" x="1508.4" y="1488.7"/><use href="#mD" x="1515.6" y="1502.2"/><use href="#mD" x="1522.4" y="1514.9"/><use href="#mD" x="1528.8" y="1525.9"/><use href="#mD" x="1534.9" y="1535.6"/><use href="#mD" x="1540.6" y="1544.9"/><use href="#mD" x="1546.1" y="1552.8"/><use href="#mD" x="1551.4" y="1561"/><use href="#mD" x="1556.4" y="1567.7"/><use href="#mD" x="1561.2" y="1573.1"/><use href="#mD" x="1565.8" y="1578.2"/><use href="#mD" x="1570.3" y="1583.2"/><use href="#mD" x="1574.5" y="1587.5"/><use href="#mD" x="1578.7" y="1591.7"/><use href="#mD" x="1582.7" y="1595.7"/><use href="#mD" x="1586.5" y="1599.6"/><use href="#mD" x="1590.2" y="1603"/><use href="#mD" x="1593.9" y="1605.8"/><use href="#mD" x="1597.4" y="1608.2"/><use href="#mD" x="1600.8" y="1610.3"/><use href="#mD" x="1604.1" y="1612.1"/><use href="#mD" x="1607.3" y="1613.5"/><use href="#mD" x="1610.4" y="1614.7"/><use href="#mD" x="1613.5" y="1615.6"/><use href="#mD" x="1616.4" y="1616.4"/><use href="#mD" x="1619.3" y="1617.1"/><use href="#mD" x="1622.2" y="1617.7"/><use href="#mD" x="1624.9" y="1618.1"/><use href="#mD" x="1627.6" y="1618.6"/><use href="#mD" x="1630.2" y="1619"/><use href="#mD" x="1632.8" y="1619.3"/><use href="#mD" x="1635.3" y="1619.6"/><use href="#mD" x="1637.8" y="1619.6"/><use href="#mD" x="1640.2" y="1619.5"/><use href="#mD" x="1642.6" y="1619.4"/><use href="#mD" x="1644.9" y="1619.1"/><use href="#mD" x="1647.2" y="1618.8"/><use href="#mD" x="1649.4" y="1618.4"/><use href="#mD" x="1651.6" y="1618.1"/><use href="#mD" x="1653.7" y="1617.7"/><use href="#mD" x="1655.8" y="1617.3"/><use href="#mD" x="1657.9" y="1617"/><use href="#mD" x="1660" y="1616.5"/><use href="#mD" x="1662" y="1616"/><use href="#mD" x="1663.9" y="1615.5"/><use href="#mD" x="1665.9" y="1615"/><use href="#mD" x="1667.8" y="1614.5"/><use href="#mD" x="1669.6" y="1613.9"/><use href="#mD" x="1671.5" y="1613.4"/><use href="#mD" x="1673.3" y="1612.9"/><use href="#mD" x="1675.1" y="1612.4"/><use href="#mD" x="1676.8" y="1611.9"/><use href="#mD" x="1678.6" y="1611.3"/><use href="#mD" x="1680.3" y="1610.8"/><use href="#mD" x="1681.9" y="1610.3"/><use href="#mD" x="1683.6" y="1609.8"/><use href="#mD" x="1685.2" y="1609.3"/><use href="#mD" x="1686.8" y="1608.8"/><use href="#mD" x="1688.4" y="1608.3"/><use href="#mD" x="1690" y="1607.8"/><use href="#mD" x="1691.5" y="1607.4"/><use href="#mD" x="1693.1" y="1606.9"/><use href="#mD" x="1694.6" y="1606.4"/><use href="#mD" x="1696.1" y="1606"/><use href="#mD" x="1697.5" y="1605.5"/><use href="#mD" x="1699" y="1605.1"/><use href="#mD" x="1700.4" y="1604.7"/><use href="#mD" x="1701.8" y="1604.3"/><use href="#mD" x="1703.2" y="1603.9"/><use href="#mD" x="1704.6" y="1603.5"/><use href="#mD" x="1706" y="1603.1"/><use href="#mD" x="1707.3" y="1602.8"/><use href="#mD" x="1708.7" y="1602.4"/><use href="#mD" x="1710" y="1602.1"/><use href="#mD" x="1711.3" y="1601.8"/><use href="#mD" x="1712.6" y="1601.4"/><use href="#mD" x="1713.9" y="1601.1"/><use href="#mD" x="1715.1" y="1600.8"/><use href="#mD" x="1716.4" y="1600.5"/><use href="#mD" x="1717.6" y="1600.2"/><use href="#mD" x="1718.8" y="1600"/><use href="#mD" x="1720" y="1599.7"/><use href="#mD" x="1721.2" y="1599.4"/><use href="#mD" x="1722.4" y="1599.2"/><use href="#mD" x="1723.6" y="1598.9"/><use href="#mD" x="1724.8" y="1598.7"/><use href="#mD" x="1725.9" y="1598.4"/><use href="#mD" x="1727" y="1598.2"/><use href="#mD" x="1728.2" y="1598"/><use href="#mD" x="1729.3" y="1597.8"/><use href="#mD" x="1730.4" y="1597.6"/><use href="#mD" x="1731.5" y="1597.4"/><use href="#mD" x="1732.6" y="1597.2"/><use href="#mD" x="1733.7" y="1597"/><use href="#mD" x="1734.7" y="1596.9"/><use href="#mD" x="1735.8" y="1596.7"/><use href="#mD" x="1736.8" y="1596.6"/><use href="#mD" x="1737.9" y="1596.4"/><use href="#mD" x="1738.9" y="1596.3"/><use href="#mD" x="1739.9" y="1596.2"/><use href="#mD" x="1740.9" y="1596"/><use href="#mD" x="1741.9" y="1595.9"/><use href="#mD" x="1742.9" y="1595.8"/><use href="#mD" x="1743.9" y="1595.7"/><use href="#mD" x="1744.9" y="1595.5"/><use href="#mD" x="1745.8" y="1595.4"/><use href="#mD" x="1746.8" y="1595.3"/><use href="#mD" x="1747.7" y="1595.2"/><use href="#mD" x="1748.7" y="1595.1"/><use href="#mD" x="1749.6" y="1595.1"/><use href="#mD" x="1750.6" y="1595"/><use href="#mD" x="1751.5" y="1594.9"/><use href="#mD" x="1752.4" y="1594.8"/><use href="#mD" x="1753.3" y="1594.8"/><use href="#mD" x="1754.2" y="1594.7"/></g>
<path d="M1637.3 1628.1l-3 -9h6z" fill="#17a077"/>
<rect x="1275.2" y="1230" width="493.7" height="398.5" fill="none" stroke="#3a3a3a" stroke-width="1.8"/>
<path d="M1275.2 1628.5L1268.9 1628.5M1275.2 1600L1271.8 1600M1275.2 1571.6L1268.9 1571.6M1275.2 1543.1L1271.8 1543.1M1275.2 1514.6L1268.9 1514.6M1275.2 1486.2L1271.8 1486.2M1275.2 1457.7L1268.9 1457.7M1275.2 1429.2L1271.8 1429.2M1275.2 1400.8L1268.9 1400.8M1275.2 1372.3L1271.8 1372.3M1275.2 1343.9L1268.9 1343.9M1275.2 1315.4L1271.8 1315.4M1275.2 1286.9L1268.9 1286.9M1275.2 1258.5L1271.8 1258.5M1275.2 1230L1268.9 1230M1294.8 1628.5L1294.8 1631.9M1312.7 1628.5L1312.7 1631.9M1328.2 1628.5L1328.2 1631.9M1341.9 1628.5L1341.9 1631.9M1354.2 1628.5L1354.2 1634.8M1434.8 1628.5L1434.8 1631.9M1482 1628.5L1482 1631.9M1515.5 1628.5L1515.5 1631.9M1541.5 1628.5L1541.5 1631.9M1562.7 1628.5L1562.7 1631.9M1580.6 1628.5L1580.6 1631.9M1596.1 1628.5L1596.1 1631.9M1609.8 1628.5L1609.8 1631.9M1622.1 1628.5L1622.1 1634.8M1702.7 1628.5L1702.7 1631.9M1749.9 1628.5L1749.9 1631.9" stroke="#3a3a3a" stroke-width="1.6" fill="none"/>
<text x="1260.6" y="1636.2" font-size="22" font-weight="bold" text-anchor="end" fill="#111" stroke="#111" stroke-width="0.35">0</text>
<text x="1260.6" y="1579.3" font-size="22" font-weight="bold" text-anchor="end" fill="#111" stroke="#111" stroke-width="0.35">1</text>
<text x="1260.6" y="1522.3" font-size="22" font-weight="bold" text-anchor="end" fill="#111" stroke="#111" stroke-width="0.35">2</text>
<text x="1260.6" y="1465.4" font-size="22" font-weight="bold" text-anchor="end" fill="#111" stroke="#111" stroke-width="0.35">3</text>
<text x="1260.6" y="1408.5" font-size="22" font-weight="bold" text-anchor="end" fill="#111" stroke="#111" stroke-width="0.35">4</text>
<text x="1260.6" y="1351.6" font-size="22" font-weight="bold" text-anchor="end" fill="#111" stroke="#111" stroke-width="0.35">5</text>
<text x="1260.6" y="1294.6" font-size="22" font-weight="bold" text-anchor="end" fill="#111" stroke="#111" stroke-width="0.35">6</text>
<text x="1260.6" y="1237.7" font-size="22" font-weight="bold" text-anchor="end" fill="#111" stroke="#111" stroke-width="0.35">7</text>
<text x="1353.9" y="1657.2" font-size="22" font-weight="bold" text-anchor="middle" fill="#111" stroke="#111" stroke-width="0.35">1</text>
<text x="1621.8" y="1657.2" font-size="22" font-weight="bold" text-anchor="middle" fill="#111" stroke="#111" stroke-width="0.35">10</text>
<text x="1378.2" y="1690.5" font-size="22.4" font-weight="bold" text-anchor="start" fill="#111" stroke="#111" stroke-width="0.35" textLength="285.5" lengthAdjust="spacingAndGlyphs">Gaussian Kernel Size (µm)</text>
<text transform="translate(1239.4 1428.5) rotate(-90)" text-anchor="middle" font-size="22.8" fill="#111"><tspan font-weight="bold" stroke="#111" stroke-width="0.35">Mean Square Error</tspan><tspan font-weight="normal"> (</tspan><tspan font-weight="normal" dx="1">×</tspan><tspan font-weight="normal" dx="1">10</tspan><tspan font-weight="normal" dy="-8.9" font-size="14.6">-2</tspan><tspan font-weight="normal" dy="8.9">)</tspan></text>
<text x="1223" y="1698" font-size="47.5" font-weight="bold" text-anchor="start" fill="#111" stroke="#111" stroke-width="0.35">(c)</text>
<rect x="1437.7" y="1235.2" width="187.2" height="88.7" fill="#fff" stroke="#555" stroke-width="1.3"/>
<path d="M1440.6 1248.1H1477.7" stroke="#333" stroke-width="1.2"/>
<use href="#mS" x="1459.3" y="1248.1"/>
<text x="1483.8" y="1254.2" font-size="16.4" font-weight="bold" text-anchor="start" fill="#2323dc" stroke="#2323dc" stroke-width="0.35" textLength="138.5" lengthAdjust="spacingAndGlyphs">3-1 µm (DeepNet)</text>
<path d="M1440.6 1269.3H1477.7" stroke="#eba03a" stroke-width="1.2"/>
<use href="#mC" x="1459.3" y="1269.3"/>
<text x="1483.8" y="1275.4" font-size="16.4" font-weight="bold" text-anchor="start" fill="#111" stroke="#111" stroke-width="0.35" textLength="130.5" lengthAdjust="spacingAndGlyphs">3 µm (Denoised)</text>
<path d="M1440.6 1290.6H1477.7" stroke="#6fb0de" stroke-width="1.2"/>
<use href="#mU" x="1459.3" y="1290.6"/>
<text x="1483.8" y="1296.7" font-size="16.4" font-weight="bold" text-anchor="start" fill="#2323dc" stroke="#2323dc" stroke-width="0.35" textLength="138.5" lengthAdjust="spacingAndGlyphs">9-3 µm (DeepNet)</text>
<path d="M1440.6 1311.8H1477.7" stroke="#1c8c6c" stroke-width="1.2"/>
<use href="#mD" x="1459.3" y="1311.8"/>
<text x="1483.8" y="1317.9" font-size="16.4" font-weight="bold" text-anchor="start" fill="#111" stroke="#111" stroke-width="0.35" textLength="135.5" lengthAdjust="spacingAndGlyphs">9 µm (Denoised)<tspan font-weight="normal" stroke="none">)</tspan></text>
</svg>
</body></html>
